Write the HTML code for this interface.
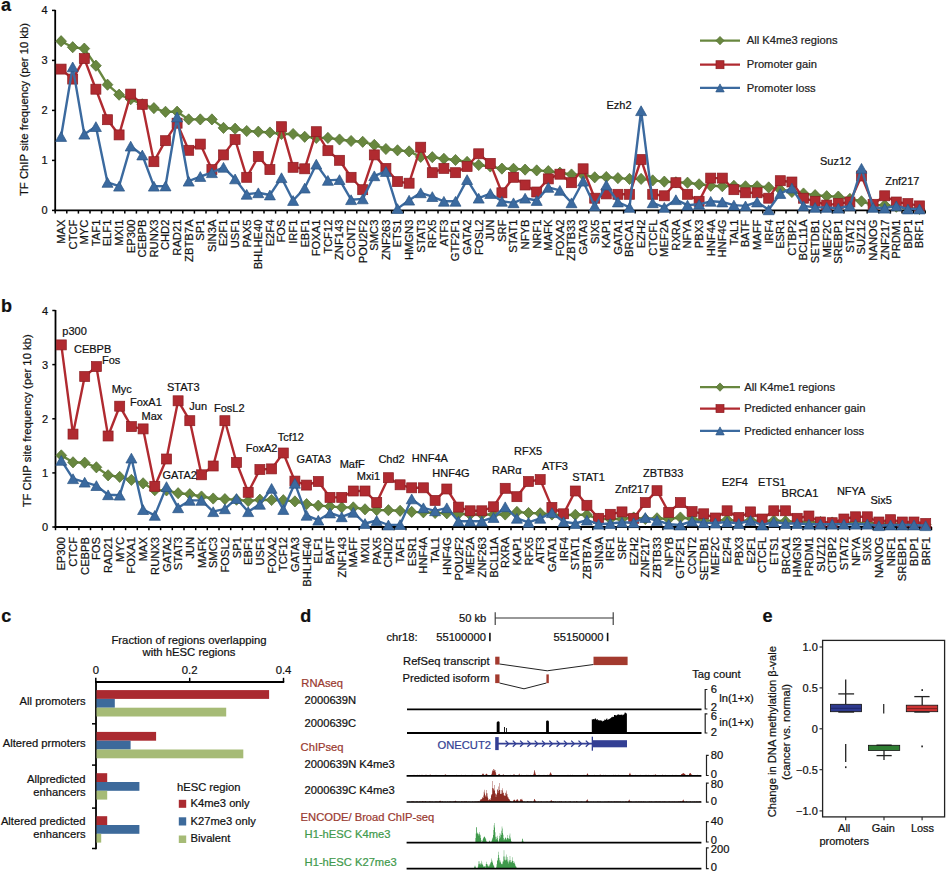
<!DOCTYPE html><html><head><meta charset="utf-8"><style>html,body{margin:0;padding:0;background:#fff;overflow:hidden}svg{display:block}text{font-family:"Liberation Sans", sans-serif;stroke-width:0.22px}</style></head><body>
<svg width="946" height="874" viewBox="0 0 946 874">
<rect width="946" height="874" fill="#fff"/>
<g font-size="11" fill="#111" stroke="#111" stroke-width="0">
<line x1="55.2" y1="9.9" x2="55.2" y2="211.3" stroke="#000" stroke-width="1.8"/>
<line x1="54.3" y1="210.4" x2="925.3" y2="210.4" stroke="#000" stroke-width="1.8"/>
<line x1="52" y1="210.4" x2="55.2" y2="210.4" stroke="#000" stroke-width="1.5"/>
<text x="47.7" y="214.4" text-anchor="end">0</text>
<line x1="52" y1="160.4" x2="55.2" y2="160.4" stroke="#000" stroke-width="1.5"/>
<text x="47.7" y="164.4" text-anchor="end">1</text>
<line x1="52" y1="110.4" x2="55.2" y2="110.4" stroke="#000" stroke-width="1.5"/>
<text x="47.7" y="114.4" text-anchor="end">2</text>
<line x1="52" y1="60.4" x2="55.2" y2="60.4" stroke="#000" stroke-width="1.5"/>
<text x="47.7" y="64.4" text-anchor="end">3</text>
<line x1="52" y1="10.4" x2="55.2" y2="10.4" stroke="#000" stroke-width="1.5"/>
<text x="47.7" y="14.4" text-anchor="end">4</text>
<line x1="55.2" y1="210.4" x2="55.2" y2="213.6" stroke="#000" stroke-width="1.5"/>
<line x1="66.8" y1="210.4" x2="66.8" y2="213.6" stroke="#000" stroke-width="1.5"/>
<line x1="78.4" y1="210.4" x2="78.4" y2="213.6" stroke="#000" stroke-width="1.5"/>
<line x1="90" y1="210.4" x2="90" y2="213.6" stroke="#000" stroke-width="1.5"/>
<line x1="101.6" y1="210.4" x2="101.6" y2="213.6" stroke="#000" stroke-width="1.5"/>
<line x1="113.2" y1="210.4" x2="113.2" y2="213.6" stroke="#000" stroke-width="1.5"/>
<line x1="124.8" y1="210.4" x2="124.8" y2="213.6" stroke="#000" stroke-width="1.5"/>
<line x1="136.4" y1="210.4" x2="136.4" y2="213.6" stroke="#000" stroke-width="1.5"/>
<line x1="148" y1="210.4" x2="148" y2="213.6" stroke="#000" stroke-width="1.5"/>
<line x1="159.6" y1="210.4" x2="159.6" y2="213.6" stroke="#000" stroke-width="1.5"/>
<line x1="171.2" y1="210.4" x2="171.2" y2="213.6" stroke="#000" stroke-width="1.5"/>
<line x1="182.8" y1="210.4" x2="182.8" y2="213.6" stroke="#000" stroke-width="1.5"/>
<line x1="194.4" y1="210.4" x2="194.4" y2="213.6" stroke="#000" stroke-width="1.5"/>
<line x1="206" y1="210.4" x2="206" y2="213.6" stroke="#000" stroke-width="1.5"/>
<line x1="217.6" y1="210.4" x2="217.6" y2="213.6" stroke="#000" stroke-width="1.5"/>
<line x1="229.2" y1="210.4" x2="229.2" y2="213.6" stroke="#000" stroke-width="1.5"/>
<line x1="240.8" y1="210.4" x2="240.8" y2="213.6" stroke="#000" stroke-width="1.5"/>
<line x1="252.4" y1="210.4" x2="252.4" y2="213.6" stroke="#000" stroke-width="1.5"/>
<line x1="264" y1="210.4" x2="264" y2="213.6" stroke="#000" stroke-width="1.5"/>
<line x1="275.6" y1="210.4" x2="275.6" y2="213.6" stroke="#000" stroke-width="1.5"/>
<line x1="287.2" y1="210.4" x2="287.2" y2="213.6" stroke="#000" stroke-width="1.5"/>
<line x1="298.8" y1="210.4" x2="298.8" y2="213.6" stroke="#000" stroke-width="1.5"/>
<line x1="310.4" y1="210.4" x2="310.4" y2="213.6" stroke="#000" stroke-width="1.5"/>
<line x1="322" y1="210.4" x2="322" y2="213.6" stroke="#000" stroke-width="1.5"/>
<line x1="333.6" y1="210.4" x2="333.6" y2="213.6" stroke="#000" stroke-width="1.5"/>
<line x1="345.2" y1="210.4" x2="345.2" y2="213.6" stroke="#000" stroke-width="1.5"/>
<line x1="356.8" y1="210.4" x2="356.8" y2="213.6" stroke="#000" stroke-width="1.5"/>
<line x1="368.4" y1="210.4" x2="368.4" y2="213.6" stroke="#000" stroke-width="1.5"/>
<line x1="380" y1="210.4" x2="380" y2="213.6" stroke="#000" stroke-width="1.5"/>
<line x1="391.6" y1="210.4" x2="391.6" y2="213.6" stroke="#000" stroke-width="1.5"/>
<line x1="403.2" y1="210.4" x2="403.2" y2="213.6" stroke="#000" stroke-width="1.5"/>
<line x1="414.8" y1="210.4" x2="414.8" y2="213.6" stroke="#000" stroke-width="1.5"/>
<line x1="426.4" y1="210.4" x2="426.4" y2="213.6" stroke="#000" stroke-width="1.5"/>
<line x1="438" y1="210.4" x2="438" y2="213.6" stroke="#000" stroke-width="1.5"/>
<line x1="449.6" y1="210.4" x2="449.6" y2="213.6" stroke="#000" stroke-width="1.5"/>
<line x1="461.2" y1="210.4" x2="461.2" y2="213.6" stroke="#000" stroke-width="1.5"/>
<line x1="472.8" y1="210.4" x2="472.8" y2="213.6" stroke="#000" stroke-width="1.5"/>
<line x1="484.4" y1="210.4" x2="484.4" y2="213.6" stroke="#000" stroke-width="1.5"/>
<line x1="496" y1="210.4" x2="496" y2="213.6" stroke="#000" stroke-width="1.5"/>
<line x1="507.6" y1="210.4" x2="507.6" y2="213.6" stroke="#000" stroke-width="1.5"/>
<line x1="519.2" y1="210.4" x2="519.2" y2="213.6" stroke="#000" stroke-width="1.5"/>
<line x1="530.8" y1="210.4" x2="530.8" y2="213.6" stroke="#000" stroke-width="1.5"/>
<line x1="542.4" y1="210.4" x2="542.4" y2="213.6" stroke="#000" stroke-width="1.5"/>
<line x1="554" y1="210.4" x2="554" y2="213.6" stroke="#000" stroke-width="1.5"/>
<line x1="565.6" y1="210.4" x2="565.6" y2="213.6" stroke="#000" stroke-width="1.5"/>
<line x1="577.2" y1="210.4" x2="577.2" y2="213.6" stroke="#000" stroke-width="1.5"/>
<line x1="588.8" y1="210.4" x2="588.8" y2="213.6" stroke="#000" stroke-width="1.5"/>
<line x1="600.4" y1="210.4" x2="600.4" y2="213.6" stroke="#000" stroke-width="1.5"/>
<line x1="612" y1="210.4" x2="612" y2="213.6" stroke="#000" stroke-width="1.5"/>
<line x1="623.6" y1="210.4" x2="623.6" y2="213.6" stroke="#000" stroke-width="1.5"/>
<line x1="635.2" y1="210.4" x2="635.2" y2="213.6" stroke="#000" stroke-width="1.5"/>
<line x1="646.8" y1="210.4" x2="646.8" y2="213.6" stroke="#000" stroke-width="1.5"/>
<line x1="658.4" y1="210.4" x2="658.4" y2="213.6" stroke="#000" stroke-width="1.5"/>
<line x1="670" y1="210.4" x2="670" y2="213.6" stroke="#000" stroke-width="1.5"/>
<line x1="681.6" y1="210.4" x2="681.6" y2="213.6" stroke="#000" stroke-width="1.5"/>
<line x1="693.2" y1="210.4" x2="693.2" y2="213.6" stroke="#000" stroke-width="1.5"/>
<line x1="704.8" y1="210.4" x2="704.8" y2="213.6" stroke="#000" stroke-width="1.5"/>
<line x1="716.4" y1="210.4" x2="716.4" y2="213.6" stroke="#000" stroke-width="1.5"/>
<line x1="728" y1="210.4" x2="728" y2="213.6" stroke="#000" stroke-width="1.5"/>
<line x1="739.6" y1="210.4" x2="739.6" y2="213.6" stroke="#000" stroke-width="1.5"/>
<line x1="751.2" y1="210.4" x2="751.2" y2="213.6" stroke="#000" stroke-width="1.5"/>
<line x1="762.8" y1="210.4" x2="762.8" y2="213.6" stroke="#000" stroke-width="1.5"/>
<line x1="774.4" y1="210.4" x2="774.4" y2="213.6" stroke="#000" stroke-width="1.5"/>
<line x1="786" y1="210.4" x2="786" y2="213.6" stroke="#000" stroke-width="1.5"/>
<line x1="797.6" y1="210.4" x2="797.6" y2="213.6" stroke="#000" stroke-width="1.5"/>
<line x1="809.2" y1="210.4" x2="809.2" y2="213.6" stroke="#000" stroke-width="1.5"/>
<line x1="820.8" y1="210.4" x2="820.8" y2="213.6" stroke="#000" stroke-width="1.5"/>
<line x1="832.4" y1="210.4" x2="832.4" y2="213.6" stroke="#000" stroke-width="1.5"/>
<line x1="844" y1="210.4" x2="844" y2="213.6" stroke="#000" stroke-width="1.5"/>
<line x1="855.6" y1="210.4" x2="855.6" y2="213.6" stroke="#000" stroke-width="1.5"/>
<line x1="867.2" y1="210.4" x2="867.2" y2="213.6" stroke="#000" stroke-width="1.5"/>
<line x1="878.8" y1="210.4" x2="878.8" y2="213.6" stroke="#000" stroke-width="1.5"/>
<line x1="890.4" y1="210.4" x2="890.4" y2="213.6" stroke="#000" stroke-width="1.5"/>
<line x1="902" y1="210.4" x2="902" y2="213.6" stroke="#000" stroke-width="1.5"/>
<line x1="913.6" y1="210.4" x2="913.6" y2="213.6" stroke="#000" stroke-width="1.5"/>
<line x1="925.2" y1="210.4" x2="925.2" y2="213.6" stroke="#000" stroke-width="1.5"/>
<text x="65.1" y="219.6" font-size="11.2" text-anchor="end" transform="rotate(-90 65.1 219.6)">MAX</text>
<text x="76.7" y="219.6" font-size="11.2" text-anchor="end" transform="rotate(-90 76.7 219.6)">CTCF</text>
<text x="88.3" y="219.6" font-size="11.2" text-anchor="end" transform="rotate(-90 88.3 219.6)">MYC</text>
<text x="99.9" y="219.6" font-size="11.2" text-anchor="end" transform="rotate(-90 99.9 219.6)">TAF1</text>
<text x="111.5" y="219.6" font-size="11.2" text-anchor="end" transform="rotate(-90 111.5 219.6)">ELF1</text>
<text x="123.1" y="219.6" font-size="11.2" text-anchor="end" transform="rotate(-90 123.1 219.6)">MXI1</text>
<text x="134.7" y="219.6" font-size="11.2" text-anchor="end" transform="rotate(-90 134.7 219.6)">EP300</text>
<text x="146.3" y="219.6" font-size="11.2" text-anchor="end" transform="rotate(-90 146.3 219.6)">CEBPB</text>
<text x="157.9" y="219.6" font-size="11.2" text-anchor="end" transform="rotate(-90 157.9 219.6)">RUNX3</text>
<text x="169.5" y="219.6" font-size="11.2" text-anchor="end" transform="rotate(-90 169.5 219.6)">CHD2</text>
<text x="181.1" y="219.6" font-size="11.2" text-anchor="end" transform="rotate(-90 181.1 219.6)">RAD21</text>
<text x="192.7" y="219.6" font-size="11.2" text-anchor="end" transform="rotate(-90 192.7 219.6)">ZBTB7A</text>
<text x="204.3" y="219.6" font-size="11.2" text-anchor="end" transform="rotate(-90 204.3 219.6)">SP1</text>
<text x="215.9" y="219.6" font-size="11.2" text-anchor="end" transform="rotate(-90 215.9 219.6)">SIN3A</text>
<text x="227.5" y="219.6" font-size="11.2" text-anchor="end" transform="rotate(-90 227.5 219.6)">E2F1</text>
<text x="239.1" y="219.6" font-size="11.2" text-anchor="end" transform="rotate(-90 239.1 219.6)">USF1</text>
<text x="250.7" y="219.6" font-size="11.2" text-anchor="end" transform="rotate(-90 250.7 219.6)">PAX5</text>
<text x="262.3" y="219.6" font-size="11.2" text-anchor="end" transform="rotate(-90 262.3 219.6)">BHLHE40</text>
<text x="273.9" y="219.6" font-size="11.2" text-anchor="end" transform="rotate(-90 273.9 219.6)">E2F4</text>
<text x="285.5" y="219.6" font-size="11.2" text-anchor="end" transform="rotate(-90 285.5 219.6)">FOS</text>
<text x="297.1" y="219.6" font-size="11.2" text-anchor="end" transform="rotate(-90 297.1 219.6)">IRF1</text>
<text x="308.7" y="219.6" font-size="11.2" text-anchor="end" transform="rotate(-90 308.7 219.6)">EBF1</text>
<text x="320.3" y="219.6" font-size="11.2" text-anchor="end" transform="rotate(-90 320.3 219.6)">FOXA1</text>
<text x="331.9" y="219.6" font-size="11.2" text-anchor="end" transform="rotate(-90 331.9 219.6)">TCF12</text>
<text x="343.5" y="219.6" font-size="11.2" text-anchor="end" transform="rotate(-90 343.5 219.6)">ZNF143</text>
<text x="355.1" y="219.6" font-size="11.2" text-anchor="end" transform="rotate(-90 355.1 219.6)">CCNT2</text>
<text x="366.7" y="219.6" font-size="11.2" text-anchor="end" transform="rotate(-90 366.7 219.6)">POU2F2</text>
<text x="378.3" y="219.6" font-size="11.2" text-anchor="end" transform="rotate(-90 378.3 219.6)">SMC3</text>
<text x="389.9" y="219.6" font-size="11.2" text-anchor="end" transform="rotate(-90 389.9 219.6)">ZNF263</text>
<text x="401.5" y="219.6" font-size="11.2" text-anchor="end" transform="rotate(-90 401.5 219.6)">ETS1</text>
<text x="413.1" y="219.6" font-size="11.2" text-anchor="end" transform="rotate(-90 413.1 219.6)">HMGN3</text>
<text x="424.7" y="219.6" font-size="11.2" text-anchor="end" transform="rotate(-90 424.7 219.6)">STAT3</text>
<text x="436.3" y="219.6" font-size="11.2" text-anchor="end" transform="rotate(-90 436.3 219.6)">RFX5</text>
<text x="447.9" y="219.6" font-size="11.2" text-anchor="end" transform="rotate(-90 447.9 219.6)">ATF3</text>
<text x="459.5" y="219.6" font-size="11.2" text-anchor="end" transform="rotate(-90 459.5 219.6)">GTF2F1</text>
<text x="471.1" y="219.6" font-size="11.2" text-anchor="end" transform="rotate(-90 471.1 219.6)">GATA2</text>
<text x="482.7" y="219.6" font-size="11.2" text-anchor="end" transform="rotate(-90 482.7 219.6)">FOSL2</text>
<text x="494.3" y="219.6" font-size="11.2" text-anchor="end" transform="rotate(-90 494.3 219.6)">JUN</text>
<text x="505.9" y="219.6" font-size="11.2" text-anchor="end" transform="rotate(-90 505.9 219.6)">SRF</text>
<text x="517.5" y="219.6" font-size="11.2" text-anchor="end" transform="rotate(-90 517.5 219.6)">STAT1</text>
<text x="529.1" y="219.6" font-size="11.2" text-anchor="end" transform="rotate(-90 529.1 219.6)">NFYB</text>
<text x="540.7" y="219.6" font-size="11.2" text-anchor="end" transform="rotate(-90 540.7 219.6)">NRF1</text>
<text x="552.3" y="219.6" font-size="11.2" text-anchor="end" transform="rotate(-90 552.3 219.6)">MAFK</text>
<text x="563.9" y="219.6" font-size="11.2" text-anchor="end" transform="rotate(-90 563.9 219.6)">FOXA2</text>
<text x="575.5" y="219.6" font-size="11.2" text-anchor="end" transform="rotate(-90 575.5 219.6)">ZBTB33</text>
<text x="587.1" y="219.6" font-size="11.2" text-anchor="end" transform="rotate(-90 587.1 219.6)">GATA3</text>
<text x="598.7" y="219.6" font-size="11.2" text-anchor="end" transform="rotate(-90 598.7 219.6)">SIX5</text>
<text x="610.3" y="219.6" font-size="11.2" text-anchor="end" transform="rotate(-90 610.3 219.6)">KAP1</text>
<text x="621.9" y="219.6" font-size="11.2" text-anchor="end" transform="rotate(-90 621.9 219.6)">GATA1</text>
<text x="633.5" y="219.6" font-size="11.2" text-anchor="end" transform="rotate(-90 633.5 219.6)">BRCA1</text>
<text x="645.1" y="219.6" font-size="11.2" text-anchor="end" transform="rotate(-90 645.1 219.6)">EZH2</text>
<text x="656.7" y="219.6" font-size="11.2" text-anchor="end" transform="rotate(-90 656.7 219.6)">CTCFL</text>
<text x="668.3" y="219.6" font-size="11.2" text-anchor="end" transform="rotate(-90 668.3 219.6)">MEF2A</text>
<text x="679.9" y="219.6" font-size="11.2" text-anchor="end" transform="rotate(-90 679.9 219.6)">RXRA</text>
<text x="691.5" y="219.6" font-size="11.2" text-anchor="end" transform="rotate(-90 691.5 219.6)">NFYA</text>
<text x="703.1" y="219.6" font-size="11.2" text-anchor="end" transform="rotate(-90 703.1 219.6)">PBX3</text>
<text x="714.7" y="219.6" font-size="11.2" text-anchor="end" transform="rotate(-90 714.7 219.6)">HNF4A</text>
<text x="726.3" y="219.6" font-size="11.2" text-anchor="end" transform="rotate(-90 726.3 219.6)">HNF4G</text>
<text x="737.9" y="219.6" font-size="11.2" text-anchor="end" transform="rotate(-90 737.9 219.6)">TAL1</text>
<text x="749.5" y="219.6" font-size="11.2" text-anchor="end" transform="rotate(-90 749.5 219.6)">BATF</text>
<text x="761.1" y="219.6" font-size="11.2" text-anchor="end" transform="rotate(-90 761.1 219.6)">MAFF</text>
<text x="772.7" y="219.6" font-size="11.2" text-anchor="end" transform="rotate(-90 772.7 219.6)">IRF4</text>
<text x="784.3" y="219.6" font-size="11.2" text-anchor="end" transform="rotate(-90 784.3 219.6)">ESR1</text>
<text x="795.9" y="219.6" font-size="11.2" text-anchor="end" transform="rotate(-90 795.9 219.6)">CTBP2</text>
<text x="807.5" y="219.6" font-size="11.2" text-anchor="end" transform="rotate(-90 807.5 219.6)">BCL11A</text>
<text x="819.1" y="219.6" font-size="11.2" text-anchor="end" transform="rotate(-90 819.1 219.6)">SETDB1</text>
<text x="830.7" y="219.6" font-size="11.2" text-anchor="end" transform="rotate(-90 830.7 219.6)">MEF2C</text>
<text x="842.3" y="219.6" font-size="11.2" text-anchor="end" transform="rotate(-90 842.3 219.6)">SREBP1</text>
<text x="853.9" y="219.6" font-size="11.2" text-anchor="end" transform="rotate(-90 853.9 219.6)">STAT2</text>
<text x="865.5" y="219.6" font-size="11.2" text-anchor="end" transform="rotate(-90 865.5 219.6)">SUZ12</text>
<text x="877.1" y="219.6" font-size="11.2" text-anchor="end" transform="rotate(-90 877.1 219.6)">NANOG</text>
<text x="888.7" y="219.6" font-size="11.2" text-anchor="end" transform="rotate(-90 888.7 219.6)">ZNF217</text>
<text x="900.3" y="219.6" font-size="11.2" text-anchor="end" transform="rotate(-90 900.3 219.6)">PRDM1</text>
<text x="911.9" y="219.6" font-size="11.2" text-anchor="end" transform="rotate(-90 911.9 219.6)">BDP1</text>
<text x="923.5" y="219.6" font-size="11.2" text-anchor="end" transform="rotate(-90 923.5 219.6)">BRF1</text>
<text x="27.5" y="109.5" font-size="11.3" text-anchor="middle" transform="rotate(-90 27.5 109.5)">TF ChIP site frequency (per 10 kb)</text>
<text x="1" y="11" font-size="18" font-weight="bold">a</text>
<polyline points="61.1,41.2 72.7,47.2 84.3,48.6 95.9,65.7 107.5,84.7 119.1,94.7 130.7,99.2 142.3,104.3 153.9,108.1 165.5,111.8 177.1,111.7 188.7,119.4 200.3,119.4 211.9,119.4 223.5,127.9 235.1,128.7 246.7,131 258.3,131.7 269.9,132.5 281.5,134 293.1,134 304.7,136.8 316.3,137.9 327.9,137.9 339.5,139.5 351.1,141 362.7,141.8 374.3,144.9 385.9,149 397.5,150.3 409.1,151.4 420.7,156.9 432.3,157.2 443.9,158.8 455.5,160 467.1,161.9 478.7,165 490.3,166.5 501.9,168.6 513.5,168.8 525.1,169.6 536.7,170.4 548.3,171.1 559.9,172.7 571.5,174.5 583.1,175 594.7,177.3 606.3,177 617.9,178.1 629.5,178.9 641.1,178.9 652.7,180.4 664.3,181.6 675.9,182.3 687.5,182.7 699.1,184.3 710.7,185.8 722.3,186.2 733.9,185.8 745.5,186.3 757.1,186.3 768.7,187.4 780.3,189.7 791.9,192 803.5,193.5 815.1,195.1 826.7,196.2 838.3,196.6 849.9,198.9 861.5,201.3 873.1,205.1 884.7,205.1 896.3,206.7 907.9,208.2 919.5,209" fill="none" stroke="#68873f" stroke-width="2.4" stroke-linejoin="round"/>
<path d="M61.1 35.6L66.5 41.2L61.1 46.8L55.7 41.2Z" fill="#68873f" stroke="#4f6b2c" stroke-width="0.7"/>
<path d="M72.7 41.6L78.1 47.2L72.7 52.8L67.3 47.2Z" fill="#68873f" stroke="#4f6b2c" stroke-width="0.7"/>
<path d="M84.3 43L89.7 48.6L84.3 54.2L78.9 48.6Z" fill="#68873f" stroke="#4f6b2c" stroke-width="0.7"/>
<path d="M95.9 60.1L101.3 65.7L95.9 71.3L90.5 65.7Z" fill="#68873f" stroke="#4f6b2c" stroke-width="0.7"/>
<path d="M107.5 79.1L112.9 84.7L107.5 90.3L102.1 84.7Z" fill="#68873f" stroke="#4f6b2c" stroke-width="0.7"/>
<path d="M119.1 89.1L124.5 94.7L119.1 100.3L113.7 94.7Z" fill="#68873f" stroke="#4f6b2c" stroke-width="0.7"/>
<path d="M130.7 93.6L136.1 99.2L130.7 104.8L125.3 99.2Z" fill="#68873f" stroke="#4f6b2c" stroke-width="0.7"/>
<path d="M142.3 98.7L147.7 104.3L142.3 109.9L136.9 104.3Z" fill="#68873f" stroke="#4f6b2c" stroke-width="0.7"/>
<path d="M153.9 102.5L159.3 108.1L153.9 113.7L148.5 108.1Z" fill="#68873f" stroke="#4f6b2c" stroke-width="0.7"/>
<path d="M165.5 106.2L170.9 111.8L165.5 117.4L160.1 111.8Z" fill="#68873f" stroke="#4f6b2c" stroke-width="0.7"/>
<path d="M177.1 106.1L182.5 111.7L177.1 117.3L171.7 111.7Z" fill="#68873f" stroke="#4f6b2c" stroke-width="0.7"/>
<path d="M188.7 113.8L194.1 119.4L188.7 125L183.3 119.4Z" fill="#68873f" stroke="#4f6b2c" stroke-width="0.7"/>
<path d="M200.3 113.8L205.7 119.4L200.3 125L194.9 119.4Z" fill="#68873f" stroke="#4f6b2c" stroke-width="0.7"/>
<path d="M211.9 113.8L217.3 119.4L211.9 125L206.5 119.4Z" fill="#68873f" stroke="#4f6b2c" stroke-width="0.7"/>
<path d="M223.5 122.3L228.9 127.9L223.5 133.5L218.1 127.9Z" fill="#68873f" stroke="#4f6b2c" stroke-width="0.7"/>
<path d="M235.1 123.1L240.5 128.7L235.1 134.3L229.7 128.7Z" fill="#68873f" stroke="#4f6b2c" stroke-width="0.7"/>
<path d="M246.7 125.4L252.1 131L246.7 136.6L241.3 131Z" fill="#68873f" stroke="#4f6b2c" stroke-width="0.7"/>
<path d="M258.3 126.1L263.7 131.7L258.3 137.3L252.9 131.7Z" fill="#68873f" stroke="#4f6b2c" stroke-width="0.7"/>
<path d="M269.9 126.9L275.3 132.5L269.9 138.1L264.5 132.5Z" fill="#68873f" stroke="#4f6b2c" stroke-width="0.7"/>
<path d="M281.5 128.4L286.9 134L281.5 139.6L276.1 134Z" fill="#68873f" stroke="#4f6b2c" stroke-width="0.7"/>
<path d="M293.1 128.4L298.5 134L293.1 139.6L287.7 134Z" fill="#68873f" stroke="#4f6b2c" stroke-width="0.7"/>
<path d="M304.7 131.2L310.1 136.8L304.7 142.4L299.3 136.8Z" fill="#68873f" stroke="#4f6b2c" stroke-width="0.7"/>
<path d="M316.3 132.3L321.7 137.9L316.3 143.5L310.9 137.9Z" fill="#68873f" stroke="#4f6b2c" stroke-width="0.7"/>
<path d="M327.9 132.3L333.3 137.9L327.9 143.5L322.5 137.9Z" fill="#68873f" stroke="#4f6b2c" stroke-width="0.7"/>
<path d="M339.5 133.9L344.9 139.5L339.5 145.1L334.1 139.5Z" fill="#68873f" stroke="#4f6b2c" stroke-width="0.7"/>
<path d="M351.1 135.4L356.5 141L351.1 146.6L345.7 141Z" fill="#68873f" stroke="#4f6b2c" stroke-width="0.7"/>
<path d="M362.7 136.2L368.1 141.8L362.7 147.4L357.3 141.8Z" fill="#68873f" stroke="#4f6b2c" stroke-width="0.7"/>
<path d="M374.3 139.3L379.7 144.9L374.3 150.5L368.9 144.9Z" fill="#68873f" stroke="#4f6b2c" stroke-width="0.7"/>
<path d="M385.9 143.4L391.3 149L385.9 154.6L380.5 149Z" fill="#68873f" stroke="#4f6b2c" stroke-width="0.7"/>
<path d="M397.5 144.7L402.9 150.3L397.5 155.9L392.1 150.3Z" fill="#68873f" stroke="#4f6b2c" stroke-width="0.7"/>
<path d="M409.1 145.8L414.5 151.4L409.1 157L403.7 151.4Z" fill="#68873f" stroke="#4f6b2c" stroke-width="0.7"/>
<path d="M420.7 151.3L426.1 156.9L420.7 162.5L415.3 156.9Z" fill="#68873f" stroke="#4f6b2c" stroke-width="0.7"/>
<path d="M432.3 151.6L437.7 157.2L432.3 162.8L426.9 157.2Z" fill="#68873f" stroke="#4f6b2c" stroke-width="0.7"/>
<path d="M443.9 153.2L449.3 158.8L443.9 164.4L438.5 158.8Z" fill="#68873f" stroke="#4f6b2c" stroke-width="0.7"/>
<path d="M455.5 154.4L460.9 160L455.5 165.6L450.1 160Z" fill="#68873f" stroke="#4f6b2c" stroke-width="0.7"/>
<path d="M467.1 156.3L472.5 161.9L467.1 167.5L461.7 161.9Z" fill="#68873f" stroke="#4f6b2c" stroke-width="0.7"/>
<path d="M478.7 159.4L484.1 165L478.7 170.6L473.3 165Z" fill="#68873f" stroke="#4f6b2c" stroke-width="0.7"/>
<path d="M490.3 160.9L495.7 166.5L490.3 172.1L484.9 166.5Z" fill="#68873f" stroke="#4f6b2c" stroke-width="0.7"/>
<path d="M501.9 163L507.3 168.6L501.9 174.2L496.5 168.6Z" fill="#68873f" stroke="#4f6b2c" stroke-width="0.7"/>
<path d="M513.5 163.2L518.9 168.8L513.5 174.4L508.1 168.8Z" fill="#68873f" stroke="#4f6b2c" stroke-width="0.7"/>
<path d="M525.1 164L530.5 169.6L525.1 175.2L519.7 169.6Z" fill="#68873f" stroke="#4f6b2c" stroke-width="0.7"/>
<path d="M536.7 164.8L542.1 170.4L536.7 176L531.3 170.4Z" fill="#68873f" stroke="#4f6b2c" stroke-width="0.7"/>
<path d="M548.3 165.5L553.7 171.1L548.3 176.7L542.9 171.1Z" fill="#68873f" stroke="#4f6b2c" stroke-width="0.7"/>
<path d="M559.9 167.1L565.3 172.7L559.9 178.3L554.5 172.7Z" fill="#68873f" stroke="#4f6b2c" stroke-width="0.7"/>
<path d="M571.5 168.9L576.9 174.5L571.5 180.1L566.1 174.5Z" fill="#68873f" stroke="#4f6b2c" stroke-width="0.7"/>
<path d="M583.1 169.4L588.5 175L583.1 180.6L577.7 175Z" fill="#68873f" stroke="#4f6b2c" stroke-width="0.7"/>
<path d="M594.7 171.7L600.1 177.3L594.7 182.9L589.3 177.3Z" fill="#68873f" stroke="#4f6b2c" stroke-width="0.7"/>
<path d="M606.3 171.4L611.7 177L606.3 182.6L600.9 177Z" fill="#68873f" stroke="#4f6b2c" stroke-width="0.7"/>
<path d="M617.9 172.5L623.3 178.1L617.9 183.7L612.5 178.1Z" fill="#68873f" stroke="#4f6b2c" stroke-width="0.7"/>
<path d="M629.5 173.3L634.9 178.9L629.5 184.5L624.1 178.9Z" fill="#68873f" stroke="#4f6b2c" stroke-width="0.7"/>
<path d="M641.1 173.3L646.5 178.9L641.1 184.5L635.7 178.9Z" fill="#68873f" stroke="#4f6b2c" stroke-width="0.7"/>
<path d="M652.7 174.8L658.1 180.4L652.7 186L647.3 180.4Z" fill="#68873f" stroke="#4f6b2c" stroke-width="0.7"/>
<path d="M664.3 176L669.7 181.6L664.3 187.2L658.9 181.6Z" fill="#68873f" stroke="#4f6b2c" stroke-width="0.7"/>
<path d="M675.9 176.7L681.3 182.3L675.9 187.9L670.5 182.3Z" fill="#68873f" stroke="#4f6b2c" stroke-width="0.7"/>
<path d="M687.5 177.1L692.9 182.7L687.5 188.3L682.1 182.7Z" fill="#68873f" stroke="#4f6b2c" stroke-width="0.7"/>
<path d="M699.1 178.7L704.5 184.3L699.1 189.9L693.7 184.3Z" fill="#68873f" stroke="#4f6b2c" stroke-width="0.7"/>
<path d="M710.7 180.2L716.1 185.8L710.7 191.4L705.3 185.8Z" fill="#68873f" stroke="#4f6b2c" stroke-width="0.7"/>
<path d="M722.3 180.6L727.7 186.2L722.3 191.8L716.9 186.2Z" fill="#68873f" stroke="#4f6b2c" stroke-width="0.7"/>
<path d="M733.9 180.2L739.3 185.8L733.9 191.4L728.5 185.8Z" fill="#68873f" stroke="#4f6b2c" stroke-width="0.7"/>
<path d="M745.5 180.7L750.9 186.3L745.5 191.9L740.1 186.3Z" fill="#68873f" stroke="#4f6b2c" stroke-width="0.7"/>
<path d="M757.1 180.7L762.5 186.3L757.1 191.9L751.7 186.3Z" fill="#68873f" stroke="#4f6b2c" stroke-width="0.7"/>
<path d="M768.7 181.8L774.1 187.4L768.7 193L763.3 187.4Z" fill="#68873f" stroke="#4f6b2c" stroke-width="0.7"/>
<path d="M780.3 184.1L785.7 189.7L780.3 195.3L774.9 189.7Z" fill="#68873f" stroke="#4f6b2c" stroke-width="0.7"/>
<path d="M791.9 186.4L797.3 192L791.9 197.6L786.5 192Z" fill="#68873f" stroke="#4f6b2c" stroke-width="0.7"/>
<path d="M803.5 187.9L808.9 193.5L803.5 199.1L798.1 193.5Z" fill="#68873f" stroke="#4f6b2c" stroke-width="0.7"/>
<path d="M815.1 189.5L820.5 195.1L815.1 200.7L809.7 195.1Z" fill="#68873f" stroke="#4f6b2c" stroke-width="0.7"/>
<path d="M826.7 190.6L832.1 196.2L826.7 201.8L821.3 196.2Z" fill="#68873f" stroke="#4f6b2c" stroke-width="0.7"/>
<path d="M838.3 191L843.7 196.6L838.3 202.2L832.9 196.6Z" fill="#68873f" stroke="#4f6b2c" stroke-width="0.7"/>
<path d="M849.9 193.3L855.3 198.9L849.9 204.5L844.5 198.9Z" fill="#68873f" stroke="#4f6b2c" stroke-width="0.7"/>
<path d="M861.5 195.7L866.9 201.3L861.5 206.9L856.1 201.3Z" fill="#68873f" stroke="#4f6b2c" stroke-width="0.7"/>
<path d="M873.1 199.5L878.5 205.1L873.1 210.7L867.7 205.1Z" fill="#68873f" stroke="#4f6b2c" stroke-width="0.7"/>
<path d="M884.7 199.5L890.1 205.1L884.7 210.7L879.3 205.1Z" fill="#68873f" stroke="#4f6b2c" stroke-width="0.7"/>
<path d="M896.3 201.1L901.7 206.7L896.3 212.3L890.9 206.7Z" fill="#68873f" stroke="#4f6b2c" stroke-width="0.7"/>
<path d="M907.9 202.6L913.3 208.2L907.9 213.8L902.5 208.2Z" fill="#68873f" stroke="#4f6b2c" stroke-width="0.7"/>
<path d="M919.5 203.4L924.9 209L919.5 214.6L914.1 209Z" fill="#68873f" stroke="#4f6b2c" stroke-width="0.7"/>
<polyline points="61.1,69.1 72.7,79.1 84.3,58.6 95.9,89.2 107.5,119.7 119.1,134.9 130.7,94.1 142.3,104.3 153.9,161.7 165.5,140.7 177.1,123.2 188.7,150.3 200.3,144.1 211.9,169.6 223.5,154.9 235.1,139.5 246.7,177.3 258.3,156.5 269.9,169.6 281.5,126.7 293.1,167.3 304.7,168.8 316.3,131.7 327.9,150.7 339.5,160.3 351.1,177.3 362.7,189.7 374.3,154.9 385.9,168.4 397.5,181.6 409.1,183.2 420.7,147.2 432.3,172.7 443.9,168.4 455.5,172.7 467.1,166.5 478.7,153.8 490.3,163.4 501.9,192.8 513.5,177.3 525.1,185 536.7,192 548.3,178.9 559.9,174.2 571.5,182.7 583.1,168.8 594.7,198.2 606.3,193.9 617.9,194.3 629.5,194.3 641.1,159.5 652.7,194.3 664.3,195.8 675.9,182.7 687.5,194.3 699.1,201.3 710.7,178.1 722.3,178.1 733.9,189.7 745.5,192.8 757.1,192.8 768.7,198.2 780.3,180.7 791.9,182 803.5,198.2 815.1,201.3 826.7,205.1 838.3,203.6 849.9,202 861.5,176 873.1,204.3 884.7,195.8 896.3,202 907.9,203.6 919.5,205.9" fill="none" stroke="#b02a30" stroke-width="2.4" stroke-linejoin="round"/>
<rect x="56.1" y="64.1" width="10" height="10" fill="#b02a30" stroke="#8c1d22" stroke-width="0.7"/>
<rect x="67.7" y="74.1" width="10" height="10" fill="#b02a30" stroke="#8c1d22" stroke-width="0.7"/>
<rect x="79.3" y="53.6" width="10" height="10" fill="#b02a30" stroke="#8c1d22" stroke-width="0.7"/>
<rect x="90.9" y="84.2" width="10" height="10" fill="#b02a30" stroke="#8c1d22" stroke-width="0.7"/>
<rect x="102.5" y="114.7" width="10" height="10" fill="#b02a30" stroke="#8c1d22" stroke-width="0.7"/>
<rect x="114.1" y="129.9" width="10" height="10" fill="#b02a30" stroke="#8c1d22" stroke-width="0.7"/>
<rect x="125.7" y="89.1" width="10" height="10" fill="#b02a30" stroke="#8c1d22" stroke-width="0.7"/>
<rect x="137.3" y="99.3" width="10" height="10" fill="#b02a30" stroke="#8c1d22" stroke-width="0.7"/>
<rect x="148.9" y="156.7" width="10" height="10" fill="#b02a30" stroke="#8c1d22" stroke-width="0.7"/>
<rect x="160.5" y="135.7" width="10" height="10" fill="#b02a30" stroke="#8c1d22" stroke-width="0.7"/>
<rect x="172.1" y="118.2" width="10" height="10" fill="#b02a30" stroke="#8c1d22" stroke-width="0.7"/>
<rect x="183.7" y="145.3" width="10" height="10" fill="#b02a30" stroke="#8c1d22" stroke-width="0.7"/>
<rect x="195.3" y="139.1" width="10" height="10" fill="#b02a30" stroke="#8c1d22" stroke-width="0.7"/>
<rect x="206.9" y="164.6" width="10" height="10" fill="#b02a30" stroke="#8c1d22" stroke-width="0.7"/>
<rect x="218.5" y="149.9" width="10" height="10" fill="#b02a30" stroke="#8c1d22" stroke-width="0.7"/>
<rect x="230.1" y="134.5" width="10" height="10" fill="#b02a30" stroke="#8c1d22" stroke-width="0.7"/>
<rect x="241.7" y="172.3" width="10" height="10" fill="#b02a30" stroke="#8c1d22" stroke-width="0.7"/>
<rect x="253.3" y="151.5" width="10" height="10" fill="#b02a30" stroke="#8c1d22" stroke-width="0.7"/>
<rect x="264.9" y="164.6" width="10" height="10" fill="#b02a30" stroke="#8c1d22" stroke-width="0.7"/>
<rect x="276.5" y="121.7" width="10" height="10" fill="#b02a30" stroke="#8c1d22" stroke-width="0.7"/>
<rect x="288.1" y="162.3" width="10" height="10" fill="#b02a30" stroke="#8c1d22" stroke-width="0.7"/>
<rect x="299.7" y="163.8" width="10" height="10" fill="#b02a30" stroke="#8c1d22" stroke-width="0.7"/>
<rect x="311.3" y="126.7" width="10" height="10" fill="#b02a30" stroke="#8c1d22" stroke-width="0.7"/>
<rect x="322.9" y="145.7" width="10" height="10" fill="#b02a30" stroke="#8c1d22" stroke-width="0.7"/>
<rect x="334.5" y="155.3" width="10" height="10" fill="#b02a30" stroke="#8c1d22" stroke-width="0.7"/>
<rect x="346.1" y="172.3" width="10" height="10" fill="#b02a30" stroke="#8c1d22" stroke-width="0.7"/>
<rect x="357.7" y="184.7" width="10" height="10" fill="#b02a30" stroke="#8c1d22" stroke-width="0.7"/>
<rect x="369.3" y="149.9" width="10" height="10" fill="#b02a30" stroke="#8c1d22" stroke-width="0.7"/>
<rect x="380.9" y="163.4" width="10" height="10" fill="#b02a30" stroke="#8c1d22" stroke-width="0.7"/>
<rect x="392.5" y="176.6" width="10" height="10" fill="#b02a30" stroke="#8c1d22" stroke-width="0.7"/>
<rect x="404.1" y="178.2" width="10" height="10" fill="#b02a30" stroke="#8c1d22" stroke-width="0.7"/>
<rect x="415.7" y="142.2" width="10" height="10" fill="#b02a30" stroke="#8c1d22" stroke-width="0.7"/>
<rect x="427.3" y="167.7" width="10" height="10" fill="#b02a30" stroke="#8c1d22" stroke-width="0.7"/>
<rect x="438.9" y="163.4" width="10" height="10" fill="#b02a30" stroke="#8c1d22" stroke-width="0.7"/>
<rect x="450.5" y="167.7" width="10" height="10" fill="#b02a30" stroke="#8c1d22" stroke-width="0.7"/>
<rect x="462.1" y="161.5" width="10" height="10" fill="#b02a30" stroke="#8c1d22" stroke-width="0.7"/>
<rect x="473.7" y="148.8" width="10" height="10" fill="#b02a30" stroke="#8c1d22" stroke-width="0.7"/>
<rect x="485.3" y="158.4" width="10" height="10" fill="#b02a30" stroke="#8c1d22" stroke-width="0.7"/>
<rect x="496.9" y="187.8" width="10" height="10" fill="#b02a30" stroke="#8c1d22" stroke-width="0.7"/>
<rect x="508.5" y="172.3" width="10" height="10" fill="#b02a30" stroke="#8c1d22" stroke-width="0.7"/>
<rect x="520.1" y="180" width="10" height="10" fill="#b02a30" stroke="#8c1d22" stroke-width="0.7"/>
<rect x="531.7" y="187" width="10" height="10" fill="#b02a30" stroke="#8c1d22" stroke-width="0.7"/>
<rect x="543.3" y="173.9" width="10" height="10" fill="#b02a30" stroke="#8c1d22" stroke-width="0.7"/>
<rect x="554.9" y="169.2" width="10" height="10" fill="#b02a30" stroke="#8c1d22" stroke-width="0.7"/>
<rect x="566.5" y="177.7" width="10" height="10" fill="#b02a30" stroke="#8c1d22" stroke-width="0.7"/>
<rect x="578.1" y="163.8" width="10" height="10" fill="#b02a30" stroke="#8c1d22" stroke-width="0.7"/>
<rect x="589.7" y="193.2" width="10" height="10" fill="#b02a30" stroke="#8c1d22" stroke-width="0.7"/>
<rect x="601.3" y="188.9" width="10" height="10" fill="#b02a30" stroke="#8c1d22" stroke-width="0.7"/>
<rect x="612.9" y="189.3" width="10" height="10" fill="#b02a30" stroke="#8c1d22" stroke-width="0.7"/>
<rect x="624.5" y="189.3" width="10" height="10" fill="#b02a30" stroke="#8c1d22" stroke-width="0.7"/>
<rect x="636.1" y="154.5" width="10" height="10" fill="#b02a30" stroke="#8c1d22" stroke-width="0.7"/>
<rect x="647.7" y="189.3" width="10" height="10" fill="#b02a30" stroke="#8c1d22" stroke-width="0.7"/>
<rect x="659.3" y="190.8" width="10" height="10" fill="#b02a30" stroke="#8c1d22" stroke-width="0.7"/>
<rect x="670.9" y="177.7" width="10" height="10" fill="#b02a30" stroke="#8c1d22" stroke-width="0.7"/>
<rect x="682.5" y="189.3" width="10" height="10" fill="#b02a30" stroke="#8c1d22" stroke-width="0.7"/>
<rect x="694.1" y="196.3" width="10" height="10" fill="#b02a30" stroke="#8c1d22" stroke-width="0.7"/>
<rect x="705.7" y="173.1" width="10" height="10" fill="#b02a30" stroke="#8c1d22" stroke-width="0.7"/>
<rect x="717.3" y="173.1" width="10" height="10" fill="#b02a30" stroke="#8c1d22" stroke-width="0.7"/>
<rect x="728.9" y="184.7" width="10" height="10" fill="#b02a30" stroke="#8c1d22" stroke-width="0.7"/>
<rect x="740.5" y="187.8" width="10" height="10" fill="#b02a30" stroke="#8c1d22" stroke-width="0.7"/>
<rect x="752.1" y="187.8" width="10" height="10" fill="#b02a30" stroke="#8c1d22" stroke-width="0.7"/>
<rect x="763.7" y="193.2" width="10" height="10" fill="#b02a30" stroke="#8c1d22" stroke-width="0.7"/>
<rect x="775.3" y="175.7" width="10" height="10" fill="#b02a30" stroke="#8c1d22" stroke-width="0.7"/>
<rect x="786.9" y="177" width="10" height="10" fill="#b02a30" stroke="#8c1d22" stroke-width="0.7"/>
<rect x="798.5" y="193.2" width="10" height="10" fill="#b02a30" stroke="#8c1d22" stroke-width="0.7"/>
<rect x="810.1" y="196.3" width="10" height="10" fill="#b02a30" stroke="#8c1d22" stroke-width="0.7"/>
<rect x="821.7" y="200.1" width="10" height="10" fill="#b02a30" stroke="#8c1d22" stroke-width="0.7"/>
<rect x="833.3" y="198.6" width="10" height="10" fill="#b02a30" stroke="#8c1d22" stroke-width="0.7"/>
<rect x="844.9" y="197" width="10" height="10" fill="#b02a30" stroke="#8c1d22" stroke-width="0.7"/>
<rect x="856.5" y="171" width="10" height="10" fill="#b02a30" stroke="#8c1d22" stroke-width="0.7"/>
<rect x="868.1" y="199.3" width="10" height="10" fill="#b02a30" stroke="#8c1d22" stroke-width="0.7"/>
<rect x="879.7" y="190.8" width="10" height="10" fill="#b02a30" stroke="#8c1d22" stroke-width="0.7"/>
<rect x="891.3" y="197" width="10" height="10" fill="#b02a30" stroke="#8c1d22" stroke-width="0.7"/>
<rect x="902.9" y="198.6" width="10" height="10" fill="#b02a30" stroke="#8c1d22" stroke-width="0.7"/>
<rect x="914.5" y="200.9" width="10" height="10" fill="#b02a30" stroke="#8c1d22" stroke-width="0.7"/>
<polyline points="61.1,136.5 72.7,66.9 84.3,134.2 95.9,126.6 107.5,182.4 119.1,186.2 130.7,146.1 142.3,155 153.9,186.2 165.5,186 177.1,117 188.7,181.2 200.3,176.5 211.9,172.7 223.5,167.3 235.1,178.9 246.7,194.3 258.3,192.8 269.9,195 281.5,177.7 293.1,200.5 304.7,188.1 316.3,164.2 327.9,180.4 339.5,179.6 351.1,199.7 362.7,198.9 374.3,175.8 385.9,171.5 397.5,208.6 409.1,200.2 420.7,192.8 432.3,196.6 443.9,201.3 455.5,201.3 467.1,179.6 478.7,198.2 490.3,193.5 501.9,201.3 513.5,202.8 525.1,198.2 536.7,200.5 548.3,187.4 559.9,190.4 571.5,202.8 583.1,181.2 594.7,205.9 606.3,185 617.9,202 629.5,207.4 641.1,110.7 652.7,202.8 664.3,207.4 675.9,199.7 687.5,205.1 699.1,204.3 710.7,201.3 722.3,202 733.9,205.1 745.5,205.9 757.1,202 768.7,209.8 780.3,193.5 791.9,188.1 803.5,205.9 815.1,207.4 826.7,207.4 838.3,208.2 849.9,205.9 861.5,168.3 873.1,207.4 884.7,208.2 896.3,205.9 907.9,209 919.5,209" fill="none" stroke="#3b6a9f" stroke-width="2.4" stroke-linejoin="round"/>
<path d="M61.1 131.6L66.6 141.4L55.6 141.4Z" fill="#3b6a9f" stroke="#2b5584" stroke-width="0.7" stroke-linejoin="round"/>
<path d="M72.7 62L78.2 71.8L67.2 71.8Z" fill="#3b6a9f" stroke="#2b5584" stroke-width="0.7" stroke-linejoin="round"/>
<path d="M84.3 129.3L89.8 139.1L78.8 139.1Z" fill="#3b6a9f" stroke="#2b5584" stroke-width="0.7" stroke-linejoin="round"/>
<path d="M95.9 121.7L101.4 131.5L90.4 131.5Z" fill="#3b6a9f" stroke="#2b5584" stroke-width="0.7" stroke-linejoin="round"/>
<path d="M107.5 177.5L113 187.3L102 187.3Z" fill="#3b6a9f" stroke="#2b5584" stroke-width="0.7" stroke-linejoin="round"/>
<path d="M119.1 181.3L124.6 191.1L113.6 191.1Z" fill="#3b6a9f" stroke="#2b5584" stroke-width="0.7" stroke-linejoin="round"/>
<path d="M130.7 141.2L136.2 151L125.2 151Z" fill="#3b6a9f" stroke="#2b5584" stroke-width="0.7" stroke-linejoin="round"/>
<path d="M142.3 150.1L147.8 159.9L136.8 159.9Z" fill="#3b6a9f" stroke="#2b5584" stroke-width="0.7" stroke-linejoin="round"/>
<path d="M153.9 181.3L159.4 191.1L148.4 191.1Z" fill="#3b6a9f" stroke="#2b5584" stroke-width="0.7" stroke-linejoin="round"/>
<path d="M165.5 181.1L171 190.9L160 190.9Z" fill="#3b6a9f" stroke="#2b5584" stroke-width="0.7" stroke-linejoin="round"/>
<path d="M177.1 112.1L182.6 121.9L171.6 121.9Z" fill="#3b6a9f" stroke="#2b5584" stroke-width="0.7" stroke-linejoin="round"/>
<path d="M188.7 176.3L194.2 186.1L183.2 186.1Z" fill="#3b6a9f" stroke="#2b5584" stroke-width="0.7" stroke-linejoin="round"/>
<path d="M200.3 171.6L205.8 181.4L194.8 181.4Z" fill="#3b6a9f" stroke="#2b5584" stroke-width="0.7" stroke-linejoin="round"/>
<path d="M211.9 167.8L217.4 177.6L206.4 177.6Z" fill="#3b6a9f" stroke="#2b5584" stroke-width="0.7" stroke-linejoin="round"/>
<path d="M223.5 162.4L229 172.2L218 172.2Z" fill="#3b6a9f" stroke="#2b5584" stroke-width="0.7" stroke-linejoin="round"/>
<path d="M235.1 174L240.6 183.8L229.6 183.8Z" fill="#3b6a9f" stroke="#2b5584" stroke-width="0.7" stroke-linejoin="round"/>
<path d="M246.7 189.4L252.2 199.2L241.2 199.2Z" fill="#3b6a9f" stroke="#2b5584" stroke-width="0.7" stroke-linejoin="round"/>
<path d="M258.3 187.9L263.8 197.7L252.8 197.7Z" fill="#3b6a9f" stroke="#2b5584" stroke-width="0.7" stroke-linejoin="round"/>
<path d="M269.9 190.1L275.4 199.9L264.4 199.9Z" fill="#3b6a9f" stroke="#2b5584" stroke-width="0.7" stroke-linejoin="round"/>
<path d="M281.5 172.8L287 182.6L276 182.6Z" fill="#3b6a9f" stroke="#2b5584" stroke-width="0.7" stroke-linejoin="round"/>
<path d="M293.1 195.6L298.6 205.4L287.6 205.4Z" fill="#3b6a9f" stroke="#2b5584" stroke-width="0.7" stroke-linejoin="round"/>
<path d="M304.7 183.2L310.2 193L299.2 193Z" fill="#3b6a9f" stroke="#2b5584" stroke-width="0.7" stroke-linejoin="round"/>
<path d="M316.3 159.3L321.8 169.1L310.8 169.1Z" fill="#3b6a9f" stroke="#2b5584" stroke-width="0.7" stroke-linejoin="round"/>
<path d="M327.9 175.5L333.4 185.3L322.4 185.3Z" fill="#3b6a9f" stroke="#2b5584" stroke-width="0.7" stroke-linejoin="round"/>
<path d="M339.5 174.7L345 184.5L334 184.5Z" fill="#3b6a9f" stroke="#2b5584" stroke-width="0.7" stroke-linejoin="round"/>
<path d="M351.1 194.8L356.6 204.6L345.6 204.6Z" fill="#3b6a9f" stroke="#2b5584" stroke-width="0.7" stroke-linejoin="round"/>
<path d="M362.7 194L368.2 203.8L357.2 203.8Z" fill="#3b6a9f" stroke="#2b5584" stroke-width="0.7" stroke-linejoin="round"/>
<path d="M374.3 170.9L379.8 180.7L368.8 180.7Z" fill="#3b6a9f" stroke="#2b5584" stroke-width="0.7" stroke-linejoin="round"/>
<path d="M385.9 166.6L391.4 176.4L380.4 176.4Z" fill="#3b6a9f" stroke="#2b5584" stroke-width="0.7" stroke-linejoin="round"/>
<path d="M397.5 203.7L403 213.5L392 213.5Z" fill="#3b6a9f" stroke="#2b5584" stroke-width="0.7" stroke-linejoin="round"/>
<path d="M409.1 195.3L414.6 205.1L403.6 205.1Z" fill="#3b6a9f" stroke="#2b5584" stroke-width="0.7" stroke-linejoin="round"/>
<path d="M420.7 187.9L426.2 197.7L415.2 197.7Z" fill="#3b6a9f" stroke="#2b5584" stroke-width="0.7" stroke-linejoin="round"/>
<path d="M432.3 191.7L437.8 201.5L426.8 201.5Z" fill="#3b6a9f" stroke="#2b5584" stroke-width="0.7" stroke-linejoin="round"/>
<path d="M443.9 196.4L449.4 206.2L438.4 206.2Z" fill="#3b6a9f" stroke="#2b5584" stroke-width="0.7" stroke-linejoin="round"/>
<path d="M455.5 196.4L461 206.2L450 206.2Z" fill="#3b6a9f" stroke="#2b5584" stroke-width="0.7" stroke-linejoin="round"/>
<path d="M467.1 174.7L472.6 184.5L461.6 184.5Z" fill="#3b6a9f" stroke="#2b5584" stroke-width="0.7" stroke-linejoin="round"/>
<path d="M478.7 193.3L484.2 203.1L473.2 203.1Z" fill="#3b6a9f" stroke="#2b5584" stroke-width="0.7" stroke-linejoin="round"/>
<path d="M490.3 188.6L495.8 198.4L484.8 198.4Z" fill="#3b6a9f" stroke="#2b5584" stroke-width="0.7" stroke-linejoin="round"/>
<path d="M501.9 196.4L507.4 206.2L496.4 206.2Z" fill="#3b6a9f" stroke="#2b5584" stroke-width="0.7" stroke-linejoin="round"/>
<path d="M513.5 197.9L519 207.7L508 207.7Z" fill="#3b6a9f" stroke="#2b5584" stroke-width="0.7" stroke-linejoin="round"/>
<path d="M525.1 193.3L530.6 203.1L519.6 203.1Z" fill="#3b6a9f" stroke="#2b5584" stroke-width="0.7" stroke-linejoin="round"/>
<path d="M536.7 195.6L542.2 205.4L531.2 205.4Z" fill="#3b6a9f" stroke="#2b5584" stroke-width="0.7" stroke-linejoin="round"/>
<path d="M548.3 182.5L553.8 192.3L542.8 192.3Z" fill="#3b6a9f" stroke="#2b5584" stroke-width="0.7" stroke-linejoin="round"/>
<path d="M559.9 185.5L565.4 195.3L554.4 195.3Z" fill="#3b6a9f" stroke="#2b5584" stroke-width="0.7" stroke-linejoin="round"/>
<path d="M571.5 197.9L577 207.7L566 207.7Z" fill="#3b6a9f" stroke="#2b5584" stroke-width="0.7" stroke-linejoin="round"/>
<path d="M583.1 176.3L588.6 186.1L577.6 186.1Z" fill="#3b6a9f" stroke="#2b5584" stroke-width="0.7" stroke-linejoin="round"/>
<path d="M594.7 201L600.2 210.8L589.2 210.8Z" fill="#3b6a9f" stroke="#2b5584" stroke-width="0.7" stroke-linejoin="round"/>
<path d="M606.3 180.1L611.8 189.9L600.8 189.9Z" fill="#3b6a9f" stroke="#2b5584" stroke-width="0.7" stroke-linejoin="round"/>
<path d="M617.9 197.1L623.4 206.9L612.4 206.9Z" fill="#3b6a9f" stroke="#2b5584" stroke-width="0.7" stroke-linejoin="round"/>
<path d="M629.5 202.5L635 212.3L624 212.3Z" fill="#3b6a9f" stroke="#2b5584" stroke-width="0.7" stroke-linejoin="round"/>
<path d="M641.1 105.8L646.6 115.6L635.6 115.6Z" fill="#3b6a9f" stroke="#2b5584" stroke-width="0.7" stroke-linejoin="round"/>
<path d="M652.7 197.9L658.2 207.7L647.2 207.7Z" fill="#3b6a9f" stroke="#2b5584" stroke-width="0.7" stroke-linejoin="round"/>
<path d="M664.3 202.5L669.8 212.3L658.8 212.3Z" fill="#3b6a9f" stroke="#2b5584" stroke-width="0.7" stroke-linejoin="round"/>
<path d="M675.9 194.8L681.4 204.6L670.4 204.6Z" fill="#3b6a9f" stroke="#2b5584" stroke-width="0.7" stroke-linejoin="round"/>
<path d="M687.5 200.2L693 210L682 210Z" fill="#3b6a9f" stroke="#2b5584" stroke-width="0.7" stroke-linejoin="round"/>
<path d="M699.1 199.4L704.6 209.2L693.6 209.2Z" fill="#3b6a9f" stroke="#2b5584" stroke-width="0.7" stroke-linejoin="round"/>
<path d="M710.7 196.4L716.2 206.2L705.2 206.2Z" fill="#3b6a9f" stroke="#2b5584" stroke-width="0.7" stroke-linejoin="round"/>
<path d="M722.3 197.1L727.8 206.9L716.8 206.9Z" fill="#3b6a9f" stroke="#2b5584" stroke-width="0.7" stroke-linejoin="round"/>
<path d="M733.9 200.2L739.4 210L728.4 210Z" fill="#3b6a9f" stroke="#2b5584" stroke-width="0.7" stroke-linejoin="round"/>
<path d="M745.5 201L751 210.8L740 210.8Z" fill="#3b6a9f" stroke="#2b5584" stroke-width="0.7" stroke-linejoin="round"/>
<path d="M757.1 197.1L762.6 206.9L751.6 206.9Z" fill="#3b6a9f" stroke="#2b5584" stroke-width="0.7" stroke-linejoin="round"/>
<path d="M768.7 204.9L774.2 214.7L763.2 214.7Z" fill="#3b6a9f" stroke="#2b5584" stroke-width="0.7" stroke-linejoin="round"/>
<path d="M780.3 188.6L785.8 198.4L774.8 198.4Z" fill="#3b6a9f" stroke="#2b5584" stroke-width="0.7" stroke-linejoin="round"/>
<path d="M791.9 183.2L797.4 193L786.4 193Z" fill="#3b6a9f" stroke="#2b5584" stroke-width="0.7" stroke-linejoin="round"/>
<path d="M803.5 201L809 210.8L798 210.8Z" fill="#3b6a9f" stroke="#2b5584" stroke-width="0.7" stroke-linejoin="round"/>
<path d="M815.1 202.5L820.6 212.3L809.6 212.3Z" fill="#3b6a9f" stroke="#2b5584" stroke-width="0.7" stroke-linejoin="round"/>
<path d="M826.7 202.5L832.2 212.3L821.2 212.3Z" fill="#3b6a9f" stroke="#2b5584" stroke-width="0.7" stroke-linejoin="round"/>
<path d="M838.3 203.3L843.8 213.1L832.8 213.1Z" fill="#3b6a9f" stroke="#2b5584" stroke-width="0.7" stroke-linejoin="round"/>
<path d="M849.9 201L855.4 210.8L844.4 210.8Z" fill="#3b6a9f" stroke="#2b5584" stroke-width="0.7" stroke-linejoin="round"/>
<path d="M861.5 163.4L867 173.2L856 173.2Z" fill="#3b6a9f" stroke="#2b5584" stroke-width="0.7" stroke-linejoin="round"/>
<path d="M873.1 202.5L878.6 212.3L867.6 212.3Z" fill="#3b6a9f" stroke="#2b5584" stroke-width="0.7" stroke-linejoin="round"/>
<path d="M884.7 203.3L890.2 213.1L879.2 213.1Z" fill="#3b6a9f" stroke="#2b5584" stroke-width="0.7" stroke-linejoin="round"/>
<path d="M896.3 201L901.8 210.8L890.8 210.8Z" fill="#3b6a9f" stroke="#2b5584" stroke-width="0.7" stroke-linejoin="round"/>
<path d="M907.9 204.1L913.4 213.9L902.4 213.9Z" fill="#3b6a9f" stroke="#2b5584" stroke-width="0.7" stroke-linejoin="round"/>
<path d="M919.5 204.1L925 213.9L914 213.9Z" fill="#3b6a9f" stroke="#2b5584" stroke-width="0.7" stroke-linejoin="round"/>
<text x="606.5" y="108.6">Ezh2</text>
<text x="820" y="165.3">Suz12</text>
<text x="885.2" y="185">Znf217</text>
<line x1="700" y1="40.6" x2="740" y2="40.6" stroke="#68873f" stroke-width="2.2"/>
<path d="M720 36.4L724 40.6L720 44.8L716 40.6Z" fill="#68873f" stroke="#4f6b2c" stroke-width="0.7"/>
<text x="746.7" y="44.2" font-size="11.2" fill="#222" stroke="#222">All K4me3 regions</text>
<line x1="700" y1="64.7" x2="740" y2="64.7" stroke="#b02a30" stroke-width="2.2"/>
<rect x="716" y="60.7" width="8" height="8" fill="#b02a30" stroke="#8c1d22" stroke-width="0.7"/>
<text x="746.7" y="68.3" font-size="11.2" fill="#222" stroke="#222">Promoter gain</text>
<line x1="700" y1="87.9" x2="740" y2="87.9" stroke="#3b6a9f" stroke-width="2.2"/>
<path d="M720 83.9L724.2 91.9L715.8 91.9Z" fill="#3b6a9f" stroke="#2b5584" stroke-width="0.7" stroke-linejoin="round"/>
<text x="746.7" y="91.5" font-size="11.2" fill="#222" stroke="#222">Promoter loss</text>
<line x1="55.5" y1="310" x2="55.5" y2="527.9" stroke="#000" stroke-width="1.8"/>
<line x1="54.6" y1="527" x2="931.6" y2="527" stroke="#000" stroke-width="1.8"/>
<line x1="52.3" y1="527" x2="55.5" y2="527" stroke="#000" stroke-width="1.5"/>
<text x="48" y="531" text-anchor="end">0</text>
<line x1="52.3" y1="472.9" x2="55.5" y2="472.9" stroke="#000" stroke-width="1.5"/>
<text x="48" y="476.9" text-anchor="end">1</text>
<line x1="52.3" y1="418.8" x2="55.5" y2="418.8" stroke="#000" stroke-width="1.5"/>
<text x="48" y="422.8" text-anchor="end">2</text>
<line x1="52.3" y1="364.6" x2="55.5" y2="364.6" stroke="#000" stroke-width="1.5"/>
<text x="48" y="368.6" text-anchor="end">3</text>
<line x1="52.3" y1="310.5" x2="55.5" y2="310.5" stroke="#000" stroke-width="1.5"/>
<text x="48" y="314.5" text-anchor="end">4</text>
<line x1="55.5" y1="527" x2="55.5" y2="530.2" stroke="#000" stroke-width="1.5"/>
<line x1="67.2" y1="527" x2="67.2" y2="530.2" stroke="#000" stroke-width="1.5"/>
<line x1="78.9" y1="527" x2="78.9" y2="530.2" stroke="#000" stroke-width="1.5"/>
<line x1="90.5" y1="527" x2="90.5" y2="530.2" stroke="#000" stroke-width="1.5"/>
<line x1="102.2" y1="527" x2="102.2" y2="530.2" stroke="#000" stroke-width="1.5"/>
<line x1="113.9" y1="527" x2="113.9" y2="530.2" stroke="#000" stroke-width="1.5"/>
<line x1="125.6" y1="527" x2="125.6" y2="530.2" stroke="#000" stroke-width="1.5"/>
<line x1="137.3" y1="527" x2="137.3" y2="530.2" stroke="#000" stroke-width="1.5"/>
<line x1="148.9" y1="527" x2="148.9" y2="530.2" stroke="#000" stroke-width="1.5"/>
<line x1="160.6" y1="527" x2="160.6" y2="530.2" stroke="#000" stroke-width="1.5"/>
<line x1="172.3" y1="527" x2="172.3" y2="530.2" stroke="#000" stroke-width="1.5"/>
<line x1="184" y1="527" x2="184" y2="530.2" stroke="#000" stroke-width="1.5"/>
<line x1="195.7" y1="527" x2="195.7" y2="530.2" stroke="#000" stroke-width="1.5"/>
<line x1="207.3" y1="527" x2="207.3" y2="530.2" stroke="#000" stroke-width="1.5"/>
<line x1="219" y1="527" x2="219" y2="530.2" stroke="#000" stroke-width="1.5"/>
<line x1="230.7" y1="527" x2="230.7" y2="530.2" stroke="#000" stroke-width="1.5"/>
<line x1="242.4" y1="527" x2="242.4" y2="530.2" stroke="#000" stroke-width="1.5"/>
<line x1="254.1" y1="527" x2="254.1" y2="530.2" stroke="#000" stroke-width="1.5"/>
<line x1="265.7" y1="527" x2="265.7" y2="530.2" stroke="#000" stroke-width="1.5"/>
<line x1="277.4" y1="527" x2="277.4" y2="530.2" stroke="#000" stroke-width="1.5"/>
<line x1="289.1" y1="527" x2="289.1" y2="530.2" stroke="#000" stroke-width="1.5"/>
<line x1="300.8" y1="527" x2="300.8" y2="530.2" stroke="#000" stroke-width="1.5"/>
<line x1="312.5" y1="527" x2="312.5" y2="530.2" stroke="#000" stroke-width="1.5"/>
<line x1="324.1" y1="527" x2="324.1" y2="530.2" stroke="#000" stroke-width="1.5"/>
<line x1="335.8" y1="527" x2="335.8" y2="530.2" stroke="#000" stroke-width="1.5"/>
<line x1="347.5" y1="527" x2="347.5" y2="530.2" stroke="#000" stroke-width="1.5"/>
<line x1="359.2" y1="527" x2="359.2" y2="530.2" stroke="#000" stroke-width="1.5"/>
<line x1="370.9" y1="527" x2="370.9" y2="530.2" stroke="#000" stroke-width="1.5"/>
<line x1="382.5" y1="527" x2="382.5" y2="530.2" stroke="#000" stroke-width="1.5"/>
<line x1="394.2" y1="527" x2="394.2" y2="530.2" stroke="#000" stroke-width="1.5"/>
<line x1="405.9" y1="527" x2="405.9" y2="530.2" stroke="#000" stroke-width="1.5"/>
<line x1="417.6" y1="527" x2="417.6" y2="530.2" stroke="#000" stroke-width="1.5"/>
<line x1="429.3" y1="527" x2="429.3" y2="530.2" stroke="#000" stroke-width="1.5"/>
<line x1="440.9" y1="527" x2="440.9" y2="530.2" stroke="#000" stroke-width="1.5"/>
<line x1="452.6" y1="527" x2="452.6" y2="530.2" stroke="#000" stroke-width="1.5"/>
<line x1="464.3" y1="527" x2="464.3" y2="530.2" stroke="#000" stroke-width="1.5"/>
<line x1="476" y1="527" x2="476" y2="530.2" stroke="#000" stroke-width="1.5"/>
<line x1="487.7" y1="527" x2="487.7" y2="530.2" stroke="#000" stroke-width="1.5"/>
<line x1="499.3" y1="527" x2="499.3" y2="530.2" stroke="#000" stroke-width="1.5"/>
<line x1="511" y1="527" x2="511" y2="530.2" stroke="#000" stroke-width="1.5"/>
<line x1="522.7" y1="527" x2="522.7" y2="530.2" stroke="#000" stroke-width="1.5"/>
<line x1="534.4" y1="527" x2="534.4" y2="530.2" stroke="#000" stroke-width="1.5"/>
<line x1="546.1" y1="527" x2="546.1" y2="530.2" stroke="#000" stroke-width="1.5"/>
<line x1="557.7" y1="527" x2="557.7" y2="530.2" stroke="#000" stroke-width="1.5"/>
<line x1="569.4" y1="527" x2="569.4" y2="530.2" stroke="#000" stroke-width="1.5"/>
<line x1="581.1" y1="527" x2="581.1" y2="530.2" stroke="#000" stroke-width="1.5"/>
<line x1="592.8" y1="527" x2="592.8" y2="530.2" stroke="#000" stroke-width="1.5"/>
<line x1="604.5" y1="527" x2="604.5" y2="530.2" stroke="#000" stroke-width="1.5"/>
<line x1="616.1" y1="527" x2="616.1" y2="530.2" stroke="#000" stroke-width="1.5"/>
<line x1="627.8" y1="527" x2="627.8" y2="530.2" stroke="#000" stroke-width="1.5"/>
<line x1="639.5" y1="527" x2="639.5" y2="530.2" stroke="#000" stroke-width="1.5"/>
<line x1="651.2" y1="527" x2="651.2" y2="530.2" stroke="#000" stroke-width="1.5"/>
<line x1="662.9" y1="527" x2="662.9" y2="530.2" stroke="#000" stroke-width="1.5"/>
<line x1="674.5" y1="527" x2="674.5" y2="530.2" stroke="#000" stroke-width="1.5"/>
<line x1="686.2" y1="527" x2="686.2" y2="530.2" stroke="#000" stroke-width="1.5"/>
<line x1="697.9" y1="527" x2="697.9" y2="530.2" stroke="#000" stroke-width="1.5"/>
<line x1="709.6" y1="527" x2="709.6" y2="530.2" stroke="#000" stroke-width="1.5"/>
<line x1="721.3" y1="527" x2="721.3" y2="530.2" stroke="#000" stroke-width="1.5"/>
<line x1="732.9" y1="527" x2="732.9" y2="530.2" stroke="#000" stroke-width="1.5"/>
<line x1="744.6" y1="527" x2="744.6" y2="530.2" stroke="#000" stroke-width="1.5"/>
<line x1="756.3" y1="527" x2="756.3" y2="530.2" stroke="#000" stroke-width="1.5"/>
<line x1="768" y1="527" x2="768" y2="530.2" stroke="#000" stroke-width="1.5"/>
<line x1="779.7" y1="527" x2="779.7" y2="530.2" stroke="#000" stroke-width="1.5"/>
<line x1="791.3" y1="527" x2="791.3" y2="530.2" stroke="#000" stroke-width="1.5"/>
<line x1="803" y1="527" x2="803" y2="530.2" stroke="#000" stroke-width="1.5"/>
<line x1="814.7" y1="527" x2="814.7" y2="530.2" stroke="#000" stroke-width="1.5"/>
<line x1="826.4" y1="527" x2="826.4" y2="530.2" stroke="#000" stroke-width="1.5"/>
<line x1="838.1" y1="527" x2="838.1" y2="530.2" stroke="#000" stroke-width="1.5"/>
<line x1="849.7" y1="527" x2="849.7" y2="530.2" stroke="#000" stroke-width="1.5"/>
<line x1="861.4" y1="527" x2="861.4" y2="530.2" stroke="#000" stroke-width="1.5"/>
<line x1="873.1" y1="527" x2="873.1" y2="530.2" stroke="#000" stroke-width="1.5"/>
<line x1="884.8" y1="527" x2="884.8" y2="530.2" stroke="#000" stroke-width="1.5"/>
<line x1="896.5" y1="527" x2="896.5" y2="530.2" stroke="#000" stroke-width="1.5"/>
<line x1="908.1" y1="527" x2="908.1" y2="530.2" stroke="#000" stroke-width="1.5"/>
<line x1="919.8" y1="527" x2="919.8" y2="530.2" stroke="#000" stroke-width="1.5"/>
<line x1="931.5" y1="527" x2="931.5" y2="530.2" stroke="#000" stroke-width="1.5"/>
<text x="65.3" y="537" font-size="11.2" text-anchor="end" transform="rotate(-90 65.3 537)">EP300</text>
<text x="77" y="537" font-size="11.2" text-anchor="end" transform="rotate(-90 77 537)">CTCF</text>
<text x="88.7" y="537" font-size="11.2" text-anchor="end" transform="rotate(-90 88.7 537)">CEBPB</text>
<text x="100.4" y="537" font-size="11.2" text-anchor="end" transform="rotate(-90 100.4 537)">FOS</text>
<text x="112.1" y="537" font-size="11.2" text-anchor="end" transform="rotate(-90 112.1 537)">RAD21</text>
<text x="123.7" y="537" font-size="11.2" text-anchor="end" transform="rotate(-90 123.7 537)">MYC</text>
<text x="135.4" y="537" font-size="11.2" text-anchor="end" transform="rotate(-90 135.4 537)">FOXA1</text>
<text x="147.1" y="537" font-size="11.2" text-anchor="end" transform="rotate(-90 147.1 537)">MAX</text>
<text x="158.8" y="537" font-size="11.2" text-anchor="end" transform="rotate(-90 158.8 537)">RUNX3</text>
<text x="170.5" y="537" font-size="11.2" text-anchor="end" transform="rotate(-90 170.5 537)">GATA2</text>
<text x="182.1" y="537" font-size="11.2" text-anchor="end" transform="rotate(-90 182.1 537)">STAT3</text>
<text x="193.8" y="537" font-size="11.2" text-anchor="end" transform="rotate(-90 193.8 537)">JUN</text>
<text x="205.5" y="537" font-size="11.2" text-anchor="end" transform="rotate(-90 205.5 537)">MAFK</text>
<text x="217.2" y="537" font-size="11.2" text-anchor="end" transform="rotate(-90 217.2 537)">SMC3</text>
<text x="228.9" y="537" font-size="11.2" text-anchor="end" transform="rotate(-90 228.9 537)">FOSL2</text>
<text x="240.5" y="537" font-size="11.2" text-anchor="end" transform="rotate(-90 240.5 537)">SP1</text>
<text x="252.2" y="537" font-size="11.2" text-anchor="end" transform="rotate(-90 252.2 537)">EBF1</text>
<text x="263.9" y="537" font-size="11.2" text-anchor="end" transform="rotate(-90 263.9 537)">USF1</text>
<text x="275.6" y="537" font-size="11.2" text-anchor="end" transform="rotate(-90 275.6 537)">FOXA2</text>
<text x="287.3" y="537" font-size="11.2" text-anchor="end" transform="rotate(-90 287.3 537)">TCF12</text>
<text x="298.9" y="537" font-size="11.2" text-anchor="end" transform="rotate(-90 298.9 537)">GATA3</text>
<text x="310.6" y="537" font-size="11.2" text-anchor="end" transform="rotate(-90 310.6 537)">BHLHE40</text>
<text x="322.3" y="537" font-size="11.2" text-anchor="end" transform="rotate(-90 322.3 537)">ELF1</text>
<text x="334" y="537" font-size="11.2" text-anchor="end" transform="rotate(-90 334 537)">BATF</text>
<text x="345.7" y="537" font-size="11.2" text-anchor="end" transform="rotate(-90 345.7 537)">ZNF143</text>
<text x="357.3" y="537" font-size="11.2" text-anchor="end" transform="rotate(-90 357.3 537)">MAFF</text>
<text x="369" y="537" font-size="11.2" text-anchor="end" transform="rotate(-90 369 537)">MXI1</text>
<text x="380.7" y="537" font-size="11.2" text-anchor="end" transform="rotate(-90 380.7 537)">PAX5</text>
<text x="392.4" y="537" font-size="11.2" text-anchor="end" transform="rotate(-90 392.4 537)">CHD2</text>
<text x="404.1" y="537" font-size="11.2" text-anchor="end" transform="rotate(-90 404.1 537)">TAF1</text>
<text x="415.7" y="537" font-size="11.2" text-anchor="end" transform="rotate(-90 415.7 537)">ESR1</text>
<text x="427.4" y="537" font-size="11.2" text-anchor="end" transform="rotate(-90 427.4 537)">HNF4A</text>
<text x="439.1" y="537" font-size="11.2" text-anchor="end" transform="rotate(-90 439.1 537)">TAL1</text>
<text x="450.8" y="537" font-size="11.2" text-anchor="end" transform="rotate(-90 450.8 537)">HNF4G</text>
<text x="462.5" y="537" font-size="11.2" text-anchor="end" transform="rotate(-90 462.5 537)">POU2F2</text>
<text x="474.1" y="537" font-size="11.2" text-anchor="end" transform="rotate(-90 474.1 537)">MEF2A</text>
<text x="485.8" y="537" font-size="11.2" text-anchor="end" transform="rotate(-90 485.8 537)">ZNF263</text>
<text x="497.5" y="537" font-size="11.2" text-anchor="end" transform="rotate(-90 497.5 537)">BCL11A</text>
<text x="509.2" y="537" font-size="11.2" text-anchor="end" transform="rotate(-90 509.2 537)">RXRA</text>
<text x="520.9" y="537" font-size="11.2" text-anchor="end" transform="rotate(-90 520.9 537)">KAP1</text>
<text x="532.5" y="537" font-size="11.2" text-anchor="end" transform="rotate(-90 532.5 537)">RFX5</text>
<text x="544.2" y="537" font-size="11.2" text-anchor="end" transform="rotate(-90 544.2 537)">ATF3</text>
<text x="555.9" y="537" font-size="11.2" text-anchor="end" transform="rotate(-90 555.9 537)">GATA1</text>
<text x="567.6" y="537" font-size="11.2" text-anchor="end" transform="rotate(-90 567.6 537)">IRF4</text>
<text x="579.3" y="537" font-size="11.2" text-anchor="end" transform="rotate(-90 579.3 537)">STAT1</text>
<text x="590.9" y="537" font-size="11.2" text-anchor="end" transform="rotate(-90 590.9 537)">ZBTB7A</text>
<text x="602.6" y="537" font-size="11.2" text-anchor="end" transform="rotate(-90 602.6 537)">SIN3A</text>
<text x="614.3" y="537" font-size="11.2" text-anchor="end" transform="rotate(-90 614.3 537)">IRF1</text>
<text x="626" y="537" font-size="11.2" text-anchor="end" transform="rotate(-90 626 537)">SRF</text>
<text x="637.7" y="537" font-size="11.2" text-anchor="end" transform="rotate(-90 637.7 537)">EZH2</text>
<text x="649.3" y="537" font-size="11.2" text-anchor="end" transform="rotate(-90 649.3 537)">ZNF217</text>
<text x="661" y="537" font-size="11.2" text-anchor="end" transform="rotate(-90 661 537)">ZBTB33</text>
<text x="672.7" y="537" font-size="11.2" text-anchor="end" transform="rotate(-90 672.7 537)">NFYB</text>
<text x="684.4" y="537" font-size="11.2" text-anchor="end" transform="rotate(-90 684.4 537)">GTF2F1</text>
<text x="696.1" y="537" font-size="11.2" text-anchor="end" transform="rotate(-90 696.1 537)">CCNT2</text>
<text x="707.7" y="537" font-size="11.2" text-anchor="end" transform="rotate(-90 707.7 537)">SETDB1</text>
<text x="719.4" y="537" font-size="11.2" text-anchor="end" transform="rotate(-90 719.4 537)">MEF2C</text>
<text x="731.1" y="537" font-size="11.2" text-anchor="end" transform="rotate(-90 731.1 537)">E2F4</text>
<text x="742.8" y="537" font-size="11.2" text-anchor="end" transform="rotate(-90 742.8 537)">PBX3</text>
<text x="754.5" y="537" font-size="11.2" text-anchor="end" transform="rotate(-90 754.5 537)">E2F1</text>
<text x="766.1" y="537" font-size="11.2" text-anchor="end" transform="rotate(-90 766.1 537)">CTCFL</text>
<text x="777.8" y="537" font-size="11.2" text-anchor="end" transform="rotate(-90 777.8 537)">ETS1</text>
<text x="789.5" y="537" font-size="11.2" text-anchor="end" transform="rotate(-90 789.5 537)">BRCA1</text>
<text x="801.2" y="537" font-size="11.2" text-anchor="end" transform="rotate(-90 801.2 537)">HMGN3</text>
<text x="812.9" y="537" font-size="11.2" text-anchor="end" transform="rotate(-90 812.9 537)">PRDM1</text>
<text x="824.5" y="537" font-size="11.2" text-anchor="end" transform="rotate(-90 824.5 537)">SUZ12</text>
<text x="836.2" y="537" font-size="11.2" text-anchor="end" transform="rotate(-90 836.2 537)">CTBP2</text>
<text x="847.9" y="537" font-size="11.2" text-anchor="end" transform="rotate(-90 847.9 537)">STAT2</text>
<text x="859.6" y="537" font-size="11.2" text-anchor="end" transform="rotate(-90 859.6 537)">NFYA</text>
<text x="871.3" y="537" font-size="11.2" text-anchor="end" transform="rotate(-90 871.3 537)">SIX5</text>
<text x="882.9" y="537" font-size="11.2" text-anchor="end" transform="rotate(-90 882.9 537)">NANOG</text>
<text x="894.6" y="537" font-size="11.2" text-anchor="end" transform="rotate(-90 894.6 537)">NRF1</text>
<text x="906.3" y="537" font-size="11.2" text-anchor="end" transform="rotate(-90 906.3 537)">SREBP1</text>
<text x="918" y="537" font-size="11.2" text-anchor="end" transform="rotate(-90 918 537)">BDP1</text>
<text x="929.7" y="537" font-size="11.2" text-anchor="end" transform="rotate(-90 929.7 537)">BRF1</text>
<text x="30.8" y="420.8" font-size="11.3" text-anchor="middle" transform="rotate(-90 30.8 420.8)">TF ChIP site frequency (per 10 kb)</text>
<text x="1" y="311.5" font-size="18" font-weight="bold">b</text>
<polyline points="61.3,455.4 73,462.3 84.7,462.7 96.4,467.3 108.1,475.3 119.7,476.9 131.4,479.9 143.1,483.3 154.8,490.2 166.5,490.4 178.1,493.2 189.8,494.2 201.5,496.5 213.2,498.5 224.9,499.1 236.5,499.7 248.2,501 259.9,499.7 271.6,500 283.3,500.2 294.9,501.4 306.6,504.1 318.3,505.6 330,506.4 341.7,507.4 353.3,507.4 365,509.3 376.7,510.1 388.4,510.2 400.1,510.8 411.7,511.9 423.4,512.3 435.1,513 446.8,513.3 458.5,513.8 470.1,514.5 481.8,514.5 493.5,514.5 505.2,514.5 516.9,511.9 528.5,513 540.2,513.3 551.9,514.5 563.6,515.3 575.3,514.8 586.9,514.8 598.6,519 610.3,519 622,519 633.7,517.5 645.3,519 657,518.3 668.7,519 680.4,517.5 692.1,519 703.7,520.5 715.4,520.6 727.1,519.7 738.8,521.2 750.5,520.2 762.1,521.2 773.8,520.5 785.5,521.2 797.2,521.7 808.9,522 820.5,522 832.2,522.5 843.9,522.5 855.6,523 867.3,523 878.9,523.5 890.6,523.5 902.3,524 914,524 925.7,524.5" fill="none" stroke="#68873f" stroke-width="2.4" stroke-linejoin="round"/>
<path d="M61.3 449.8L66.7 455.4L61.3 461L55.9 455.4Z" fill="#68873f" stroke="#4f6b2c" stroke-width="0.7"/>
<path d="M73 456.7L78.4 462.3L73 467.9L67.6 462.3Z" fill="#68873f" stroke="#4f6b2c" stroke-width="0.7"/>
<path d="M84.7 457.1L90.1 462.7L84.7 468.3L79.3 462.7Z" fill="#68873f" stroke="#4f6b2c" stroke-width="0.7"/>
<path d="M96.4 461.7L101.8 467.3L96.4 472.9L91 467.3Z" fill="#68873f" stroke="#4f6b2c" stroke-width="0.7"/>
<path d="M108.1 469.7L113.5 475.3L108.1 480.9L102.7 475.3Z" fill="#68873f" stroke="#4f6b2c" stroke-width="0.7"/>
<path d="M119.7 471.3L125.1 476.9L119.7 482.5L114.3 476.9Z" fill="#68873f" stroke="#4f6b2c" stroke-width="0.7"/>
<path d="M131.4 474.3L136.8 479.9L131.4 485.5L126 479.9Z" fill="#68873f" stroke="#4f6b2c" stroke-width="0.7"/>
<path d="M143.1 477.7L148.5 483.3L143.1 488.9L137.7 483.3Z" fill="#68873f" stroke="#4f6b2c" stroke-width="0.7"/>
<path d="M154.8 484.6L160.2 490.2L154.8 495.8L149.4 490.2Z" fill="#68873f" stroke="#4f6b2c" stroke-width="0.7"/>
<path d="M166.5 484.8L171.9 490.4L166.5 496L161.1 490.4Z" fill="#68873f" stroke="#4f6b2c" stroke-width="0.7"/>
<path d="M178.1 487.6L183.5 493.2L178.1 498.8L172.7 493.2Z" fill="#68873f" stroke="#4f6b2c" stroke-width="0.7"/>
<path d="M189.8 488.6L195.2 494.2L189.8 499.8L184.4 494.2Z" fill="#68873f" stroke="#4f6b2c" stroke-width="0.7"/>
<path d="M201.5 490.9L206.9 496.5L201.5 502.1L196.1 496.5Z" fill="#68873f" stroke="#4f6b2c" stroke-width="0.7"/>
<path d="M213.2 492.9L218.6 498.5L213.2 504.1L207.8 498.5Z" fill="#68873f" stroke="#4f6b2c" stroke-width="0.7"/>
<path d="M224.9 493.5L230.3 499.1L224.9 504.7L219.5 499.1Z" fill="#68873f" stroke="#4f6b2c" stroke-width="0.7"/>
<path d="M236.5 494.1L241.9 499.7L236.5 505.3L231.1 499.7Z" fill="#68873f" stroke="#4f6b2c" stroke-width="0.7"/>
<path d="M248.2 495.4L253.6 501L248.2 506.6L242.8 501Z" fill="#68873f" stroke="#4f6b2c" stroke-width="0.7"/>
<path d="M259.9 494.1L265.3 499.7L259.9 505.3L254.5 499.7Z" fill="#68873f" stroke="#4f6b2c" stroke-width="0.7"/>
<path d="M271.6 494.4L277 500L271.6 505.6L266.2 500Z" fill="#68873f" stroke="#4f6b2c" stroke-width="0.7"/>
<path d="M283.3 494.6L288.7 500.2L283.3 505.8L277.9 500.2Z" fill="#68873f" stroke="#4f6b2c" stroke-width="0.7"/>
<path d="M294.9 495.8L300.3 501.4L294.9 507L289.5 501.4Z" fill="#68873f" stroke="#4f6b2c" stroke-width="0.7"/>
<path d="M306.6 498.5L312 504.1L306.6 509.7L301.2 504.1Z" fill="#68873f" stroke="#4f6b2c" stroke-width="0.7"/>
<path d="M318.3 500L323.7 505.6L318.3 511.2L312.9 505.6Z" fill="#68873f" stroke="#4f6b2c" stroke-width="0.7"/>
<path d="M330 500.8L335.4 506.4L330 512L324.6 506.4Z" fill="#68873f" stroke="#4f6b2c" stroke-width="0.7"/>
<path d="M341.7 501.8L347.1 507.4L341.7 513L336.3 507.4Z" fill="#68873f" stroke="#4f6b2c" stroke-width="0.7"/>
<path d="M353.3 501.8L358.7 507.4L353.3 513L347.9 507.4Z" fill="#68873f" stroke="#4f6b2c" stroke-width="0.7"/>
<path d="M365 503.7L370.4 509.3L365 514.9L359.6 509.3Z" fill="#68873f" stroke="#4f6b2c" stroke-width="0.7"/>
<path d="M376.7 504.5L382.1 510.1L376.7 515.7L371.3 510.1Z" fill="#68873f" stroke="#4f6b2c" stroke-width="0.7"/>
<path d="M388.4 504.6L393.8 510.2L388.4 515.8L383 510.2Z" fill="#68873f" stroke="#4f6b2c" stroke-width="0.7"/>
<path d="M400.1 505.2L405.5 510.8L400.1 516.4L394.7 510.8Z" fill="#68873f" stroke="#4f6b2c" stroke-width="0.7"/>
<path d="M411.7 506.3L417.1 511.9L411.7 517.5L406.3 511.9Z" fill="#68873f" stroke="#4f6b2c" stroke-width="0.7"/>
<path d="M423.4 506.7L428.8 512.3L423.4 517.9L418 512.3Z" fill="#68873f" stroke="#4f6b2c" stroke-width="0.7"/>
<path d="M435.1 507.4L440.5 513L435.1 518.6L429.7 513Z" fill="#68873f" stroke="#4f6b2c" stroke-width="0.7"/>
<path d="M446.8 507.7L452.2 513.3L446.8 518.9L441.4 513.3Z" fill="#68873f" stroke="#4f6b2c" stroke-width="0.7"/>
<path d="M458.5 508.2L463.9 513.8L458.5 519.4L453.1 513.8Z" fill="#68873f" stroke="#4f6b2c" stroke-width="0.7"/>
<path d="M470.1 508.9L475.5 514.5L470.1 520.1L464.7 514.5Z" fill="#68873f" stroke="#4f6b2c" stroke-width="0.7"/>
<path d="M481.8 508.9L487.2 514.5L481.8 520.1L476.4 514.5Z" fill="#68873f" stroke="#4f6b2c" stroke-width="0.7"/>
<path d="M493.5 508.9L498.9 514.5L493.5 520.1L488.1 514.5Z" fill="#68873f" stroke="#4f6b2c" stroke-width="0.7"/>
<path d="M505.2 508.9L510.6 514.5L505.2 520.1L499.8 514.5Z" fill="#68873f" stroke="#4f6b2c" stroke-width="0.7"/>
<path d="M516.9 506.3L522.3 511.9L516.9 517.5L511.5 511.9Z" fill="#68873f" stroke="#4f6b2c" stroke-width="0.7"/>
<path d="M528.5 507.4L533.9 513L528.5 518.6L523.1 513Z" fill="#68873f" stroke="#4f6b2c" stroke-width="0.7"/>
<path d="M540.2 507.7L545.6 513.3L540.2 518.9L534.8 513.3Z" fill="#68873f" stroke="#4f6b2c" stroke-width="0.7"/>
<path d="M551.9 508.9L557.3 514.5L551.9 520.1L546.5 514.5Z" fill="#68873f" stroke="#4f6b2c" stroke-width="0.7"/>
<path d="M563.6 509.7L569 515.3L563.6 520.9L558.2 515.3Z" fill="#68873f" stroke="#4f6b2c" stroke-width="0.7"/>
<path d="M575.3 509.2L580.7 514.8L575.3 520.4L569.9 514.8Z" fill="#68873f" stroke="#4f6b2c" stroke-width="0.7"/>
<path d="M586.9 509.2L592.3 514.8L586.9 520.4L581.5 514.8Z" fill="#68873f" stroke="#4f6b2c" stroke-width="0.7"/>
<path d="M598.6 513.4L604 519L598.6 524.6L593.2 519Z" fill="#68873f" stroke="#4f6b2c" stroke-width="0.7"/>
<path d="M610.3 513.4L615.7 519L610.3 524.6L604.9 519Z" fill="#68873f" stroke="#4f6b2c" stroke-width="0.7"/>
<path d="M622 513.4L627.4 519L622 524.6L616.6 519Z" fill="#68873f" stroke="#4f6b2c" stroke-width="0.7"/>
<path d="M633.7 511.9L639.1 517.5L633.7 523.1L628.3 517.5Z" fill="#68873f" stroke="#4f6b2c" stroke-width="0.7"/>
<path d="M645.3 513.4L650.7 519L645.3 524.6L639.9 519Z" fill="#68873f" stroke="#4f6b2c" stroke-width="0.7"/>
<path d="M657 512.7L662.4 518.3L657 523.9L651.6 518.3Z" fill="#68873f" stroke="#4f6b2c" stroke-width="0.7"/>
<path d="M668.7 513.4L674.1 519L668.7 524.6L663.3 519Z" fill="#68873f" stroke="#4f6b2c" stroke-width="0.7"/>
<path d="M680.4 511.9L685.8 517.5L680.4 523.1L675 517.5Z" fill="#68873f" stroke="#4f6b2c" stroke-width="0.7"/>
<path d="M692.1 513.4L697.5 519L692.1 524.6L686.7 519Z" fill="#68873f" stroke="#4f6b2c" stroke-width="0.7"/>
<path d="M703.7 514.9L709.1 520.5L703.7 526.1L698.3 520.5Z" fill="#68873f" stroke="#4f6b2c" stroke-width="0.7"/>
<path d="M715.4 515L720.8 520.6L715.4 526.2L710 520.6Z" fill="#68873f" stroke="#4f6b2c" stroke-width="0.7"/>
<path d="M727.1 514.1L732.5 519.7L727.1 525.3L721.7 519.7Z" fill="#68873f" stroke="#4f6b2c" stroke-width="0.7"/>
<path d="M738.8 515.6L744.2 521.2L738.8 526.8L733.4 521.2Z" fill="#68873f" stroke="#4f6b2c" stroke-width="0.7"/>
<path d="M750.5 514.6L755.9 520.2L750.5 525.8L745.1 520.2Z" fill="#68873f" stroke="#4f6b2c" stroke-width="0.7"/>
<path d="M762.1 515.6L767.5 521.2L762.1 526.8L756.7 521.2Z" fill="#68873f" stroke="#4f6b2c" stroke-width="0.7"/>
<path d="M773.8 514.9L779.2 520.5L773.8 526.1L768.4 520.5Z" fill="#68873f" stroke="#4f6b2c" stroke-width="0.7"/>
<path d="M785.5 515.6L790.9 521.2L785.5 526.8L780.1 521.2Z" fill="#68873f" stroke="#4f6b2c" stroke-width="0.7"/>
<path d="M797.2 516.1L802.6 521.7L797.2 527.3L791.8 521.7Z" fill="#68873f" stroke="#4f6b2c" stroke-width="0.7"/>
<path d="M808.9 516.4L814.3 522L808.9 527.6L803.5 522Z" fill="#68873f" stroke="#4f6b2c" stroke-width="0.7"/>
<path d="M820.5 516.4L825.9 522L820.5 527.6L815.1 522Z" fill="#68873f" stroke="#4f6b2c" stroke-width="0.7"/>
<path d="M832.2 516.9L837.6 522.5L832.2 528.1L826.8 522.5Z" fill="#68873f" stroke="#4f6b2c" stroke-width="0.7"/>
<path d="M843.9 516.9L849.3 522.5L843.9 528.1L838.5 522.5Z" fill="#68873f" stroke="#4f6b2c" stroke-width="0.7"/>
<path d="M855.6 517.4L861 523L855.6 528.6L850.2 523Z" fill="#68873f" stroke="#4f6b2c" stroke-width="0.7"/>
<path d="M867.3 517.4L872.7 523L867.3 528.6L861.9 523Z" fill="#68873f" stroke="#4f6b2c" stroke-width="0.7"/>
<path d="M878.9 517.9L884.3 523.5L878.9 529.1L873.5 523.5Z" fill="#68873f" stroke="#4f6b2c" stroke-width="0.7"/>
<path d="M890.6 517.9L896 523.5L890.6 529.1L885.2 523.5Z" fill="#68873f" stroke="#4f6b2c" stroke-width="0.7"/>
<path d="M902.3 518.4L907.7 524L902.3 529.6L896.9 524Z" fill="#68873f" stroke="#4f6b2c" stroke-width="0.7"/>
<path d="M914 518.4L919.4 524L914 529.6L908.6 524Z" fill="#68873f" stroke="#4f6b2c" stroke-width="0.7"/>
<path d="M925.7 518.9L931.1 524.5L925.7 530.1L920.3 524.5Z" fill="#68873f" stroke="#4f6b2c" stroke-width="0.7"/>
<polyline points="61.3,344.9 73,434.1 84.7,376.5 96.4,366.6 108.1,436 119.7,406.2 131.4,426.6 143.1,428.9 154.8,486.3 166.5,459 178.1,400.8 189.8,420.7 201.5,474.8 213.2,466 224.9,420.7 236.5,462.5 248.2,492.3 259.9,469.5 271.6,468.9 283.3,453 294.9,481.1 306.6,485.1 318.3,481.5 330,497.4 341.7,497.4 353.3,491 365,491 376.7,502.6 388.4,477.7 400.1,484.8 411.7,487.8 423.4,487.8 435.1,500.4 446.8,489 458.5,507.1 470.1,510.8 481.8,510.8 493.5,506.8 505.2,488.3 516.9,496.7 528.5,481.5 540.2,479.6 551.9,507.4 563.6,513.8 575.3,491 586.9,505.3 598.6,518.3 610.3,514.3 622,511.9 633.7,518.3 645.3,502.6 657,490.7 668.7,512.3 680.4,502.6 692.1,511.6 703.7,513.8 715.4,518 727.1,510.8 738.8,517.5 750.5,511.9 762.1,519 773.8,510.8 785.5,510.8 797.2,518.3 808.9,516 820.5,522 832.2,522.7 843.9,519 855.6,516.8 867.3,516.8 878.9,522 890.6,519.7 902.3,522 914,522 925.7,523.5" fill="none" stroke="#b02a30" stroke-width="2.4" stroke-linejoin="round"/>
<rect x="56.3" y="339.9" width="10" height="10" fill="#b02a30" stroke="#8c1d22" stroke-width="0.7"/>
<rect x="68" y="429.1" width="10" height="10" fill="#b02a30" stroke="#8c1d22" stroke-width="0.7"/>
<rect x="79.7" y="371.5" width="10" height="10" fill="#b02a30" stroke="#8c1d22" stroke-width="0.7"/>
<rect x="91.4" y="361.6" width="10" height="10" fill="#b02a30" stroke="#8c1d22" stroke-width="0.7"/>
<rect x="103.1" y="431" width="10" height="10" fill="#b02a30" stroke="#8c1d22" stroke-width="0.7"/>
<rect x="114.7" y="401.2" width="10" height="10" fill="#b02a30" stroke="#8c1d22" stroke-width="0.7"/>
<rect x="126.4" y="421.6" width="10" height="10" fill="#b02a30" stroke="#8c1d22" stroke-width="0.7"/>
<rect x="138.1" y="423.9" width="10" height="10" fill="#b02a30" stroke="#8c1d22" stroke-width="0.7"/>
<rect x="149.8" y="481.3" width="10" height="10" fill="#b02a30" stroke="#8c1d22" stroke-width="0.7"/>
<rect x="161.5" y="454" width="10" height="10" fill="#b02a30" stroke="#8c1d22" stroke-width="0.7"/>
<rect x="173.1" y="395.8" width="10" height="10" fill="#b02a30" stroke="#8c1d22" stroke-width="0.7"/>
<rect x="184.8" y="415.7" width="10" height="10" fill="#b02a30" stroke="#8c1d22" stroke-width="0.7"/>
<rect x="196.5" y="469.8" width="10" height="10" fill="#b02a30" stroke="#8c1d22" stroke-width="0.7"/>
<rect x="208.2" y="461" width="10" height="10" fill="#b02a30" stroke="#8c1d22" stroke-width="0.7"/>
<rect x="219.9" y="415.7" width="10" height="10" fill="#b02a30" stroke="#8c1d22" stroke-width="0.7"/>
<rect x="231.5" y="457.5" width="10" height="10" fill="#b02a30" stroke="#8c1d22" stroke-width="0.7"/>
<rect x="243.2" y="487.3" width="10" height="10" fill="#b02a30" stroke="#8c1d22" stroke-width="0.7"/>
<rect x="254.9" y="464.5" width="10" height="10" fill="#b02a30" stroke="#8c1d22" stroke-width="0.7"/>
<rect x="266.6" y="463.9" width="10" height="10" fill="#b02a30" stroke="#8c1d22" stroke-width="0.7"/>
<rect x="278.3" y="448" width="10" height="10" fill="#b02a30" stroke="#8c1d22" stroke-width="0.7"/>
<rect x="289.9" y="476.1" width="10" height="10" fill="#b02a30" stroke="#8c1d22" stroke-width="0.7"/>
<rect x="301.6" y="480.1" width="10" height="10" fill="#b02a30" stroke="#8c1d22" stroke-width="0.7"/>
<rect x="313.3" y="476.5" width="10" height="10" fill="#b02a30" stroke="#8c1d22" stroke-width="0.7"/>
<rect x="325" y="492.4" width="10" height="10" fill="#b02a30" stroke="#8c1d22" stroke-width="0.7"/>
<rect x="336.7" y="492.4" width="10" height="10" fill="#b02a30" stroke="#8c1d22" stroke-width="0.7"/>
<rect x="348.3" y="486" width="10" height="10" fill="#b02a30" stroke="#8c1d22" stroke-width="0.7"/>
<rect x="360" y="486" width="10" height="10" fill="#b02a30" stroke="#8c1d22" stroke-width="0.7"/>
<rect x="371.7" y="497.6" width="10" height="10" fill="#b02a30" stroke="#8c1d22" stroke-width="0.7"/>
<rect x="383.4" y="472.7" width="10" height="10" fill="#b02a30" stroke="#8c1d22" stroke-width="0.7"/>
<rect x="395.1" y="479.8" width="10" height="10" fill="#b02a30" stroke="#8c1d22" stroke-width="0.7"/>
<rect x="406.7" y="482.8" width="10" height="10" fill="#b02a30" stroke="#8c1d22" stroke-width="0.7"/>
<rect x="418.4" y="482.8" width="10" height="10" fill="#b02a30" stroke="#8c1d22" stroke-width="0.7"/>
<rect x="430.1" y="495.4" width="10" height="10" fill="#b02a30" stroke="#8c1d22" stroke-width="0.7"/>
<rect x="441.8" y="484" width="10" height="10" fill="#b02a30" stroke="#8c1d22" stroke-width="0.7"/>
<rect x="453.5" y="502.1" width="10" height="10" fill="#b02a30" stroke="#8c1d22" stroke-width="0.7"/>
<rect x="465.1" y="505.8" width="10" height="10" fill="#b02a30" stroke="#8c1d22" stroke-width="0.7"/>
<rect x="476.8" y="505.8" width="10" height="10" fill="#b02a30" stroke="#8c1d22" stroke-width="0.7"/>
<rect x="488.5" y="501.8" width="10" height="10" fill="#b02a30" stroke="#8c1d22" stroke-width="0.7"/>
<rect x="500.2" y="483.3" width="10" height="10" fill="#b02a30" stroke="#8c1d22" stroke-width="0.7"/>
<rect x="511.9" y="491.7" width="10" height="10" fill="#b02a30" stroke="#8c1d22" stroke-width="0.7"/>
<rect x="523.5" y="476.5" width="10" height="10" fill="#b02a30" stroke="#8c1d22" stroke-width="0.7"/>
<rect x="535.2" y="474.6" width="10" height="10" fill="#b02a30" stroke="#8c1d22" stroke-width="0.7"/>
<rect x="546.9" y="502.4" width="10" height="10" fill="#b02a30" stroke="#8c1d22" stroke-width="0.7"/>
<rect x="558.6" y="508.8" width="10" height="10" fill="#b02a30" stroke="#8c1d22" stroke-width="0.7"/>
<rect x="570.3" y="486" width="10" height="10" fill="#b02a30" stroke="#8c1d22" stroke-width="0.7"/>
<rect x="581.9" y="500.3" width="10" height="10" fill="#b02a30" stroke="#8c1d22" stroke-width="0.7"/>
<rect x="593.6" y="513.3" width="10" height="10" fill="#b02a30" stroke="#8c1d22" stroke-width="0.7"/>
<rect x="605.3" y="509.3" width="10" height="10" fill="#b02a30" stroke="#8c1d22" stroke-width="0.7"/>
<rect x="617" y="506.9" width="10" height="10" fill="#b02a30" stroke="#8c1d22" stroke-width="0.7"/>
<rect x="628.7" y="513.3" width="10" height="10" fill="#b02a30" stroke="#8c1d22" stroke-width="0.7"/>
<rect x="640.3" y="497.6" width="10" height="10" fill="#b02a30" stroke="#8c1d22" stroke-width="0.7"/>
<rect x="652" y="485.7" width="10" height="10" fill="#b02a30" stroke="#8c1d22" stroke-width="0.7"/>
<rect x="663.7" y="507.3" width="10" height="10" fill="#b02a30" stroke="#8c1d22" stroke-width="0.7"/>
<rect x="675.4" y="497.6" width="10" height="10" fill="#b02a30" stroke="#8c1d22" stroke-width="0.7"/>
<rect x="687.1" y="506.6" width="10" height="10" fill="#b02a30" stroke="#8c1d22" stroke-width="0.7"/>
<rect x="698.7" y="508.8" width="10" height="10" fill="#b02a30" stroke="#8c1d22" stroke-width="0.7"/>
<rect x="710.4" y="513" width="10" height="10" fill="#b02a30" stroke="#8c1d22" stroke-width="0.7"/>
<rect x="722.1" y="505.8" width="10" height="10" fill="#b02a30" stroke="#8c1d22" stroke-width="0.7"/>
<rect x="733.8" y="512.5" width="10" height="10" fill="#b02a30" stroke="#8c1d22" stroke-width="0.7"/>
<rect x="745.5" y="506.9" width="10" height="10" fill="#b02a30" stroke="#8c1d22" stroke-width="0.7"/>
<rect x="757.1" y="514" width="10" height="10" fill="#b02a30" stroke="#8c1d22" stroke-width="0.7"/>
<rect x="768.8" y="505.8" width="10" height="10" fill="#b02a30" stroke="#8c1d22" stroke-width="0.7"/>
<rect x="780.5" y="505.8" width="10" height="10" fill="#b02a30" stroke="#8c1d22" stroke-width="0.7"/>
<rect x="792.2" y="513.3" width="10" height="10" fill="#b02a30" stroke="#8c1d22" stroke-width="0.7"/>
<rect x="803.9" y="511" width="10" height="10" fill="#b02a30" stroke="#8c1d22" stroke-width="0.7"/>
<rect x="815.5" y="517" width="10" height="10" fill="#b02a30" stroke="#8c1d22" stroke-width="0.7"/>
<rect x="827.2" y="517.7" width="10" height="10" fill="#b02a30" stroke="#8c1d22" stroke-width="0.7"/>
<rect x="838.9" y="514" width="10" height="10" fill="#b02a30" stroke="#8c1d22" stroke-width="0.7"/>
<rect x="850.6" y="511.8" width="10" height="10" fill="#b02a30" stroke="#8c1d22" stroke-width="0.7"/>
<rect x="862.3" y="511.8" width="10" height="10" fill="#b02a30" stroke="#8c1d22" stroke-width="0.7"/>
<rect x="873.9" y="517" width="10" height="10" fill="#b02a30" stroke="#8c1d22" stroke-width="0.7"/>
<rect x="885.6" y="514.7" width="10" height="10" fill="#b02a30" stroke="#8c1d22" stroke-width="0.7"/>
<rect x="897.3" y="517" width="10" height="10" fill="#b02a30" stroke="#8c1d22" stroke-width="0.7"/>
<rect x="909" y="517" width="10" height="10" fill="#b02a30" stroke="#8c1d22" stroke-width="0.7"/>
<rect x="920.7" y="518.5" width="10" height="10" fill="#b02a30" stroke="#8c1d22" stroke-width="0.7"/>
<polyline points="61.3,460.4 73,478.7 84.7,482.2 96.4,485.6 108.1,494.8 119.7,495.2 131.4,458.1 143.1,509.6 154.8,515.4 166.5,486.6 178.1,507.8 189.8,500.4 201.5,500.4 213.2,511.7 224.9,508.8 236.5,498.5 248.2,511.7 259.9,504.3 271.6,488.4 283.3,509.5 294.9,483.3 306.6,515.3 318.3,520.2 330,513 341.7,516.8 353.3,512.3 365,523.5 376.7,520.5 388.4,525 400.1,524.6 411.7,498.9 423.4,507.8 435.1,510.8 446.8,507.8 458.5,521.2 470.1,521.2 481.8,521.2 493.5,517.5 505.2,506.8 516.9,518.3 528.5,522.3 540.2,518.3 551.9,512.7 563.6,521.7 575.3,523.5 586.9,520.2 598.6,524.2 610.3,523.5 622,522.3 633.7,522.7 645.3,517.5 657,520.5 668.7,524.2 680.4,525 692.1,521.2 703.7,522.7 715.4,523 727.1,522 738.8,523.5 750.5,520.5 762.1,525 773.8,522 785.5,523.5 797.2,523.5 808.9,524.2 820.5,524.2 832.2,524.2 843.9,524.2 855.6,524.2 867.3,524.2 878.9,525.7 890.6,525 902.3,525 914,525 925.7,525.7" fill="none" stroke="#3b6a9f" stroke-width="2.4" stroke-linejoin="round"/>
<path d="M61.3 455.5L66.8 465.3L55.8 465.3Z" fill="#3b6a9f" stroke="#2b5584" stroke-width="0.7" stroke-linejoin="round"/>
<path d="M73 473.8L78.5 483.6L67.5 483.6Z" fill="#3b6a9f" stroke="#2b5584" stroke-width="0.7" stroke-linejoin="round"/>
<path d="M84.7 477.3L90.2 487.1L79.2 487.1Z" fill="#3b6a9f" stroke="#2b5584" stroke-width="0.7" stroke-linejoin="round"/>
<path d="M96.4 480.7L101.9 490.5L90.9 490.5Z" fill="#3b6a9f" stroke="#2b5584" stroke-width="0.7" stroke-linejoin="round"/>
<path d="M108.1 489.9L113.6 499.7L102.6 499.7Z" fill="#3b6a9f" stroke="#2b5584" stroke-width="0.7" stroke-linejoin="round"/>
<path d="M119.7 490.3L125.2 500.1L114.2 500.1Z" fill="#3b6a9f" stroke="#2b5584" stroke-width="0.7" stroke-linejoin="round"/>
<path d="M131.4 453.2L136.9 463L125.9 463Z" fill="#3b6a9f" stroke="#2b5584" stroke-width="0.7" stroke-linejoin="round"/>
<path d="M143.1 504.7L148.6 514.5L137.6 514.5Z" fill="#3b6a9f" stroke="#2b5584" stroke-width="0.7" stroke-linejoin="round"/>
<path d="M154.8 510.5L160.3 520.3L149.3 520.3Z" fill="#3b6a9f" stroke="#2b5584" stroke-width="0.7" stroke-linejoin="round"/>
<path d="M166.5 481.7L172 491.5L161 491.5Z" fill="#3b6a9f" stroke="#2b5584" stroke-width="0.7" stroke-linejoin="round"/>
<path d="M178.1 502.9L183.6 512.7L172.6 512.7Z" fill="#3b6a9f" stroke="#2b5584" stroke-width="0.7" stroke-linejoin="round"/>
<path d="M189.8 495.5L195.3 505.3L184.3 505.3Z" fill="#3b6a9f" stroke="#2b5584" stroke-width="0.7" stroke-linejoin="round"/>
<path d="M201.5 495.5L207 505.3L196 505.3Z" fill="#3b6a9f" stroke="#2b5584" stroke-width="0.7" stroke-linejoin="round"/>
<path d="M213.2 506.8L218.7 516.6L207.7 516.6Z" fill="#3b6a9f" stroke="#2b5584" stroke-width="0.7" stroke-linejoin="round"/>
<path d="M224.9 503.9L230.4 513.7L219.4 513.7Z" fill="#3b6a9f" stroke="#2b5584" stroke-width="0.7" stroke-linejoin="round"/>
<path d="M236.5 493.6L242 503.4L231 503.4Z" fill="#3b6a9f" stroke="#2b5584" stroke-width="0.7" stroke-linejoin="round"/>
<path d="M248.2 506.8L253.7 516.6L242.7 516.6Z" fill="#3b6a9f" stroke="#2b5584" stroke-width="0.7" stroke-linejoin="round"/>
<path d="M259.9 499.4L265.4 509.2L254.4 509.2Z" fill="#3b6a9f" stroke="#2b5584" stroke-width="0.7" stroke-linejoin="round"/>
<path d="M271.6 483.5L277.1 493.3L266.1 493.3Z" fill="#3b6a9f" stroke="#2b5584" stroke-width="0.7" stroke-linejoin="round"/>
<path d="M283.3 504.6L288.8 514.4L277.8 514.4Z" fill="#3b6a9f" stroke="#2b5584" stroke-width="0.7" stroke-linejoin="round"/>
<path d="M294.9 478.4L300.4 488.2L289.4 488.2Z" fill="#3b6a9f" stroke="#2b5584" stroke-width="0.7" stroke-linejoin="round"/>
<path d="M306.6 510.4L312.1 520.2L301.1 520.2Z" fill="#3b6a9f" stroke="#2b5584" stroke-width="0.7" stroke-linejoin="round"/>
<path d="M318.3 515.3L323.8 525.1L312.8 525.1Z" fill="#3b6a9f" stroke="#2b5584" stroke-width="0.7" stroke-linejoin="round"/>
<path d="M330 508.1L335.5 517.9L324.5 517.9Z" fill="#3b6a9f" stroke="#2b5584" stroke-width="0.7" stroke-linejoin="round"/>
<path d="M341.7 511.9L347.2 521.7L336.2 521.7Z" fill="#3b6a9f" stroke="#2b5584" stroke-width="0.7" stroke-linejoin="round"/>
<path d="M353.3 507.4L358.8 517.2L347.8 517.2Z" fill="#3b6a9f" stroke="#2b5584" stroke-width="0.7" stroke-linejoin="round"/>
<path d="M365 518.6L370.5 528.4L359.5 528.4Z" fill="#3b6a9f" stroke="#2b5584" stroke-width="0.7" stroke-linejoin="round"/>
<path d="M376.7 515.6L382.2 525.4L371.2 525.4Z" fill="#3b6a9f" stroke="#2b5584" stroke-width="0.7" stroke-linejoin="round"/>
<path d="M388.4 520.1L393.9 529.9L382.9 529.9Z" fill="#3b6a9f" stroke="#2b5584" stroke-width="0.7" stroke-linejoin="round"/>
<path d="M400.1 519.7L405.6 529.5L394.6 529.5Z" fill="#3b6a9f" stroke="#2b5584" stroke-width="0.7" stroke-linejoin="round"/>
<path d="M411.7 494L417.2 503.8L406.2 503.8Z" fill="#3b6a9f" stroke="#2b5584" stroke-width="0.7" stroke-linejoin="round"/>
<path d="M423.4 502.9L428.9 512.7L417.9 512.7Z" fill="#3b6a9f" stroke="#2b5584" stroke-width="0.7" stroke-linejoin="round"/>
<path d="M435.1 505.9L440.6 515.7L429.6 515.7Z" fill="#3b6a9f" stroke="#2b5584" stroke-width="0.7" stroke-linejoin="round"/>
<path d="M446.8 502.9L452.3 512.7L441.3 512.7Z" fill="#3b6a9f" stroke="#2b5584" stroke-width="0.7" stroke-linejoin="round"/>
<path d="M458.5 516.3L464 526.1L453 526.1Z" fill="#3b6a9f" stroke="#2b5584" stroke-width="0.7" stroke-linejoin="round"/>
<path d="M470.1 516.3L475.6 526.1L464.6 526.1Z" fill="#3b6a9f" stroke="#2b5584" stroke-width="0.7" stroke-linejoin="round"/>
<path d="M481.8 516.3L487.3 526.1L476.3 526.1Z" fill="#3b6a9f" stroke="#2b5584" stroke-width="0.7" stroke-linejoin="round"/>
<path d="M493.5 512.6L499 522.4L488 522.4Z" fill="#3b6a9f" stroke="#2b5584" stroke-width="0.7" stroke-linejoin="round"/>
<path d="M505.2 501.9L510.7 511.7L499.7 511.7Z" fill="#3b6a9f" stroke="#2b5584" stroke-width="0.7" stroke-linejoin="round"/>
<path d="M516.9 513.4L522.4 523.2L511.4 523.2Z" fill="#3b6a9f" stroke="#2b5584" stroke-width="0.7" stroke-linejoin="round"/>
<path d="M528.5 517.4L534 527.2L523 527.2Z" fill="#3b6a9f" stroke="#2b5584" stroke-width="0.7" stroke-linejoin="round"/>
<path d="M540.2 513.4L545.7 523.2L534.7 523.2Z" fill="#3b6a9f" stroke="#2b5584" stroke-width="0.7" stroke-linejoin="round"/>
<path d="M551.9 507.8L557.4 517.6L546.4 517.6Z" fill="#3b6a9f" stroke="#2b5584" stroke-width="0.7" stroke-linejoin="round"/>
<path d="M563.6 516.8L569.1 526.6L558.1 526.6Z" fill="#3b6a9f" stroke="#2b5584" stroke-width="0.7" stroke-linejoin="round"/>
<path d="M575.3 518.6L580.8 528.4L569.8 528.4Z" fill="#3b6a9f" stroke="#2b5584" stroke-width="0.7" stroke-linejoin="round"/>
<path d="M586.9 515.3L592.4 525.1L581.4 525.1Z" fill="#3b6a9f" stroke="#2b5584" stroke-width="0.7" stroke-linejoin="round"/>
<path d="M598.6 519.3L604.1 529.1L593.1 529.1Z" fill="#3b6a9f" stroke="#2b5584" stroke-width="0.7" stroke-linejoin="round"/>
<path d="M610.3 518.6L615.8 528.4L604.8 528.4Z" fill="#3b6a9f" stroke="#2b5584" stroke-width="0.7" stroke-linejoin="round"/>
<path d="M622 517.4L627.5 527.2L616.5 527.2Z" fill="#3b6a9f" stroke="#2b5584" stroke-width="0.7" stroke-linejoin="round"/>
<path d="M633.7 517.8L639.2 527.6L628.2 527.6Z" fill="#3b6a9f" stroke="#2b5584" stroke-width="0.7" stroke-linejoin="round"/>
<path d="M645.3 512.6L650.8 522.4L639.8 522.4Z" fill="#3b6a9f" stroke="#2b5584" stroke-width="0.7" stroke-linejoin="round"/>
<path d="M657 515.6L662.5 525.4L651.5 525.4Z" fill="#3b6a9f" stroke="#2b5584" stroke-width="0.7" stroke-linejoin="round"/>
<path d="M668.7 519.3L674.2 529.1L663.2 529.1Z" fill="#3b6a9f" stroke="#2b5584" stroke-width="0.7" stroke-linejoin="round"/>
<path d="M680.4 520.1L685.9 529.9L674.9 529.9Z" fill="#3b6a9f" stroke="#2b5584" stroke-width="0.7" stroke-linejoin="round"/>
<path d="M692.1 516.3L697.6 526.1L686.6 526.1Z" fill="#3b6a9f" stroke="#2b5584" stroke-width="0.7" stroke-linejoin="round"/>
<path d="M703.7 517.8L709.2 527.6L698.2 527.6Z" fill="#3b6a9f" stroke="#2b5584" stroke-width="0.7" stroke-linejoin="round"/>
<path d="M715.4 518.1L720.9 527.9L709.9 527.9Z" fill="#3b6a9f" stroke="#2b5584" stroke-width="0.7" stroke-linejoin="round"/>
<path d="M727.1 517.1L732.6 526.9L721.6 526.9Z" fill="#3b6a9f" stroke="#2b5584" stroke-width="0.7" stroke-linejoin="round"/>
<path d="M738.8 518.6L744.3 528.4L733.3 528.4Z" fill="#3b6a9f" stroke="#2b5584" stroke-width="0.7" stroke-linejoin="round"/>
<path d="M750.5 515.6L756 525.4L745 525.4Z" fill="#3b6a9f" stroke="#2b5584" stroke-width="0.7" stroke-linejoin="round"/>
<path d="M762.1 520.1L767.6 529.9L756.6 529.9Z" fill="#3b6a9f" stroke="#2b5584" stroke-width="0.7" stroke-linejoin="round"/>
<path d="M773.8 517.1L779.3 526.9L768.3 526.9Z" fill="#3b6a9f" stroke="#2b5584" stroke-width="0.7" stroke-linejoin="round"/>
<path d="M785.5 518.6L791 528.4L780 528.4Z" fill="#3b6a9f" stroke="#2b5584" stroke-width="0.7" stroke-linejoin="round"/>
<path d="M797.2 518.6L802.7 528.4L791.7 528.4Z" fill="#3b6a9f" stroke="#2b5584" stroke-width="0.7" stroke-linejoin="round"/>
<path d="M808.9 519.3L814.4 529.1L803.4 529.1Z" fill="#3b6a9f" stroke="#2b5584" stroke-width="0.7" stroke-linejoin="round"/>
<path d="M820.5 519.3L826 529.1L815 529.1Z" fill="#3b6a9f" stroke="#2b5584" stroke-width="0.7" stroke-linejoin="round"/>
<path d="M832.2 519.3L837.7 529.1L826.7 529.1Z" fill="#3b6a9f" stroke="#2b5584" stroke-width="0.7" stroke-linejoin="round"/>
<path d="M843.9 519.3L849.4 529.1L838.4 529.1Z" fill="#3b6a9f" stroke="#2b5584" stroke-width="0.7" stroke-linejoin="round"/>
<path d="M855.6 519.3L861.1 529.1L850.1 529.1Z" fill="#3b6a9f" stroke="#2b5584" stroke-width="0.7" stroke-linejoin="round"/>
<path d="M867.3 519.3L872.8 529.1L861.8 529.1Z" fill="#3b6a9f" stroke="#2b5584" stroke-width="0.7" stroke-linejoin="round"/>
<path d="M878.9 520.8L884.4 530.6L873.4 530.6Z" fill="#3b6a9f" stroke="#2b5584" stroke-width="0.7" stroke-linejoin="round"/>
<path d="M890.6 520.1L896.1 529.9L885.1 529.9Z" fill="#3b6a9f" stroke="#2b5584" stroke-width="0.7" stroke-linejoin="round"/>
<path d="M902.3 520.1L907.8 529.9L896.8 529.9Z" fill="#3b6a9f" stroke="#2b5584" stroke-width="0.7" stroke-linejoin="round"/>
<path d="M914 520.1L919.5 529.9L908.5 529.9Z" fill="#3b6a9f" stroke="#2b5584" stroke-width="0.7" stroke-linejoin="round"/>
<path d="M925.7 520.8L931.2 530.6L920.2 530.6Z" fill="#3b6a9f" stroke="#2b5584" stroke-width="0.7" stroke-linejoin="round"/>
<text x="62.3" y="335">p300</text>
<text x="74" y="353.4">CEBPB</text>
<text x="102" y="364.3">Fos</text>
<text x="111.7" y="393">Myc</text>
<text x="130" y="406.2">FoxA1</text>
<text x="141.5" y="420">Max</text>
<text x="162.5" y="479.2">GATA2</text>
<text x="167" y="391.1">STAT3</text>
<text x="189.3" y="410.2">Jun</text>
<text x="214" y="411.5">FosL2</text>
<text x="245.7" y="452.4">FoxA2</text>
<text x="277.7" y="441.4">Tcf12</text>
<text x="296.6" y="463.2">GATA3</text>
<text x="339.7" y="468.4">MafF</text>
<text x="356.8" y="479.6">Mxi1</text>
<text x="378.4" y="463.2">Chd2</text>
<text x="411.8" y="462.2">HNF4A</text>
<text x="432.3" y="477.3">HNF4G</text>
<text x="492" y="474.4">RARα</text>
<text x="514" y="454.7">RFX5</text>
<text x="541.9" y="469.9">ATF3</text>
<text x="572.3" y="481.1">STAT1</text>
<text x="615.1" y="492.5">Znf217</text>
<text x="643" y="477.3">ZBTB33</text>
<text x="721.7" y="486.3">E2F4</text>
<text x="758.1" y="485.5">ETS1</text>
<text x="781.6" y="497">BRCA1</text>
<text x="836.9" y="494.5">NFYA</text>
<text x="870.4" y="504.1">Six5</text>
<line x1="700" y1="387.1" x2="740" y2="387.1" stroke="#68873f" stroke-width="2.2"/>
<path d="M720 382.9L724 387.1L720 391.3L716 387.1Z" fill="#68873f" stroke="#4f6b2c" stroke-width="0.7"/>
<text x="744.2" y="390.7" font-size="11.2" fill="#222" stroke="#222">All K4me1 regions</text>
<line x1="700" y1="408.6" x2="740" y2="408.6" stroke="#b02a30" stroke-width="2.2"/>
<rect x="716" y="404.6" width="8" height="8" fill="#b02a30" stroke="#8c1d22" stroke-width="0.7"/>
<text x="744.2" y="412.2" font-size="11.2" fill="#222" stroke="#222">Predicted enhancer gain</text>
<line x1="700" y1="430.9" x2="740" y2="430.9" stroke="#3b6a9f" stroke-width="2.2"/>
<path d="M720 426.9L724.2 434.9L715.8 434.9Z" fill="#3b6a9f" stroke="#2b5584" stroke-width="0.7" stroke-linejoin="round"/>
<text x="744.2" y="434.5" font-size="11.2" fill="#222" stroke="#222">Predicted enhancer loss</text>
<text x="1.3" y="621.9" font-size="18" font-weight="bold">c</text>
<text x="189" y="643.6" font-size="11.3" text-anchor="middle">Fraction of regions overlapping</text>
<text x="189" y="656.4" font-size="11.3" text-anchor="middle">with hESC regions</text>
<text x="95.8" y="673.6" font-size="11.3" text-anchor="middle">0</text>
<line x1="95.8" y1="677.8" x2="95.8" y2="682" stroke="#000" stroke-width="1.5"/>
<text x="189.7" y="673.6" font-size="11.3" text-anchor="middle">0.2</text>
<line x1="189.7" y1="677.8" x2="189.7" y2="682" stroke="#000" stroke-width="1.5"/>
<text x="283.5" y="673.6" font-size="11.3" text-anchor="middle">0.4</text>
<line x1="283.5" y1="677.8" x2="283.5" y2="682" stroke="#000" stroke-width="1.5"/>
<line x1="95.1" y1="682" x2="284.2" y2="682" stroke="#000" stroke-width="1.8"/>
<line x1="96" y1="681.1" x2="96" y2="849.3" stroke="#000" stroke-width="1.8"/>
<line x1="92" y1="723.8" x2="96" y2="723.8" stroke="#000" stroke-width="1.5"/>
<line x1="92" y1="765.1" x2="96" y2="765.1" stroke="#000" stroke-width="1.5"/>
<line x1="92" y1="808.1" x2="96" y2="808.1" stroke="#000" stroke-width="1.5"/>
<line x1="92" y1="848.5" x2="96" y2="848.5" stroke="#000" stroke-width="1.5"/>
<rect x="96.5" y="690.1" width="172.6" height="8.8" fill="#aa2a30"/>
<rect x="96.5" y="698.9" width="18.3" height="8.8" fill="#3d6a9b"/>
<rect x="96.5" y="707.7" width="129.7" height="8.8" fill="#a6bb76"/>
<rect x="96.5" y="731.9" width="59.6" height="8.8" fill="#aa2a30"/>
<rect x="96.5" y="740.7" width="34.1" height="8.8" fill="#3d6a9b"/>
<rect x="96.5" y="749.5" width="146.8" height="8.8" fill="#a6bb76"/>
<rect x="96.5" y="773.2" width="10.7" height="8.8" fill="#aa2a30"/>
<rect x="96.5" y="782" width="42.9" height="8.8" fill="#3d6a9b"/>
<rect x="96.5" y="790.8" width="10.7" height="8.8" fill="#a6bb76"/>
<rect x="96.5" y="816.2" width="10.7" height="8.8" fill="#aa2a30"/>
<rect x="96.5" y="825" width="42.9" height="8.8" fill="#3d6a9b"/>
<rect x="96.5" y="833.8" width="4.7" height="8.8" fill="#a6bb76"/>
<text x="85.5" y="705" font-size="11.2" text-anchor="end">All promoters</text>
<text x="85.5" y="747.4" font-size="11.2" text-anchor="end">Altered prmoters</text>
<text x="85.5" y="782.7" font-size="11.2" text-anchor="end">Allpredicted</text>
<text x="85.5" y="796.4" font-size="11.2" text-anchor="end">enhancers</text>
<text x="85.5" y="824.6" font-size="11.2" text-anchor="end">Altered predicted</text>
<text x="85.5" y="838.4" font-size="11.2" text-anchor="end">enhancers</text>
<text x="177" y="790.9" font-size="11.2">hESC region</text>
<rect x="178.8" y="799.8" width="7.4" height="8" fill="#aa2a30"/>
<text x="190.6" y="807.2" font-size="11.2">K4me3 only</text>
<rect x="178.8" y="817.3" width="7.4" height="8.2" fill="#3d6a9b"/>
<text x="190.6" y="824.7" font-size="11.2">K27me3 only</text>
<rect x="178.8" y="835.5" width="7.4" height="7.5" fill="#a6bb76"/>
<text x="190.6" y="842.4" font-size="11.2">Bivalent</text>
<g font-size="11.2">
<text x="300.3" y="621.8" font-size="18" font-weight="bold">d</text>
<text x="486.3" y="621.8" text-anchor="end">50 kb</text>
<line x1="495.2" y1="618" x2="613.2" y2="618" stroke="#333" stroke-width="1.1"/>
<line x1="495.2" y1="612.3" x2="495.2" y2="625" stroke="#333" stroke-width="1.1"/>
<line x1="613.2" y1="612.3" x2="613.2" y2="625" stroke="#333" stroke-width="1.1"/>
<text x="386.5" y="640.8">chr18:</text>
<text x="436.2" y="640.8">55100000</text>
<rect x="489.1" y="632.8" width="1.6" height="8.4" fill="#111"/>
<text x="553.6" y="640.8">55150000</text>
<rect x="606.8" y="632.8" width="1.6" height="8.4" fill="#111"/>
<text x="489.5" y="664.5" text-anchor="end">RefSeq transcript</text>
<text x="489.5" y="682" text-anchor="end">Predicted isoform</text>
<rect x="495.2" y="656.7" width="4.3" height="7.9" fill="#a33a2e"/>
<polyline points="499.5,664 547.2,670.8 593.5,664.5" fill="none" stroke="#222" stroke-width="1" stroke-linejoin="round"/>
<rect x="593.5" y="656.7" width="34.1" height="8.4" fill="#a33a2e"/>
<rect x="495.2" y="674.4" width="4.3" height="8.7" fill="#a33a2e"/>
<rect x="546.4" y="674.4" width="2.4" height="8.7" fill="#a33a2e"/>
<polyline points="499.5,683 524,688.8 546.4,683" fill="none" stroke="#222" stroke-width="1" stroke-linejoin="round"/>
<text x="692.2" y="677.5">Tag count</text>
<text x="301.3" y="687.3" fill="#9a3a30" stroke="#9a3a30">RNAseq</text>
<text x="304.5" y="703.6">2000639N</text>
<text x="304.5" y="726.5">2000639C</text>
<line x1="407" y1="709.3" x2="701.5" y2="709.3" stroke="#000" stroke-width="1.8"/>
<line x1="407" y1="733" x2="701.5" y2="733" stroke="#000" stroke-width="1.8"/>
<path d="M496.7 733V722.6L497.5 721.6L498.6 721.2L499.6 721.9V733Z M504 733V726.9L504.9 726.9V733Z M506.2 733V727.9L507 727.9V733Z M546.1 733V721.2L546.9 720.4L548.1 720.6L548.9 721.6V733Z" fill="#000"/>
<path d="M591.8 733 L591.8 719.2 L592.4 719.2 L592.4 719.5 L593 719.5 L593 719.1 L593.6 719.1 L593.6 719.3 L594.2 719.3 L594.2 719.3 L594.8 719.3 L594.8 718.5 L595.4 718.5 L595.4 718.6 L596 718.6 L596 719.9 L596.6 719.9 L596.6 719.1 L597.2 719.1 L597.2 719.2 L597.8 719.2 L597.8 720.5 L598.4 720.5 L598.4 719.9 L599 719.9 L599 720.6 L599.6 720.6 L599.6 720.2 L600.2 720.2 L600.2 720.6 L600.8 720.6 L600.8 720.1 L601.4 720.1 L601.4 721 L602 721 L602 721.6 L602.6 721.6 L602.6 720.8 L603.2 720.8 L603.2 720.9 L603.8 720.9 L603.8 720.6 L604.4 720.6 L604.4 719.4 L605 719.4 L605 720 L605.6 720 L605.6 719.4 L606.2 719.4 L606.2 718.8 L606.8 718.8 L606.8 718.5 L607.4 718.5 L607.4 719.9 L608 719.9 L608 719.5 L608.6 719.5 L608.6 719.3 L609.2 719.3 L609.2 719 L609.8 719 L609.8 718.3 L610.4 718.3 L610.4 718.2 L611 718.2 L611 717.2 L611.6 717.2 L611.6 717.6 L612.2 717.6 L612.2 716.7 L612.8 716.7 L612.8 717.1 L613.4 717.1 L613.4 716.7 L614 716.7 L614 715.1 L614.6 715.1 L614.6 715.1 L615.2 715.1 L615.2 715 L615.8 715 L615.8 716 L616.4 716 L616.4 715 L617 715 L617 714.9 L617.6 714.9 L617.6 714.2 L618.2 714.2 L618.2 714.4 L618.8 714.4 L618.8 714.6 L619.4 714.6 L619.4 714.9 L620 714.9 L620 714.9 L620.6 714.9 L620.6 714.4 L621.2 714.4 L621.2 714.7 L621.8 714.7 L621.8 714.6 L622.4 714.6 L622.4 715.3 L623 715.3 L623 714.8 L623.6 714.8 L623.6 714.4 L624.2 714.4 L624.2 713.4 L624.8 713.4 L624.8 712.3 L625.4 712.3 L625.4 713 L626 713 L626 713.4 L626.6 713.4 L626.9 712.9 L626.9 733Z" fill="#000"/>
<path d="M707.4 689.5H705.2V709H707.4" fill="none" stroke="#222" stroke-width="1.2"/>
<text x="710.8" y="693.4">6</text>
<text x="710.8" y="710.8">2</text>
<text x="719.2" y="702.4">ln(1+x)</text>
<path d="M707.4 713.8H705.2V733H707.4" fill="none" stroke="#222" stroke-width="1.2"/>
<text x="710.8" y="719.8">6</text>
<text x="710.8" y="735.8">2</text>
<text x="719.2" y="726">in(1+x)</text>
<text x="300.6" y="751.4" fill="#9a3a30" stroke="#9a3a30">ChIPseq</text>
<text x="437.5" y="748.7" fill="#333f94" stroke="#333f94">ONECUT2</text>
<line x1="497.2" y1="743.7" x2="592.8" y2="743.7" stroke="#333f94" stroke-width="1.7"/>
<path d="M505.5 740.6L508.6 743.7L505.5 746.8 M512.8 740.6L515.9 743.7L512.8 746.8 M520.1 740.6L523.2 743.7L520.1 746.8 M527.4 740.6L530.5 743.7L527.4 746.8 M534.7 740.6L537.8 743.7L534.7 746.8 M542 740.6L545.1 743.7L542 746.8 M549.3 740.6L552.4 743.7L549.3 746.8 M556.6 740.6L559.7 743.7L556.6 746.8 M563.9 740.6L567 743.7L563.9 746.8 M571.2 740.6L574.3 743.7L571.2 746.8 M578.5 740.6L581.6 743.7L578.5 746.8 M585.8 740.6L588.9 743.7L585.8 746.8 " fill="none" stroke="#333f94" stroke-width="1.3"/>
<rect x="495.2" y="737.1" width="3.5" height="13" fill="#333f94"/>
<rect x="591.7" y="736.7" width="1.3" height="14" fill="#333f94"/>
<rect x="593" y="740.2" width="34" height="7.1" fill="#333f94"/>
<text x="304.6" y="767.9">2000639N K4me3</text>
<text x="304.6" y="793.8">2000639C K4me3</text>
<text x="300.6" y="820.7" fill="#9a3a30" stroke="#9a3a30">ENCODE/ Broad ChIP-seq</text>
<text x="304.6" y="837.7" fill="#3f9a4c" stroke="#3f9a4c">H1-hESC K4me3</text>
<text x="304.6" y="866.1" fill="#3f9a4c" stroke="#3f9a4c">H1-hESC K27me3</text>
<path d="M407 775.6 L407 775.6 L407.4 775.6 L407.4 775.6 L407.8 775.6 L407.8 775.5 L408.2 775.5 L408.2 775.6 L408.6 775.6 L408.6 775.6 L409 775.6 L409 775.6 L409.4 775.6 L409.4 775.1 L409.8 775.1 L409.8 775.6 L410.2 775.6 L410.2 775.6 L410.6 775.6 L410.6 775.2 L411 775.2 L411 774.9 L411.4 774.9 L411.4 775.6 L411.8 775.6 L411.8 775.6 L412.2 775.6 L412.2 775.6 L412.6 775.6 L412.6 775.4 L413 775.4 L413 775.6 L413.4 775.6 L413.4 775.3 L413.8 775.3 L413.8 774.8 L414.2 774.8 L414.2 775.6 L414.6 775.6 L414.6 775.6 L415 775.6 L415 775.6 L415.4 775.6 L415.4 775.5 L415.8 775.5 L415.8 775.6 L416.2 775.6 L416.2 775.6 L416.6 775.6 L416.6 775.6 L417 775.6 L417 774.8 L417.4 774.8 L417.4 775.6 L417.8 775.6 L417.8 775.6 L418.2 775.6 L418.2 775.6 L418.6 775.6 L418.6 775.6 L419 775.6 L419 775.6 L419.4 775.6 L419.4 774.7 L419.8 774.7 L419.8 775.6 L420.2 775.6 L420.2 774.9 L420.6 774.9 L420.6 775.6 L421 775.6 L421 775.1 L421.4 775.1 L421.4 774.8 L421.8 774.8 L421.8 775.6 L422.2 775.6 L422.2 775.6 L422.6 775.6 L422.6 774.8 L423 774.8 L423 775.6 L423.4 775.6 L423.4 775.1 L423.8 775.1 L423.8 775.6 L424.2 775.6 L424.2 775.6 L424.6 775.6 L424.6 775.4 L425 775.4 L425 775 L425.4 775 L425.4 774.8 L425.8 774.8 L425.8 774.8 L426.2 774.8 L426.2 774.7 L426.6 774.7 L426.6 775.6 L427 775.6 L427 775.6 L427.4 775.6 L427.4 775.6 L427.8 775.6 L427.8 775.6 L428.2 775.6 L428.2 775.6 L428.6 775.6 L428.6 775.4 L429 775.4 L429 775.3 L429.4 775.3 L429.4 774.9 L429.8 774.9 L429.8 774.4 L430.2 774.4 L430.2 774.4 L430.6 774.4 L430.6 774.9 L431 774.9 L431 775.3 L431.4 775.3 L431.4 774.9 L431.8 774.9 L431.8 775 L432.2 775 L432.2 775.4 L432.6 775.4 L432.6 775.6 L433 775.6 L433 775.1 L433.4 775.1 L433.4 775.6 L433.8 775.6 L433.8 775.4 L434.2 775.4 L434.2 775.6 L434.6 775.6 L434.6 775 L435 775 L435 775.3 L435.4 775.3 L435.4 775 L435.8 775 L435.8 774.7 L436.2 774.7 L436.2 774.9 L436.6 774.9 L436.6 775.4 L437 775.4 L437 775.6 L437.4 775.6 L437.4 775.4 L437.8 775.4 L437.8 775.6 L438.2 775.6 L438.2 775.6 L438.6 775.6 L438.6 775.6 L439 775.6 L439 775.6 L439.4 775.6 L439.4 775 L439.8 775 L439.8 775.6 L440.2 775.6 L440.2 775.3 L440.6 775.3 L440.6 775.2 L441 775.2 L441 775.6 L441.4 775.6 L441.4 775.6 L441.8 775.6 L441.8 775.6 L442.2 775.6 L442.2 775.6 L442.6 775.6 L442.6 775.6 L443 775.6 L443 775.6 L443.4 775.6 L443.4 775.4 L443.8 775.4 L443.8 775.5 L444.2 775.5 L444.2 775.1 L444.6 775.1 L444.6 774.7 L445 774.7 L445 774.1 L445.4 774.1 L445.4 774.7 L445.8 774.7 L445.8 774.7 L446.2 774.7 L446.2 775.1 L446.6 775.1 L446.6 775.6 L447 775.6 L447 775.6 L447.4 775.6 L447.4 775.5 L447.8 775.5 L447.8 775.5 L448.2 775.5 L448.2 775 L448.6 775 L448.6 775.6 L449 775.6 L449 775.6 L449.4 775.6 L449.4 775.6 L449.8 775.6 L449.8 775.6 L450.2 775.6 L450.2 775.2 L450.6 775.2 L450.6 775.1 L451 775.1 L451 775.6 L451.4 775.6 L451.4 775.6 L451.8 775.6 L451.8 775.6 L452.2 775.6 L452.2 775.2 L452.6 775.2 L452.6 775.6 L453 775.6 L453 775.6 L453.4 775.6 L453.4 775.5 L453.8 775.5 L453.8 775.6 L454.2 775.6 L454.2 775.5 L454.6 775.5 L454.6 775.4 L455 775.4 L455 775.1 L455.4 775.1 L455.4 775.3 L455.8 775.3 L455.8 775.6 L456.2 775.6 L456.2 774.8 L456.6 774.8 L456.6 775.6 L457 775.6 L457 775.6 L457.4 775.6 L457.4 775.1 L457.8 775.1 L457.8 775.6 L458.2 775.6 L458.2 775.2 L458.6 775.2 L458.6 775.6 L459 775.6 L459 775.5 L459.4 775.5 L459.4 775.6 L459.8 775.6 L459.8 775.1 L460.2 775.1 L460.2 775.6 L460.6 775.6 L460.6 775.6 L461 775.6 L461 774.7 L461.4 774.7 L461.4 775.6 L461.8 775.6 L461.8 775.6 L462.2 775.6 L462.2 775.3 L462.6 775.3 L462.6 775.6 L463 775.6 L463 775.6 L463.4 775.6 L463.4 775.2 L463.8 775.2 L463.8 775.2 L464.2 775.2 L464.2 775.1 L464.6 775.1 L464.6 775.3 L465 775.3 L465 774.8 L465.4 774.8 L465.4 774.9 L465.8 774.9 L465.8 775.1 L466.2 775.1 L466.2 775.2 L466.6 775.2 L466.6 775.6 L467 775.6 L467 775.5 L467.4 775.5 L467.4 775.5 L467.8 775.5 L467.8 775.6 L468.2 775.6 L468.2 775.6 L468.6 775.6 L468.6 775.6 L469 775.6 L469 775.6 L469.4 775.6 L469.4 775 L469.8 775 L469.8 775.6 L470.2 775.6 L470.2 775.6 L470.6 775.6 L470.6 775.3 L471 775.3 L471 774.9 L471.4 774.9 L471.4 775.1 L471.8 775.1 L471.8 774.7 L472.2 774.7 L472.2 775.6 L472.6 775.6 L472.6 775.6 L473 775.6 L473 775.6 L473.4 775.6 L473.4 775.4 L473.8 775.4 L473.8 775.4 L474.2 775.4 L474.2 775 L474.6 775 L474.6 775.6 L475 775.6 L475 775.6 L475.4 775.6 L475.4 775.6 L475.8 775.6 L475.8 775.3 L476.2 775.3 L476.2 775.6 L476.6 775.6 L476.6 775.2 L477 775.2 L477 775.5 L477.4 775.5 L477.4 775.6 L477.8 775.6 L477.8 775.6 L478.2 775.6 L478.2 775.6 L478.6 775.6 L478.6 775.3 L479 775.3 L479 775 L479.4 775 L479.4 775.6 L479.8 775.6 L479.8 775.1 L480.2 775.1 L480.2 775.1 L480.6 775.1 L480.6 775.6 L481 775.6 L481 775.6 L481.4 775.6 L481.4 775.1 L481.8 775.1 L481.8 774.7 L482.2 774.7 L482.2 774 L482.6 774 L482.6 773.4 L483 773.4 L483 773.4 L483.4 773.4 L483.4 774 L483.8 774 L483.8 774.7 L484.2 774.7 L484.2 775.2 L484.6 775.2 L484.6 775.1 L485 775.1 L485 775.1 L485.4 775.1 L485.4 774.5 L485.8 774.5 L485.8 774 L486.2 774 L486.2 773.4 L486.6 773.4 L486.6 773.9 L487 773.9 L487 774.5 L487.4 774.5 L487.4 774.7 L487.8 774.7 L487.8 774.9 L488.2 774.9 L488.2 775.6 L488.6 775.6 L488.6 775.6 L489 775.6 L489 775.6 L489.4 775.6 L489.4 775 L489.8 775 L489.8 775 L490.2 775 L490.2 775.6 L490.6 775.6 L490.6 775.6 L491 775.6 L491 775.2 L491.4 775.2 L491.4 774.1 L491.8 774.1 L491.8 772.6 L492.2 772.6 L492.2 770.9 L492.6 770.9 L492.6 770 L493 770 L493 770.9 L493.4 770.9 L493.4 769 L493.8 769 L493.8 768.9 L494.2 768.9 L494.2 770.8 L494.6 770.8 L494.6 770 L495 770 L495 770 L495.4 770 L495.4 771.9 L495.8 771.9 L495.8 773.6 L496.2 773.6 L496.2 775.2 L496.6 775.2 L496.6 774.9 L497 774.9 L497 775 L497.4 775 L497.4 775.4 L497.8 775.4 L497.8 775.1 L498.2 775.1 L498.2 774.6 L498.6 774.6 L498.6 774 L499 774 L499 773.7 L499.4 773.7 L499.4 774.3 L499.8 774.3 L499.8 774.8 L500.2 774.8 L500.2 775.3 L500.6 775.3 L500.6 775 L501 775 L501 775.4 L501.4 775.4 L501.4 775.6 L501.8 775.6 L501.8 775.5 L502.2 775.5 L502.2 775.1 L502.6 775.1 L502.6 774.7 L503 774.7 L503 774.1 L503.4 774.1 L503.4 774.7 L503.8 774.7 L503.8 775.1 L504.2 775.1 L504.2 775.5 L504.6 775.5 L504.6 775.5 L505 775.5 L505 775.2 L505.4 775.2 L505.4 775.6 L505.8 775.6 L505.8 775.6 L506.2 775.6 L506.2 775.6 L506.6 775.6 L506.6 775.1 L507 775.1 L507 775.2 L507.4 775.2 L507.4 775.6 L507.8 775.6 L507.8 775 L508.2 775 L508.2 775.1 L508.6 775.1 L508.6 775.6 L509 775.6 L509 774.9 L509.4 774.9 L509.4 775 L509.8 775 L509.8 775.6 L510.2 775.6 L510.2 775.6 L510.6 775.6 L510.6 774.8 L511 774.8 L511 775 L511.4 775 L511.4 775.1 L511.8 775.1 L511.8 775.6 L512.2 775.6 L512.2 775.6 L512.6 775.6 L512.6 775.4 L513 775.4 L513 775 L513.4 775 L513.4 774.6 L513.8 774.6 L513.8 774.1 L514.2 774.1 L514.2 774.6 L514.6 774.6 L514.6 775 L515 775 L515 775.4 L515.4 775.4 L515.4 775.5 L515.8 775.5 L515.8 775.3 L516.2 775.3 L516.2 775.6 L516.6 775.6 L516.6 775.6 L517 775.6 L517 775 L517.4 775 L517.4 775.6 L517.8 775.6 L517.8 775.5 L518.2 775.5 L518.2 775 L518.6 775 L518.6 774.4 L519 774.4 L519 773.6 L519.4 773.6 L519.4 774.4 L519.8 774.4 L519.8 774.9 L520.2 774.9 L520.2 775.5 L520.6 775.5 L520.6 774.9 L521 774.9 L521 774.8 L521.4 774.8 L521.4 775.6 L521.8 775.6 L521.8 775.6 L522.2 775.6 L522.2 775.6 L522.6 775.6 L522.6 775.6 L523 775.6 L523 775.6 L523.4 775.6 L523.4 775.6 L523.8 775.6 L523.8 775.6 L524.2 775.6 L524.2 775.6 L524.6 775.6 L524.6 775.6 L525 775.6 L525 775.6 L525.4 775.6 L525.4 775 L525.8 775 L525.8 775.6 L526.2 775.6 L526.2 775.2 L526.6 775.2 L526.6 774.7 L527 774.7 L527 775.2 L527.4 775.2 L527.4 775.6 L527.8 775.6 L527.8 774.7 L528.2 774.7 L528.2 775.6 L528.6 775.6 L528.6 775.3 L529 775.3 L529 775.6 L529.4 775.6 L529.4 775.6 L529.8 775.6 L529.8 775.6 L530.2 775.6 L530.2 775.1 L530.6 775.1 L530.6 774.8 L531 774.8 L531 775.3 L531.4 775.3 L531.4 775.6 L531.8 775.6 L531.8 775.3 L532.2 775.3 L532.2 775.6 L532.6 775.6 L532.6 775.5 L533 775.5 L533 775.4 L533.4 775.4 L533.4 774 L533.8 774 L533.8 772.5 L534.2 772.5 L534.2 770.4 L534.6 770.4 L534.6 770.3 L535 770.3 L535 772.4 L535.4 772.4 L535.4 774 L535.8 774 L535.8 775.6 L536.2 775.6 L536.2 774.9 L536.6 774.9 L536.6 775.1 L537 775.1 L537 775.6 L537.4 775.6 L537.4 774.9 L537.8 774.9 L537.8 775.6 L538.2 775.6 L538.2 774.7 L538.6 774.7 L538.6 775.2 L539 775.2 L539 775.6 L539.4 775.6 L539.4 774.8 L539.8 774.8 L539.8 775.6 L540.2 775.6 L540.2 775.6 L540.6 775.6 L540.6 775.6 L541 775.6 L541 775.6 L541.4 775.6 L541.4 775.6 L541.8 775.6 L541.8 775.6 L542.2 775.6 L542.2 775.2 L542.6 775.2 L542.6 775.6 L543 775.6 L543 775.5 L543.4 775.5 L543.4 775.6 L543.8 775.6 L543.8 774.8 L544.2 774.8 L544.2 775.6 L544.6 775.6 L544.6 775.6 L545 775.6 L545 775.3 L545.4 775.3 L545.4 775.6 L545.8 775.6 L545.8 775.5 L546.2 775.5 L546.2 775.4 L546.6 775.4 L546.6 775 L547 775 L547 774.7 L547.4 774.7 L547.4 775.6 L547.8 775.6 L547.8 774.8 L548.2 774.8 L548.2 775.2 L548.6 775.2 L548.6 775.6 L549 775.6 L549 775.1 L549.4 775.1 L549.4 774.3 L549.8 774.3 L549.8 773.4 L550.2 773.4 L550.2 772.5 L550.6 772.5 L550.6 772.5 L551 772.5 L551 773.4 L551.4 773.4 L551.4 774.3 L551.8 774.3 L551.8 775.2 L552.2 775.2 L552.2 775.5 L552.6 775.5 L552.6 775.4 L553 775.4 L553 775.4 L553.4 775.4 L553.4 775 L553.8 775 L553.8 775.6 L554.2 775.6 L554.2 775.6 L554.6 775.6 L554.6 775.6 L555 775.6 L555 775.6 L555.4 775.6 L555.4 775.6 L555.8 775.6 L555.8 775.5 L556.2 775.5 L556.2 775.6 L556.6 775.6 L556.6 775.6 L557 775.6 L557 775.3 L557.4 775.3 L557.4 775.2 L557.8 775.2 L557.8 775.2 L558.2 775.2 L558.2 775.6 L558.6 775.6 L558.6 775.6 L559 775.6 L559 775.6 L559.4 775.6 L559.4 775.3 L559.8 775.3 L559.8 775.6 L560.2 775.6 L560.2 775.6 L560.6 775.6 L560.6 775 L561 775 L561 775.6 L561.4 775.6 L561.4 775.6 L561.8 775.6 L561.8 775.1 L562.2 775.1 L562.2 775.4 L562.6 775.4 L562.6 775.6 L563 775.6 L563 775.6 L563.4 775.6 L563.4 775.6 L563.8 775.6 L563.8 775.6 L564.2 775.6 L564.2 775.6 L564.6 775.6 L564.6 775.6 L565 775.6 L565 775.6 L565.4 775.6 L565.4 775.6 L565.8 775.6 L565.8 775.6 L566.2 775.6 L566.2 775.6 L566.6 775.6 L566.6 775.4 L567 775.4 L567 775 L567.4 775 L567.4 775.6 L567.8 775.6 L567.8 774.7 L568.2 774.7 L568.2 775.6 L568.6 775.6 L568.6 775.6 L569 775.6 L569 775.3 L569.4 775.3 L569.4 774.9 L569.8 774.9 L569.8 775.6 L570.2 775.6 L570.2 774.8 L570.6 774.8 L570.6 775.6 L571 775.6 L571 775.2 L571.4 775.2 L571.4 775.6 L571.8 775.6 L571.8 775 L572.2 775 L572.2 775 L572.6 775 L572.6 774.8 L573 774.8 L573 775.3 L573.4 775.3 L573.4 775.6 L573.8 775.6 L573.8 775.1 L574.2 775.1 L574.2 775.6 L574.6 775.6 L574.6 774.9 L575 774.9 L575 775.6 L575.4 775.6 L575.4 775.6 L575.8 775.6 L575.8 775.2 L576.2 775.2 L576.2 775.2 L576.6 775.2 L576.6 775.4 L577 775.4 L577 775.4 L577.4 775.4 L577.4 775.1 L577.8 775.1 L577.8 775.4 L578.2 775.4 L578.2 775.6 L578.6 775.6 L578.6 775.6 L579 775.6 L579 775 L579.4 775 L579.4 775.6 L579.8 775.6 L579.8 775.6 L580.2 775.6 L580.2 775.6 L580.6 775.6 L580.6 775.4 L581 775.4 L581 775.6 L581.4 775.6 L581.4 775.6 L581.8 775.6 L581.8 775.6 L582.2 775.6 L582.2 775.3 L582.6 775.3 L582.6 775.4 L583 775.4 L583 775.6 L583.4 775.6 L583.4 775.2 L583.8 775.2 L583.8 774.8 L584.2 774.8 L584.2 775.1 L584.6 775.1 L584.6 775.5 L585 775.5 L585 775.6 L585.4 775.6 L585.4 775.5 L585.8 775.5 L585.8 775.6 L586.2 775.6 L586.2 775 L586.6 775 L586.6 774.4 L587 774.4 L587 773.5 L587.4 773.5 L587.4 773.5 L587.8 773.5 L587.8 774.3 L588.2 774.3 L588.2 775 L588.6 775 L588.6 775.6 L589 775.6 L589 775 L589.4 775 L589.4 775.6 L589.8 775.6 L589.8 775.6 L590.2 775.6 L590.2 775.6 L590.6 775.6 L590.6 775.6 L591 775.6 L591 775.4 L591.4 775.4 L591.4 775 L591.8 775 L591.8 775 L592.2 775 L592.2 775.2 L592.6 775.2 L592.6 775.6 L593 775.6 L593 775.2 L593.4 775.2 L593.4 775.4 L593.8 775.4 L593.8 775.1 L594.2 775.1 L594.2 775.6 L594.6 775.6 L594.6 774.7 L595 774.7 L595 775.6 L595.4 775.6 L595.4 775 L595.8 775 L595.8 775.1 L596.2 775.1 L596.2 775.1 L596.6 775.1 L596.6 775.6 L597 775.6 L597 775.6 L597.4 775.6 L597.4 775.6 L597.8 775.6 L597.8 775.6 L598.2 775.6 L598.2 775.6 L598.6 775.6 L598.6 775.6 L599 775.6 L599 775.3 L599.4 775.3 L599.4 774.9 L599.8 774.9 L599.8 774.4 L600.2 774.4 L600.2 774.4 L600.6 774.4 L600.6 774.9 L601 774.9 L601 775.3 L601.4 775.3 L601.4 775.1 L601.8 775.1 L601.8 775 L602.2 775 L602.2 775.5 L602.6 775.5 L602.6 775 L603 775 L603 774.8 L603.4 774.8 L603.4 775.3 L603.8 775.3 L603.8 775.6 L604.2 775.6 L604.2 775.6 L604.6 775.6 L604.6 774.9 L605 774.9 L605 774.7 L605.4 774.7 L605.4 775.6 L605.8 775.6 L605.8 775.6 L606.2 775.6 L606.2 775.6 L606.6 775.6 L606.6 775.6 L607 775.6 L607 775.6 L607.4 775.6 L607.4 775.3 L607.8 775.3 L607.8 775.6 L608.2 775.6 L608.2 775 L608.6 775 L608.6 775.6 L609 775.6 L609 775.6 L609.4 775.6 L609.4 775.6 L609.8 775.6 L609.8 775.1 L610.2 775.1 L610.2 775.6 L610.6 775.6 L610.6 775.2 L611 775.2 L611 775.6 L611.4 775.6 L611.4 775.6 L611.8 775.6 L611.8 775.6 L612.2 775.6 L612.2 775.6 L612.6 775.6 L612.6 775.6 L613 775.6 L613 775.6 L613.4 775.6 L613.4 774.8 L613.8 774.8 L613.8 775.4 L614.2 775.4 L614.2 775.6 L614.6 775.6 L614.6 775.6 L615 775.6 L615 774.8 L615.4 774.8 L615.4 775.1 L615.8 775.1 L615.8 775.4 L616.2 775.4 L616.2 775.6 L616.6 775.6 L616.6 775.1 L617 775.1 L617 775 L617.4 775 L617.4 775.1 L617.8 775.1 L617.8 775.6 L618.2 775.6 L618.2 774.8 L618.6 774.8 L618.6 775.2 L619 775.2 L619 775.3 L619.4 775.3 L619.4 775.6 L619.8 775.6 L619.8 775.6 L620.2 775.6 L620.2 775.6 L620.6 775.6 L620.6 775.2 L621 775.2 L621 775.6 L621.4 775.6 L621.4 775.6 L621.8 775.6 L621.8 775.6 L622.2 775.6 L622.2 775.1 L622.6 775.1 L622.6 775.3 L623 775.3 L623 775 L623.4 775 L623.4 775.6 L623.8 775.6 L623.8 775.6 L624.2 775.6 L624.2 775.6 L624.6 775.6 L624.6 775.2 L625 775.2 L625 775.2 L625.4 775.2 L625.4 775.4 L625.8 775.4 L625.8 775.6 L626.2 775.6 L626.2 775.6 L626.6 775.6 L626.6 775.6 L627 775.6 L627 775.6 L627.4 775.6 L627.4 775.3 L627.8 775.3 L627.8 775.6 L628.2 775.6 L628.2 775.6 L628.6 775.6 L628.6 775 L629 775 L629 774.3 L629.4 774.3 L629.4 773.4 L629.8 773.4 L629.8 772.8 L630.2 772.8 L630.2 773.8 L630.6 773.8 L630.6 774.7 L631 774.7 L631 775.4 L631.4 775.4 L631.4 775.6 L631.8 775.6 L631.8 774.7 L632.2 774.7 L632.2 775.6 L632.6 775.6 L632.6 775.1 L633 775.1 L633 775.6 L633.4 775.6 L633.4 775.6 L633.8 775.6 L633.8 775.6 L634.2 775.6 L634.2 775.6 L634.6 775.6 L634.6 775.1 L635 775.1 L635 775.6 L635.4 775.6 L635.4 774.7 L635.8 774.7 L635.8 775.6 L636.2 775.6 L636.2 775 L636.6 775 L636.6 775.6 L637 775.6 L637 775.6 L637.4 775.6 L637.4 774.9 L637.8 774.9 L637.8 775.5 L638.2 775.5 L638.2 775.6 L638.6 775.6 L638.6 775.6 L639 775.6 L639 775.2 L639.4 775.2 L639.4 775.6 L639.8 775.6 L639.8 775.6 L640.2 775.6 L640.2 774.8 L640.6 774.8 L640.6 775.6 L641 775.6 L641 775 L641.4 775 L641.4 775.6 L641.8 775.6 L641.8 775.6 L642.2 775.6 L642.2 775.6 L642.6 775.6 L642.6 775.6 L643 775.6 L643 775.6 L643.4 775.6 L643.4 775.5 L643.8 775.5 L643.8 775.6 L644.2 775.6 L644.2 775.1 L644.6 775.1 L644.6 775.6 L645 775.6 L645 774.8 L645.4 774.8 L645.4 775.5 L645.8 775.5 L645.8 775.6 L646.2 775.6 L646.2 774.8 L646.6 774.8 L646.6 775.5 L647 775.5 L647 775.6 L647.4 775.6 L647.4 775 L647.8 775 L647.8 775.3 L648.2 775.3 L648.2 774.8 L648.6 774.8 L648.6 775.6 L649 775.6 L649 775.6 L649.4 775.6 L649.4 775.6 L649.8 775.6 L649.8 775.6 L650.2 775.6 L650.2 775 L650.6 775 L650.6 775.3 L651 775.3 L651 775.6 L651.4 775.6 L651.4 775.6 L651.8 775.6 L651.8 775.6 L652.2 775.6 L652.2 775.3 L652.6 775.3 L652.6 775.6 L653 775.6 L653 775.6 L653.4 775.6 L653.4 774.8 L653.8 774.8 L653.8 775.5 L654.2 775.5 L654.2 775.1 L654.6 775.1 L654.6 774.7 L655 774.7 L655 774.1 L655.4 774.1 L655.4 774.7 L655.8 774.7 L655.8 774.8 L656.2 774.8 L656.2 775.5 L656.6 775.5 L656.6 775.6 L657 775.6 L657 775.2 L657.4 775.2 L657.4 775.3 L657.8 775.3 L657.8 775.4 L658.2 775.4 L658.2 775.6 L658.6 775.6 L658.6 775.6 L659 775.6 L659 775.6 L659.4 775.6 L659.4 775.6 L659.8 775.6 L659.8 775.6 L660.2 775.6 L660.2 775.4 L660.6 775.4 L660.6 775.6 L661 775.6 L661 775.5 L661.4 775.5 L661.4 775.6 L661.8 775.6 L661.8 775.4 L662.2 775.4 L662.2 774.8 L662.6 774.8 L662.6 774.8 L663 774.8 L663 775.1 L663.4 775.1 L663.4 775.5 L663.8 775.5 L663.8 775.6 L664.2 775.6 L664.2 774.9 L664.6 774.9 L664.6 775.6 L665 775.6 L665 774.7 L665.4 774.7 L665.4 775.5 L665.8 775.5 L665.8 775.5 L666.2 775.5 L666.2 775.6 L666.6 775.6 L666.6 775.6 L667 775.6 L667 775.6 L667.4 775.6 L667.4 775.6 L667.8 775.6 L667.8 775.6 L668.2 775.6 L668.2 775.2 L668.6 775.2 L668.6 775.1 L669 775.1 L669 775.4 L669.4 775.4 L669.4 775.3 L669.8 775.3 L669.8 775.6 L670.2 775.6 L670.2 775.4 L670.6 775.4 L670.6 775.6 L671 775.6 L671 775.6 L671.4 775.6 L671.4 775.6 L671.8 775.6 L671.8 775.6 L672.2 775.6 L672.2 775.6 L672.6 775.6 L672.6 774.8 L673 774.8 L673 775.5 L673.4 775.5 L673.4 774.9 L673.8 774.9 L673.8 775.6 L674.2 775.6 L674.2 775.6 L674.6 775.6 L674.6 775.6 L675 775.6 L675 775.6 L675.4 775.6 L675.4 775.6 L675.8 775.6 L675.8 774.7 L676.2 774.7 L676.2 775.6 L676.6 775.6 L676.6 775.1 L677 775.1 L677 775.6 L677.4 775.6 L677.4 775.6 L677.8 775.6 L677.8 775.6 L678.2 775.6 L678.2 775.6 L678.6 775.6 L678.6 775.6 L679 775.6 L679 774.9 L679.4 774.9 L679.4 775.6 L679.8 775.6 L679.8 775.6 L680.2 775.6 L680.2 775.3 L680.6 775.3 L680.6 775 L681 775 L681 774.4 L681.4 774.4 L681.4 774.1 L681.8 774.1 L681.8 773.9 L682.2 773.9 L682.2 773.6 L682.6 773.6 L682.6 773.4 L683 773.4 L683 773.1 L683.4 773.1 L683.4 773.3 L683.8 773.3 L683.8 773.6 L684.2 773.6 L684.2 773.8 L684.6 773.8 L684.6 774.1 L685 774.1 L685 774.3 L685.4 774.3 L685.4 775 L685.8 775 L685.8 775.4 L686.2 775.4 L686.2 775.2 L686.6 775.2 L686.6 775.6 L687 775.6 L687 775.6 L687.4 775.6 L687.4 774.8 L687.8 774.8 L687.8 775.6 L688.2 775.6 L688.2 775.4 L688.6 775.4 L688.6 774.9 L689 774.9 L689 774.1 L689.4 774.1 L689.4 773.5 L689.8 773.5 L689.8 772.9 L690.2 772.9 L690.2 772.9 L690.6 772.9 L690.6 773.5 L691 773.5 L691 774.1 L691.4 774.1 L691.4 774.8 L691.8 774.8 L691.8 774.8 L692.2 774.8 L692.2 775.6 L692.6 775.6 L692.6 775 L693 775 L693 775.6 L693.4 775.6 L693.4 775.6 L693.8 775.6 L693.8 775.6 L694.2 775.6 L694.2 775.1 L694.6 775.1 L694.6 775.2 L695 775.2 L695 775.5 L695.4 775.5 L695.4 775.3 L695.8 775.3 L695.8 775.1 L696.2 775.1 L696.2 775.6 L696.6 775.6 L696.6 775.1 L697 775.1 L697 775.4 L697.4 775.4 L697.4 774.7 L697.8 774.7 L697.8 775.6 L698.2 775.6 L698.2 775.6 L698.6 775.6 L698.6 775.5 L699 775.5 L699 775.3 L699.4 775.3 L699.4 775.6 L699.8 775.6 L699.8 775 L700.2 775 L700.2 775.6 L700.6 775.6 L700.6 775.6 L701 775.6 L701 775.6 L701.4 775.6 L701 775.6 Z" fill="#8c2c24"/>
<path d="M407 801.9 L407 801.9 L407.4 801.9 L407.4 801.9 L407.8 801.9 L407.8 801.9 L408.2 801.9 L408.2 801.9 L408.6 801.9 L408.6 801.9 L409 801.9 L409 801.9 L409.4 801.9 L409.4 801.5 L409.8 801.5 L409.8 801.9 L410.2 801.9 L410.2 801.9 L410.6 801.9 L410.6 801.9 L411 801.9 L411 801.5 L411.4 801.5 L411.4 801.4 L411.8 801.4 L411.8 801.9 L412.2 801.9 L412.2 801.7 L412.6 801.7 L412.6 801.1 L413 801.1 L413 801.9 L413.4 801.9 L413.4 801.2 L413.8 801.2 L413.8 801.3 L414.2 801.3 L414.2 801.9 L414.6 801.9 L414.6 801.9 L415 801.9 L415 801.7 L415.4 801.7 L415.4 801.9 L415.8 801.9 L415.8 801.9 L416.2 801.9 L416.2 801 L416.6 801 L416.6 801.9 L417 801.9 L417 801.9 L417.4 801.9 L417.4 801.1 L417.8 801.1 L417.8 801.9 L418.2 801.9 L418.2 801.9 L418.6 801.9 L418.6 801.9 L419 801.9 L419 801.6 L419.4 801.6 L419.4 801.8 L419.8 801.8 L419.8 801.6 L420.2 801.6 L420.2 801.9 L420.6 801.9 L420.6 801.3 L421 801.3 L421 801.6 L421.4 801.6 L421.4 801.9 L421.8 801.9 L421.8 801.6 L422.2 801.6 L422.2 801.3 L422.6 801.3 L422.6 801 L423 801 L423 801.2 L423.4 801.2 L423.4 801.9 L423.8 801.9 L423.8 801.2 L424.2 801.2 L424.2 801.4 L424.6 801.4 L424.6 801.9 L425 801.9 L425 801 L425.4 801 L425.4 801.2 L425.8 801.2 L425.8 801.9 L426.2 801.9 L426.2 801.9 L426.6 801.9 L426.6 801.6 L427 801.6 L427 801.9 L427.4 801.9 L427.4 801.9 L427.8 801.9 L427.8 801.2 L428.2 801.2 L428.2 801.9 L428.6 801.9 L428.6 801.9 L429 801.9 L429 801 L429.4 801 L429.4 801.6 L429.8 801.6 L429.8 801.9 L430.2 801.9 L430.2 801.9 L430.6 801.9 L430.6 801.1 L431 801.1 L431 801.9 L431.4 801.9 L431.4 801.6 L431.8 801.6 L431.8 801.8 L432.2 801.8 L432.2 801.3 L432.6 801.3 L432.6 801.9 L433 801.9 L433 801.9 L433.4 801.9 L433.4 801.9 L433.8 801.9 L433.8 801.9 L434.2 801.9 L434.2 801.7 L434.6 801.7 L434.6 801.9 L435 801.9 L435 801.9 L435.4 801.9 L435.4 801.5 L435.8 801.5 L435.8 801.1 L436.2 801.1 L436.2 801.5 L436.6 801.5 L436.6 801.9 L437 801.9 L437 801.2 L437.4 801.2 L437.4 801.9 L437.8 801.9 L437.8 801.9 L438.2 801.9 L438.2 801.9 L438.6 801.9 L438.6 801.5 L439 801.5 L439 801.1 L439.4 801.1 L439.4 801.2 L439.8 801.2 L439.8 800.7 L440.2 800.7 L440.2 800.7 L440.6 800.7 L440.6 801.2 L441 801.2 L441 801.5 L441.4 801.5 L441.4 801.9 L441.8 801.9 L441.8 801.6 L442.2 801.6 L442.2 801.8 L442.6 801.8 L442.6 801 L443 801 L443 801.9 L443.4 801.9 L443.4 801.9 L443.8 801.9 L443.8 801.6 L444.2 801.6 L444.2 801.7 L444.6 801.7 L444.6 801.9 L445 801.9 L445 801.9 L445.4 801.9 L445.4 801.2 L445.8 801.2 L445.8 801.9 L446.2 801.9 L446.2 801.9 L446.6 801.9 L446.6 801.9 L447 801.9 L447 801.9 L447.4 801.9 L447.4 801.3 L447.8 801.3 L447.8 801.5 L448.2 801.5 L448.2 801.9 L448.6 801.9 L448.6 801.9 L449 801.9 L449 801 L449.4 801 L449.4 801.9 L449.8 801.9 L449.8 801.9 L450.2 801.9 L450.2 801.4 L450.6 801.4 L450.6 801.3 L451 801.3 L451 801.2 L451.4 801.2 L451.4 801.9 L451.8 801.9 L451.8 801.9 L452.2 801.9 L452.2 801.3 L452.6 801.3 L452.6 801.9 L453 801.9 L453 801.9 L453.4 801.9 L453.4 801.1 L453.8 801.1 L453.8 801.8 L454.2 801.8 L454.2 801.4 L454.6 801.4 L454.6 801 L455 801 L455 800.4 L455.4 800.4 L455.4 801 L455.8 801 L455.8 801.4 L456.2 801.4 L456.2 801.1 L456.6 801.1 L456.6 801.9 L457 801.9 L457 801.3 L457.4 801.3 L457.4 801.9 L457.8 801.9 L457.8 801.9 L458.2 801.9 L458.2 801.2 L458.6 801.2 L458.6 801.9 L459 801.9 L459 801.9 L459.4 801.9 L459.4 801.3 L459.8 801.3 L459.8 801.9 L460.2 801.9 L460.2 801.9 L460.6 801.9 L460.6 801.9 L461 801.9 L461 801.8 L461.4 801.8 L461.4 801.3 L461.8 801.3 L461.8 801.3 L462.2 801.3 L462.2 801.9 L462.6 801.9 L462.6 801.5 L463 801.5 L463 801.9 L463.4 801.9 L463.4 801.6 L463.8 801.6 L463.8 801.7 L464.2 801.7 L464.2 801.5 L464.6 801.5 L464.6 801.3 L465 801.3 L465 801.9 L465.4 801.9 L465.4 801.1 L465.8 801.1 L465.8 801.5 L466.2 801.5 L466.2 801.5 L466.6 801.5 L466.6 801.2 L467 801.2 L467 801.9 L467.4 801.9 L467.4 801.9 L467.8 801.9 L467.8 801.4 L468.2 801.4 L468.2 801.4 L468.6 801.4 L468.6 801.9 L469 801.9 L469 801.9 L469.4 801.9 L469.4 801.2 L469.8 801.2 L469.8 801.9 L470.2 801.9 L470.2 801.8 L470.6 801.8 L470.6 801.9 L471 801.9 L471 801.9 L471.4 801.9 L471.4 801.9 L471.8 801.9 L471.8 801.9 L472.2 801.9 L472.2 801.9 L472.6 801.9 L472.6 801.1 L473 801.1 L473 801.8 L473.4 801.8 L473.4 801.9 L473.8 801.9 L473.8 801.9 L474.2 801.9 L474.2 801.3 L474.6 801.3 L474.6 801.9 L475 801.9 L475 801.5 L475.4 801.5 L475.4 801.6 L475.8 801.6 L475.8 801.9 L476.2 801.9 L476.2 801 L476.6 801 L476.6 801.9 L477 801.9 L477 801.9 L477.4 801.9 L477.4 801 L477.8 801 L477.8 801.5 L478.2 801.5 L478.2 801 L478.6 801 L478.6 801.6 L479 801.6 L479 801.8 L479.4 801.8 L479.4 801.2 L479.8 801.2 L479.8 800.4 L480.2 800.4 L480.2 799.8 L480.6 799.8 L480.6 799.2 L481 799.2 L481 799.2 L481.4 799.2 L481.4 799.2 L481.8 799.2 L481.8 798.7 L482.2 798.7 L482.2 797.7 L482.6 797.7 L482.6 797.1 L483 797.1 L483 798.1 L483.4 798.1 L483.4 795.4 L483.8 795.4 L483.8 791.7 L484.2 791.7 L484.2 789.8 L484.6 789.8 L484.6 793.5 L485 793.5 L485 794.9 L485.4 794.9 L485.4 796.3 L485.8 796.3 L485.8 796.7 L486.2 796.7 L486.2 793.3 L486.6 793.3 L486.6 789.9 L487 789.9 L487 793.3 L487.4 793.3 L487.4 796.6 L487.8 796.6 L487.8 798.1 L488.2 798.1 L488.2 799.7 L488.6 799.7 L488.6 800.3 L489 800.3 L489 799.7 L489.4 799.7 L489.4 799.1 L489.8 799.1 L489.8 799.3 L490.2 799.3 L490.2 799.9 L490.6 799.9 L490.6 797.9 L491 797.9 L491 795.6 L491.4 795.6 L491.4 794.5 L491.8 794.5 L491.8 794 L492.2 794 L492.2 787.9 L492.6 787.9 L492.6 780.9 L493 780.9 L493 787.9 L493.4 787.9 L493.4 789.1 L493.8 789.1 L493.8 790.6 L494.2 790.6 L494.2 784.9 L494.6 784.9 L494.6 790.6 L495 790.6 L495 793.6 L495.4 793.6 L495.4 793.6 L495.8 793.6 L495.8 796.9 L496.2 796.9 L496.2 794.6 L496.6 794.6 L496.6 794.4 L497 794.4 L497 789.4 L497.4 789.4 L497.4 789.4 L497.8 789.4 L497.8 792.9 L498.2 792.9 L498.2 790.9 L498.6 790.9 L498.6 786.5 L499 786.5 L499 783.1 L499.4 783.1 L499.4 789.9 L499.8 789.9 L499.8 789.9 L500.2 789.9 L500.2 793.9 L500.6 793.9 L500.6 793.7 L501 793.7 L501 793.9 L501.4 793.9 L501.4 789.9 L501.8 789.9 L501.8 793.2 L502.2 793.2 L502.2 788.2 L502.6 788.2 L502.6 790.6 L503 790.6 L503 792.7 L503.4 792.7 L503.4 792.7 L503.8 792.7 L503.8 795.2 L504.2 795.2 L504.2 795.2 L504.6 795.2 L504.6 795.9 L505 795.9 L505 792.9 L505.4 792.9 L505.4 795.9 L505.8 795.9 L505.8 792.5 L506.2 792.5 L506.2 790.4 L506.6 790.4 L506.6 794.6 L507 794.6 L507 793.9 L507.4 793.9 L507.4 796.6 L507.8 796.6 L507.8 797.6 L508.2 797.6 L508.2 797.6 L508.6 797.6 L508.6 799 L509 799 L509 798.9 L509.4 798.9 L509.4 799.8 L509.8 799.8 L509.8 800.6 L510.2 800.6 L510.2 801.3 L510.6 801.3 L510.6 801.1 L511 801.1 L511 801.2 L511.4 801.2 L511.4 801.5 L511.8 801.5 L511.8 801.9 L512.2 801.9 L512.2 801.9 L512.6 801.9 L512.6 801.3 L513 801.3 L513 800.7 L513.4 800.7 L513.4 800.2 L513.8 800.2 L513.8 799.7 L514.2 799.7 L514.2 799.6 L514.6 799.6 L514.6 800.1 L515 800.1 L515 800.6 L515.4 800.6 L515.4 801.3 L515.8 801.3 L515.8 800.8 L516.2 800.8 L516.2 800.1 L516.6 800.1 L516.6 799.5 L517 799.5 L517 798.9 L517.4 798.9 L517.4 799.5 L517.8 799.5 L517.8 800.1 L518.2 800.1 L518.2 800.8 L518.6 800.8 L518.6 801.5 L519 801.5 L519 801.7 L519.4 801.7 L519.4 801 L519.8 801 L519.8 800.2 L520.2 800.2 L520.2 799.5 L520.6 799.5 L520.6 799.1 L521 799.1 L521 799.8 L521.4 799.8 L521.4 799.3 L521.8 799.3 L521.8 798.7 L522.2 798.7 L522.2 799.9 L522.6 799.9 L522.6 800.8 L523 800.8 L523 801.7 L523.4 801.7 L523.4 801.9 L523.8 801.9 L523.8 801 L524.2 801 L524.2 801.8 L524.6 801.8 L524.6 801.9 L525 801.9 L525 801.9 L525.4 801.9 L525.4 801.9 L525.8 801.9 L525.8 801.9 L526.2 801.9 L526.2 801.9 L526.6 801.9 L526.6 801.8 L527 801.8 L527 801.1 L527.4 801.1 L527.4 801.1 L527.8 801.1 L527.8 801.7 L528.2 801.7 L528.2 801.5 L528.6 801.5 L528.6 801.7 L529 801.7 L529 801.6 L529.4 801.6 L529.4 801.9 L529.8 801.9 L529.8 801.9 L530.2 801.9 L530.2 801.4 L530.6 801.4 L530.6 801.4 L531 801.4 L531 801.6 L531.4 801.6 L531.4 801.4 L531.8 801.4 L531.8 801.9 L532.2 801.9 L532.2 801.9 L532.6 801.9 L532.6 801.9 L533 801.9 L533 801.9 L533.4 801.9 L533.4 801 L533.8 801 L533.8 800.2 L534.2 800.2 L534.2 799 L534.6 799 L534.6 799 L535 799 L535 800.1 L535.4 800.1 L535.4 801 L535.8 801 L535.8 801.9 L536.2 801.9 L536.2 801.8 L536.6 801.8 L536.6 801.8 L537 801.8 L537 801.9 L537.4 801.9 L537.4 801.9 L537.8 801.9 L537.8 801.8 L538.2 801.8 L538.2 801.7 L538.6 801.7 L538.6 801.5 L539 801.5 L539 801.9 L539.4 801.9 L539.4 801.8 L539.8 801.8 L539.8 801.9 L540.2 801.9 L540.2 801.7 L540.6 801.7 L540.6 801.6 L541 801.6 L541 801.5 L541.4 801.5 L541.4 801.2 L541.8 801.2 L541.8 801.9 L542.2 801.9 L542.2 801.9 L542.6 801.9 L542.6 801.9 L543 801.9 L543 801.9 L543.4 801.9 L543.4 801.9 L543.8 801.9 L543.8 801.2 L544.2 801.2 L544.2 801.9 L544.6 801.9 L544.6 801.9 L545 801.9 L545 801.9 L545.4 801.9 L545.4 801.9 L545.8 801.9 L545.8 801.2 L546.2 801.2 L546.2 801.8 L546.6 801.8 L546.6 801.7 L547 801.7 L547 801.3 L547.4 801.3 L547.4 801.8 L547.8 801.8 L547.8 801.9 L548.2 801.9 L548.2 801.9 L548.6 801.9 L548.6 801.9 L549 801.9 L549 801.6 L549.4 801.6 L549.4 801.9 L549.8 801.9 L549.8 801.7 L550.2 801.7 L550.2 801.2 L550.6 801.2 L550.6 800.6 L551 800.6 L551 799.9 L551.4 799.9 L551.4 800.6 L551.8 800.6 L551.8 801.1 L552.2 801.1 L552.2 801.6 L552.6 801.6 L552.6 801.4 L553 801.4 L553 801.3 L553.4 801.3 L553.4 801.1 L553.8 801.1 L553.8 801.9 L554.2 801.9 L554.2 801.6 L554.6 801.6 L554.6 801.9 L555 801.9 L555 801.5 L555.4 801.5 L555.4 801.2 L555.8 801.2 L555.8 801.9 L556.2 801.9 L556.2 801.9 L556.6 801.9 L556.6 801.9 L557 801.9 L557 801.9 L557.4 801.9 L557.4 801.2 L557.8 801.2 L557.8 801.9 L558.2 801.9 L558.2 801.9 L558.6 801.9 L558.6 801.4 L559 801.4 L559 801.1 L559.4 801.1 L559.4 801.7 L559.8 801.7 L559.8 801.7 L560.2 801.7 L560.2 801.9 L560.6 801.9 L560.6 801.2 L561 801.2 L561 801.6 L561.4 801.6 L561.4 801 L561.8 801 L561.8 801.9 L562.2 801.9 L562.2 801.9 L562.6 801.9 L562.6 801.9 L563 801.9 L563 801.8 L563.4 801.8 L563.4 801.9 L563.8 801.9 L563.8 801.9 L564.2 801.9 L564.2 801.8 L564.6 801.8 L564.6 801.9 L565 801.9 L565 801.9 L565.4 801.9 L565.4 801.2 L565.8 801.2 L565.8 801.3 L566.2 801.3 L566.2 801.9 L566.6 801.9 L566.6 801.9 L567 801.9 L567 801.9 L567.4 801.9 L567.4 801.9 L567.8 801.9 L567.8 801.9 L568.2 801.9 L568.2 801.9 L568.6 801.9 L568.6 801.5 L569 801.5 L569 801.9 L569.4 801.9 L569.4 801.6 L569.8 801.6 L569.8 801.3 L570.2 801.3 L570.2 801 L570.6 801 L570.6 801.9 L571 801.9 L571 801.9 L571.4 801.9 L571.4 801.9 L571.8 801.9 L571.8 801.9 L572.2 801.9 L572.2 801.9 L572.6 801.9 L572.6 801.9 L573 801.9 L573 801.4 L573.4 801.4 L573.4 801.9 L573.8 801.9 L573.8 801.9 L574.2 801.9 L574.2 801.8 L574.6 801.8 L574.6 801.6 L575 801.6 L575 801.9 L575.4 801.9 L575.4 801.9 L575.8 801.9 L575.8 801.9 L576.2 801.9 L576.2 801.1 L576.6 801.1 L576.6 801.3 L577 801.3 L577 801.2 L577.4 801.2 L577.4 801.9 L577.8 801.9 L577.8 801.9 L578.2 801.9 L578.2 801.9 L578.6 801.9 L578.6 801.9 L579 801.9 L579 801.9 L579.4 801.9 L579.4 801.9 L579.8 801.9 L579.8 801.9 L580.2 801.9 L580.2 801.4 L580.6 801.4 L580.6 801.9 L581 801.9 L581 801 L581.4 801 L581.4 801.9 L581.8 801.9 L581.8 801.9 L582.2 801.9 L582.2 801.7 L582.6 801.7 L582.6 801.9 L583 801.9 L583 801.9 L583.4 801.9 L583.4 801.9 L583.8 801.9 L583.8 801.9 L584.2 801.9 L584.2 801.8 L584.6 801.8 L584.6 801.9 L585 801.9 L585 801.9 L585.4 801.9 L585.4 801.9 L585.8 801.9 L585.8 801.1 L586.2 801.1 L586.2 800.8 L586.6 800.8 L586.6 799.9 L587 799.9 L587 798.9 L587.4 798.9 L587.4 799.9 L587.8 799.9 L587.8 800.8 L588.2 800.8 L588.2 801.5 L588.6 801.5 L588.6 801.9 L589 801.9 L589 801.9 L589.4 801.9 L589.4 801.9 L589.8 801.9 L589.8 801.9 L590.2 801.9 L590.2 801.5 L590.6 801.5 L590.6 801.9 L591 801.9 L591 801.9 L591.4 801.9 L591.4 801.6 L591.8 801.6 L591.8 801.9 L592.2 801.9 L592.2 801.9 L592.6 801.9 L592.6 801.9 L593 801.9 L593 801.4 L593.4 801.4 L593.4 801.9 L593.8 801.9 L593.8 801.7 L594.2 801.7 L594.2 801.9 L594.6 801.9 L594.6 801.9 L595 801.9 L595 801.9 L595.4 801.9 L595.4 801.9 L595.8 801.9 L595.8 801.5 L596.2 801.5 L596.2 801.9 L596.6 801.9 L596.6 801.9 L597 801.9 L597 801.1 L597.4 801.1 L597.4 801.9 L597.8 801.9 L597.8 801.9 L598.2 801.9 L598.2 801.3 L598.6 801.3 L598.6 801.9 L599 801.9 L599 801.8 L599.4 801.8 L599.4 801.8 L599.8 801.8 L599.8 801.8 L600.2 801.8 L600.2 801.9 L600.6 801.9 L600.6 801.2 L601 801.2 L601 801.9 L601.4 801.9 L601.4 801.9 L601.8 801.9 L601.8 801.9 L602.2 801.9 L602.2 801.9 L602.6 801.9 L602.6 801.9 L603 801.9 L603 801.9 L603.4 801.9 L603.4 801.9 L603.8 801.9 L603.8 801.9 L604.2 801.9 L604.2 801.8 L604.6 801.8 L604.6 801.7 L605 801.7 L605 801.5 L605.4 801.5 L605.4 801.9 L605.8 801.9 L605.8 801.9 L606.2 801.9 L606.2 801.5 L606.6 801.5 L606.6 801.9 L607 801.9 L607 801.8 L607.4 801.8 L607.4 801.9 L607.8 801.9 L607.8 801.3 L608.2 801.3 L608.2 801 L608.6 801 L608.6 801.9 L609 801.9 L609 801.2 L609.4 801.2 L609.4 801.9 L609.8 801.9 L609.8 801.8 L610.2 801.8 L610.2 801.6 L610.6 801.6 L610.6 801.9 L611 801.9 L611 801.9 L611.4 801.9 L611.4 801.6 L611.8 801.6 L611.8 801.3 L612.2 801.3 L612.2 801.9 L612.6 801.9 L612.6 801.9 L613 801.9 L613 801.6 L613.4 801.6 L613.4 801.9 L613.8 801.9 L613.8 801.9 L614.2 801.9 L614.2 801.5 L614.6 801.5 L614.6 801.3 L615 801.3 L615 801.7 L615.4 801.7 L615.4 801.5 L615.8 801.5 L615.8 801.9 L616.2 801.9 L616.2 801.9 L616.6 801.9 L616.6 801.1 L617 801.1 L617 801.6 L617.4 801.6 L617.4 801.9 L617.8 801.9 L617.8 801.2 L618.2 801.2 L618.2 801.9 L618.6 801.9 L618.6 801.5 L619 801.5 L619 801.4 L619.4 801.4 L619.4 801.7 L619.8 801.7 L619.8 801.9 L620.2 801.9 L620.2 801.5 L620.6 801.5 L620.6 801.6 L621 801.6 L621 801.9 L621.4 801.9 L621.4 801.9 L621.8 801.9 L621.8 801.9 L622.2 801.9 L622.2 801.5 L622.6 801.5 L622.6 801.9 L623 801.9 L623 801.4 L623.4 801.4 L623.4 801.9 L623.8 801.9 L623.8 801.9 L624.2 801.9 L624.2 801.9 L624.6 801.9 L624.6 801.9 L625 801.9 L625 801.9 L625.4 801.9 L625.4 801.1 L625.8 801.1 L625.8 801.9 L626.2 801.9 L626.2 801.9 L626.6 801.9 L626.6 801 L627 801 L627 801.9 L627.4 801.9 L627.4 801.9 L627.8 801.9 L627.8 801.2 L628.2 801.2 L628.2 801 L628.6 801 L628.6 800.2 L629 800.2 L629 799.4 L629.4 799.4 L629.4 800.2 L629.8 800.2 L629.8 801 L630.2 801 L630.2 801.6 L630.6 801.6 L630.6 801.8 L631 801.8 L631 801.1 L631.4 801.1 L631.4 801.9 L631.8 801.9 L631.8 801.9 L632.2 801.9 L632.2 801.9 L632.6 801.9 L632.6 801.9 L633 801.9 L633 801.9 L633.4 801.9 L633.4 801.7 L633.8 801.7 L633.8 801.9 L634.2 801.9 L634.2 801.9 L634.6 801.9 L634.6 801.7 L635 801.7 L635 801.7 L635.4 801.7 L635.4 801.9 L635.8 801.9 L635.8 801.2 L636.2 801.2 L636.2 801.4 L636.6 801.4 L636.6 801.9 L637 801.9 L637 801.9 L637.4 801.9 L637.4 801.8 L637.8 801.8 L637.8 801.9 L638.2 801.9 L638.2 801.6 L638.6 801.6 L638.6 801.4 L639 801.4 L639 801.9 L639.4 801.9 L639.4 801.4 L639.8 801.4 L639.8 801.4 L640.2 801.4 L640.2 801.9 L640.6 801.9 L640.6 801.5 L641 801.5 L641 801.9 L641.4 801.9 L641.4 801.2 L641.8 801.2 L641.8 801.4 L642.2 801.4 L642.2 801.9 L642.6 801.9 L642.6 801.9 L643 801.9 L643 801.4 L643.4 801.4 L643.4 801.6 L643.8 801.6 L643.8 801.9 L644.2 801.9 L644.2 801.5 L644.6 801.5 L644.6 801.9 L645 801.9 L645 801.9 L645.4 801.9 L645.4 801.4 L645.8 801.4 L645.8 801.9 L646.2 801.9 L646.2 801.9 L646.6 801.9 L646.6 801.9 L647 801.9 L647 801.9 L647.4 801.9 L647.4 801.8 L647.8 801.8 L647.8 801.9 L648.2 801.9 L648.2 801.5 L648.6 801.5 L648.6 801.9 L649 801.9 L649 801.9 L649.4 801.9 L649.4 801.1 L649.8 801.1 L649.8 801.4 L650.2 801.4 L650.2 801.9 L650.6 801.9 L650.6 801.6 L651 801.6 L651 801.4 L651.4 801.4 L651.4 801.5 L651.8 801.5 L651.8 801.8 L652.2 801.8 L652.2 801.8 L652.6 801.8 L652.6 801.9 L653 801.9 L653 801.7 L653.4 801.7 L653.4 801.9 L653.8 801.9 L653.8 801.9 L654.2 801.9 L654.2 801.2 L654.6 801.2 L654.6 801.9 L655 801.9 L655 801.3 L655.4 801.3 L655.4 801.7 L655.8 801.7 L655.8 801.9 L656.2 801.9 L656.2 801.1 L656.6 801.1 L656.6 801.8 L657 801.8 L657 801.2 L657.4 801.2 L657.4 801.9 L657.8 801.9 L657.8 801.9 L658.2 801.9 L658.2 801.9 L658.6 801.9 L658.6 801.1 L659 801.1 L659 801.4 L659.4 801.4 L659.4 801.3 L659.8 801.3 L659.8 801.9 L660.2 801.9 L660.2 801.9 L660.6 801.9 L660.6 801 L661 801 L661 801.8 L661.4 801.8 L661.4 801.9 L661.8 801.9 L661.8 801.8 L662.2 801.8 L662.2 801.3 L662.6 801.3 L662.6 801.9 L663 801.9 L663 801.9 L663.4 801.9 L663.4 801.3 L663.8 801.3 L663.8 801.9 L664.2 801.9 L664.2 801.2 L664.6 801.2 L664.6 801.6 L665 801.6 L665 801.2 L665.4 801.2 L665.4 801.9 L665.8 801.9 L665.8 801.9 L666.2 801.9 L666.2 801.8 L666.6 801.8 L666.6 801.7 L667 801.7 L667 801.9 L667.4 801.9 L667.4 801.8 L667.8 801.8 L667.8 801.8 L668.2 801.8 L668.2 801.3 L668.6 801.3 L668.6 801.9 L669 801.9 L669 801.8 L669.4 801.8 L669.4 801.3 L669.8 801.3 L669.8 801.4 L670.2 801.4 L670.2 801.9 L670.6 801.9 L670.6 801.7 L671 801.7 L671 801.4 L671.4 801.4 L671.4 801.9 L671.8 801.9 L671.8 801.9 L672.2 801.9 L672.2 801.9 L672.6 801.9 L672.6 801.2 L673 801.2 L673 801.9 L673.4 801.9 L673.4 801.8 L673.8 801.8 L673.8 801.6 L674.2 801.6 L674.2 801.9 L674.6 801.9 L674.6 801.3 L675 801.3 L675 801.9 L675.4 801.9 L675.4 801.9 L675.8 801.9 L675.8 801.2 L676.2 801.2 L676.2 801.8 L676.6 801.8 L676.6 801.9 L677 801.9 L677 801.9 L677.4 801.9 L677.4 801.9 L677.8 801.9 L677.8 801 L678.2 801 L678.2 801.3 L678.6 801.3 L678.6 801.9 L679 801.9 L679 801.5 L679.4 801.5 L679.4 801.8 L679.8 801.8 L679.8 801.3 L680.2 801.3 L680.2 801.1 L680.6 801.1 L680.6 801.6 L681 801.6 L681 801.1 L681.4 801.1 L681.4 801.9 L681.8 801.9 L681.8 801.6 L682.2 801.6 L682.2 801 L682.6 801 L682.6 800.2 L683 800.2 L683 799.4 L683.4 799.4 L683.4 800.2 L683.8 800.2 L683.8 801 L684.2 801 L684.2 801.6 L684.6 801.6 L684.6 801.9 L685 801.9 L685 801.9 L685.4 801.9 L685.4 801.8 L685.8 801.8 L685.8 801.9 L686.2 801.9 L686.2 801.4 L686.6 801.4 L686.6 801 L687 801 L687 801.9 L687.4 801.9 L687.4 801.7 L687.8 801.7 L687.8 801.9 L688.2 801.9 L688.2 801.9 L688.6 801.9 L688.6 801.7 L689 801.7 L689 801.9 L689.4 801.9 L689.4 801.9 L689.8 801.9 L689.8 801.3 L690.2 801.3 L690.2 801.9 L690.6 801.9 L690.6 801.2 L691 801.2 L691 801.9 L691.4 801.9 L691.4 801.9 L691.8 801.9 L691.8 801.9 L692.2 801.9 L692.2 801.5 L692.6 801.5 L692.6 801.9 L693 801.9 L693 801.9 L693.4 801.9 L693.4 801.9 L693.8 801.9 L693.8 801.2 L694.2 801.2 L694.2 801.5 L694.6 801.5 L694.6 801.9 L695 801.9 L695 801.9 L695.4 801.9 L695.4 801.7 L695.8 801.7 L695.8 801.9 L696.2 801.9 L696.2 801.9 L696.6 801.9 L696.6 801 L697 801 L697 801.7 L697.4 801.7 L697.4 801.5 L697.8 801.5 L697.8 801.9 L698.2 801.9 L698.2 801.9 L698.6 801.9 L698.6 801.3 L699 801.3 L699 801.4 L699.4 801.4 L699.4 801.6 L699.8 801.6 L699.8 801.3 L700.2 801.3 L700.2 801.2 L700.6 801.2 L700.6 801.4 L701 801.4 L701 801.9 L701.4 801.9 L701 801.9 Z" fill="#8c2c24"/>
<path d="M407 842.7 L407 842.7 L407.4 842.7 L407.4 842.7 L407.8 842.7 L407.8 842.5 L408.2 842.5 L408.2 842.7 L408.6 842.7 L408.6 842.7 L409 842.7 L409 842.6 L409.4 842.6 L409.4 842.7 L409.8 842.7 L409.8 842.5 L410.2 842.5 L410.2 842.6 L410.6 842.6 L410.6 842.7 L411 842.7 L411 842.7 L411.4 842.7 L411.4 842.7 L411.8 842.7 L411.8 842.4 L412.2 842.4 L412.2 842.4 L412.6 842.4 L412.6 842.7 L413 842.7 L413 842.6 L413.4 842.6 L413.4 842.7 L413.8 842.7 L413.8 842.5 L414.2 842.5 L414.2 842.7 L414.6 842.7 L414.6 842.5 L415 842.5 L415 842.7 L415.4 842.7 L415.4 842.5 L415.8 842.5 L415.8 842.6 L416.2 842.6 L416.2 842.7 L416.6 842.7 L416.6 842.6 L417 842.6 L417 842.7 L417.4 842.7 L417.4 842.7 L417.8 842.7 L417.8 842.5 L418.2 842.5 L418.2 842.7 L418.6 842.7 L418.6 842.7 L419 842.7 L419 842.7 L419.4 842.7 L419.4 842.4 L419.8 842.4 L419.8 842.6 L420.2 842.6 L420.2 842.7 L420.6 842.7 L420.6 842.6 L421 842.6 L421 842.5 L421.4 842.5 L421.4 842.7 L421.8 842.7 L421.8 842.7 L422.2 842.7 L422.2 842.7 L422.6 842.7 L422.6 842.5 L423 842.5 L423 842.7 L423.4 842.7 L423.4 842.7 L423.8 842.7 L423.8 842.4 L424.2 842.4 L424.2 842.7 L424.6 842.7 L424.6 842.5 L425 842.5 L425 842.5 L425.4 842.5 L425.4 842.7 L425.8 842.7 L425.8 842.7 L426.2 842.7 L426.2 842.7 L426.6 842.7 L426.6 842.6 L427 842.6 L427 842.7 L427.4 842.7 L427.4 842.6 L427.8 842.6 L427.8 842.7 L428.2 842.7 L428.2 842.5 L428.6 842.5 L428.6 842.6 L429 842.6 L429 842.4 L429.4 842.4 L429.4 842.6 L429.8 842.6 L429.8 842.7 L430.2 842.7 L430.2 842.7 L430.6 842.7 L430.6 842.7 L431 842.7 L431 842.7 L431.4 842.7 L431.4 842.6 L431.8 842.6 L431.8 842.4 L432.2 842.4 L432.2 842.7 L432.6 842.7 L432.6 842.6 L433 842.6 L433 842.6 L433.4 842.6 L433.4 842.5 L433.8 842.5 L433.8 842.7 L434.2 842.7 L434.2 842.6 L434.6 842.6 L434.6 842.7 L435 842.7 L435 842.7 L435.4 842.7 L435.4 842.7 L435.8 842.7 L435.8 842.7 L436.2 842.7 L436.2 842.7 L436.6 842.7 L436.6 842.7 L437 842.7 L437 842.4 L437.4 842.4 L437.4 842.7 L437.8 842.7 L437.8 842.7 L438.2 842.7 L438.2 842.7 L438.6 842.7 L438.6 842.6 L439 842.6 L439 842.5 L439.4 842.5 L439.4 842.7 L439.8 842.7 L439.8 842.7 L440.2 842.7 L440.2 842.7 L440.6 842.7 L440.6 842.7 L441 842.7 L441 842.6 L441.4 842.6 L441.4 842.4 L441.8 842.4 L441.8 842.7 L442.2 842.7 L442.2 842.6 L442.6 842.6 L442.6 842.6 L443 842.6 L443 842.4 L443.4 842.4 L443.4 842.7 L443.8 842.7 L443.8 842.6 L444.2 842.6 L444.2 842.7 L444.6 842.7 L444.6 842.6 L445 842.6 L445 842.7 L445.4 842.7 L445.4 842.7 L445.8 842.7 L445.8 842.7 L446.2 842.7 L446.2 842.7 L446.6 842.7 L446.6 842.5 L447 842.5 L447 842.5 L447.4 842.5 L447.4 842.7 L447.8 842.7 L447.8 842.7 L448.2 842.7 L448.2 842.7 L448.6 842.7 L448.6 842.6 L449 842.6 L449 842.5 L449.4 842.5 L449.4 842.7 L449.8 842.7 L449.8 842.7 L450.2 842.7 L450.2 842.6 L450.6 842.6 L450.6 842.7 L451 842.7 L451 842.7 L451.4 842.7 L451.4 842.7 L451.8 842.7 L451.8 842.7 L452.2 842.7 L452.2 842.7 L452.6 842.7 L452.6 842.7 L453 842.7 L453 842.5 L453.4 842.5 L453.4 842.7 L453.8 842.7 L453.8 842.6 L454.2 842.6 L454.2 842.5 L454.6 842.5 L454.6 842.7 L455 842.7 L455 842.4 L455.4 842.4 L455.4 842.7 L455.8 842.7 L455.8 842.7 L456.2 842.7 L456.2 842.6 L456.6 842.6 L456.6 842.6 L457 842.6 L457 842.5 L457.4 842.5 L457.4 842.7 L457.8 842.7 L457.8 842.7 L458.2 842.7 L458.2 842.5 L458.6 842.5 L458.6 842.7 L459 842.7 L459 842.5 L459.4 842.5 L459.4 842.7 L459.8 842.7 L459.8 842.7 L460.2 842.7 L460.2 842.7 L460.6 842.7 L460.6 842.6 L461 842.6 L461 842.7 L461.4 842.7 L461.4 842.5 L461.8 842.5 L461.8 842.7 L462.2 842.7 L462.2 842.6 L462.6 842.6 L462.6 842.7 L463 842.7 L463 842.7 L463.4 842.7 L463.4 842.7 L463.8 842.7 L463.8 842.4 L464.2 842.4 L464.2 842.7 L464.6 842.7 L464.6 842.5 L465 842.5 L465 842.7 L465.4 842.7 L465.4 842.7 L465.8 842.7 L465.8 842.5 L466.2 842.5 L466.2 842.7 L466.6 842.7 L466.6 842.7 L467 842.7 L467 842.7 L467.4 842.7 L467.4 842.7 L467.8 842.7 L467.8 842.7 L468.2 842.7 L468.2 842.4 L468.6 842.4 L468.6 842.7 L469 842.7 L469 842.6 L469.4 842.6 L469.4 842.6 L469.8 842.6 L469.8 842.7 L470.2 842.7 L470.2 842.6 L470.6 842.6 L470.6 842.4 L471 842.4 L471 842.6 L471.4 842.6 L471.4 842.7 L471.8 842.7 L471.8 842.7 L472.2 842.7 L472.2 842.4 L472.6 842.4 L472.6 842.7 L473 842.7 L473 842.7 L473.4 842.7 L473.4 842.7 L473.8 842.7 L473.8 842.6 L474.2 842.6 L474.2 842.7 L474.6 842.7 L474.6 842.7 L475 842.7 L475 842.6 L475.4 842.6 L475.4 838.1 L475.8 838.1 L475.8 833.4 L476.2 833.4 L476.2 827.2 L476.6 827.2 L476.6 827.2 L477 827.2 L477 833.4 L477.4 833.4 L477.4 832.4 L477.8 832.4 L477.8 833.8 L478.2 833.8 L478.2 835.6 L478.6 835.6 L478.6 833.8 L479 833.8 L479 832 L479.4 832 L479.4 833.8 L479.8 833.8 L479.8 835.6 L480.2 835.6 L480.2 834.7 L480.6 834.7 L480.6 837.9 L481 837.9 L481 840.1 L481.4 840.1 L481.4 842.2 L481.8 842.2 L481.8 842.6 L482.2 842.6 L482.2 841.1 L482.6 841.1 L482.6 839.5 L483 839.5 L483 838.6 L483.4 838.6 L483.4 837.8 L483.8 837.8 L483.8 837 L484.2 837 L484.2 836.2 L484.6 836.2 L484.6 837 L485 837 L485 837.8 L485.4 837.8 L485.4 838.6 L485.8 838.6 L485.8 839.4 L486.2 839.4 L486.2 841.1 L486.6 841.1 L486.6 842.6 L487 842.6 L487 842.7 L487.4 842.7 L487.4 842.6 L487.8 842.6 L487.8 842.5 L488.2 842.5 L488.2 842.5 L488.6 842.5 L488.6 842.2 L489 842.2 L489 841.6 L489.4 841.6 L489.4 840.5 L489.8 840.5 L489.8 841.1 L490.2 841.1 L490.2 841.9 L490.6 841.9 L490.6 842.5 L491 842.5 L491 842.4 L491.4 842.4 L491.4 841 L491.8 841 L491.8 839.7 L492.2 839.7 L492.2 838.6 L492.6 838.6 L492.6 837.5 L493 837.5 L493 834.9 L493.4 834.9 L493.4 829.9 L493.8 829.9 L493.8 825.3 L494.2 825.3 L494.2 823 L494.6 823 L494.6 827.6 L495 827.6 L495 832.2 L495.4 832.2 L495.4 836.7 L495.8 836.7 L495.8 839.7 L496.2 839.7 L496.2 839 L496.6 839 L496.6 836.8 L497 836.8 L497 835.7 L497.4 835.7 L497.4 837.9 L497.8 837.9 L497.8 839.9 L498.2 839.9 L498.2 841.8 L498.6 841.8 L498.6 841.4 L499 841.4 L499 838.8 L499.4 838.8 L499.4 836 L499.8 836 L499.8 833 L500.2 833 L500.2 834.5 L500.6 834.5 L500.6 837.5 L501 837.5 L501 835.1 L501.4 835.1 L501.4 830.8 L501.8 830.8 L501.8 826.5 L502.2 826.5 L502.2 828.6 L502.6 828.6 L502.6 833 L503 833 L503 834.7 L503.4 834.7 L503.4 837.9 L503.8 837.9 L503.8 840.2 L504.2 840.2 L504.2 839.5 L504.6 839.5 L504.6 838.7 L505 838.7 L505 837.8 L505.4 837.8 L505.4 837.4 L505.8 837.4 L505.8 838.3 L506.2 838.3 L506.2 839.1 L506.6 839.1 L506.6 839.9 L507 839.9 L507 838 L507.4 838 L507.4 834.9 L507.8 834.9 L507.8 838 L508.2 838 L508.2 839.2 L508.6 839.2 L508.6 838.2 L509 838.2 L509 838.9 L509.4 838.9 L509.4 835.6 L509.8 835.6 L509.8 833.6 L510.2 833.6 L510.2 837.6 L510.6 837.6 L510.6 839.2 L511 839.2 L511 840.9 L511.4 840.9 L511.4 841.9 L511.8 841.9 L511.8 842.7 L512.2 842.7 L512.2 842.7 L512.6 842.7 L512.6 842.7 L513 842.7 L513 842.6 L513.4 842.6 L513.4 842.7 L513.8 842.7 L513.8 842.5 L514.2 842.5 L514.2 842.7 L514.6 842.7 L514.6 842.4 L515 842.4 L515 842.7 L515.4 842.7 L515.4 842.7 L515.8 842.7 L515.8 842.7 L516.2 842.7 L516.2 842.7 L516.6 842.7 L516.6 842.5 L517 842.5 L517 842.7 L517.4 842.7 L517.4 842.7 L517.8 842.7 L517.8 842.7 L518.2 842.7 L518.2 842.7 L518.6 842.7 L518.6 842.7 L519 842.7 L519 842.7 L519.4 842.7 L519.4 842.7 L519.8 842.7 L519.8 842.7 L520.2 842.7 L520.2 842.7 L520.6 842.7 L520.6 842.6 L521 842.6 L521 842.4 L521.4 842.4 L521.4 842.1 L521.8 842.1 L521.8 840.8 L522.2 840.8 L522.2 838.8 L522.6 838.8 L522.6 838.8 L523 838.8 L523 840.7 L523.4 840.7 L523.4 842 L523.8 842 L523.8 842.7 L524.2 842.7 L524.2 842.7 L524.6 842.7 L524.6 842.7 L525 842.7 L525 842.7 L525.4 842.7 L525.4 842.5 L525.8 842.5 L525.8 842.7 L526.2 842.7 L526.2 842.5 L526.6 842.5 L526.6 842.5 L527 842.5 L527 842.7 L527.4 842.7 L527.4 842.6 L527.8 842.6 L527.8 842.5 L528.2 842.5 L528.2 842.7 L528.6 842.7 L528.6 842.7 L529 842.7 L529 842.7 L529.4 842.7 L529.4 842.7 L529.8 842.7 L529.8 842.5 L530.2 842.5 L530.2 842.5 L530.6 842.5 L530.6 842.7 L531 842.7 L531 842.5 L531.4 842.5 L531.4 842.7 L531.8 842.7 L531.8 842.7 L532.2 842.7 L532.2 842.5 L532.6 842.5 L532.6 842.6 L533 842.6 L533 842.4 L533.4 842.4 L533.4 842.4 L533.8 842.4 L533.8 842.7 L534.2 842.7 L534.2 842.6 L534.6 842.6 L534.6 842.7 L535 842.7 L535 842.7 L535.4 842.7 L535.4 842.6 L535.8 842.6 L535.8 842.4 L536.2 842.4 L536.2 842.5 L536.6 842.5 L536.6 842.5 L537 842.5 L537 842.7 L537.4 842.7 L537.4 842.5 L537.8 842.5 L537.8 842.7 L538.2 842.7 L538.2 842.7 L538.6 842.7 L538.6 842.7 L539 842.7 L539 842.4 L539.4 842.4 L539.4 842.7 L539.8 842.7 L539.8 842.6 L540.2 842.6 L540.2 842.6 L540.6 842.6 L540.6 842.6 L541 842.6 L541 842.4 L541.4 842.4 L541.4 842.5 L541.8 842.5 L541.8 842.7 L542.2 842.7 L542.2 842.4 L542.6 842.4 L542.6 842.7 L543 842.7 L543 842.7 L543.4 842.7 L543.4 842.6 L543.8 842.6 L543.8 842.4 L544.2 842.4 L544.2 842.7 L544.6 842.7 L544.6 842.6 L545 842.6 L545 842.7 L545.4 842.7 L545.4 842.4 L545.8 842.4 L545.8 842.4 L546.2 842.4 L546.2 842.6 L546.6 842.6 L546.6 842.7 L547 842.7 L547 842.6 L547.4 842.6 L547.4 842.7 L547.8 842.7 L547.8 842.7 L548.2 842.7 L548.2 842.7 L548.6 842.7 L548.6 842.7 L549 842.7 L549 842.7 L549.4 842.7 L549.4 842.7 L549.8 842.7 L549.8 842.7 L550.2 842.7 L550.2 842.7 L550.6 842.7 L550.6 842.5 L551 842.5 L551 842.5 L551.4 842.5 L551.4 842.7 L551.8 842.7 L551.8 842.7 L552.2 842.7 L552.2 842.7 L552.6 842.7 L552.6 842.6 L553 842.6 L553 842.6 L553.4 842.6 L553.4 842.7 L553.8 842.7 L553.8 842.7 L554.2 842.7 L554.2 842.5 L554.6 842.5 L554.6 842.5 L555 842.5 L555 842.6 L555.4 842.6 L555.4 842.6 L555.8 842.6 L555.8 842.7 L556.2 842.7 L556.2 842.6 L556.6 842.6 L556.6 842.7 L557 842.7 L557 842.7 L557.4 842.7 L557.4 842.7 L557.8 842.7 L557.8 842.7 L558.2 842.7 L558.2 842.7 L558.6 842.7 L558.6 842.6 L559 842.6 L559 842.7 L559.4 842.7 L559.4 842.7 L559.8 842.7 L559.8 842.7 L560.2 842.7 L560.2 842.6 L560.6 842.6 L560.6 842.7 L561 842.7 L561 842.6 L561.4 842.6 L561.4 842.6 L561.8 842.6 L561.8 842.7 L562.2 842.7 L562.2 842.5 L562.6 842.5 L562.6 842.7 L563 842.7 L563 842.7 L563.4 842.7 L563.4 842.6 L563.8 842.6 L563.8 842.6 L564.2 842.6 L564.2 842.4 L564.6 842.4 L564.6 842.7 L565 842.7 L565 842.7 L565.4 842.7 L565.4 842.7 L565.8 842.7 L565.8 842.7 L566.2 842.7 L566.2 842.7 L566.6 842.7 L566.6 842.5 L567 842.5 L567 842.6 L567.4 842.6 L567.4 842.7 L567.8 842.7 L567.8 842.7 L568.2 842.7 L568.2 842.7 L568.6 842.7 L568.6 842.7 L569 842.7 L569 842.7 L569.4 842.7 L569.4 842.5 L569.8 842.5 L569.8 842.7 L570.2 842.7 L570.2 842.7 L570.6 842.7 L570.6 842.7 L571 842.7 L571 842.7 L571.4 842.7 L571.4 842.7 L571.8 842.7 L571.8 842.5 L572.2 842.5 L572.2 842.5 L572.6 842.5 L572.6 842.4 L573 842.4 L573 842.7 L573.4 842.7 L573.4 842.7 L573.8 842.7 L573.8 842.5 L574.2 842.5 L574.2 842.7 L574.6 842.7 L574.6 842.7 L575 842.7 L575 842.7 L575.4 842.7 L575.4 842.7 L575.8 842.7 L575.8 842.6 L576.2 842.6 L576.2 842.7 L576.6 842.7 L576.6 842.6 L577 842.6 L577 842.4 L577.4 842.4 L577.4 842.7 L577.8 842.7 L577.8 842.7 L578.2 842.7 L578.2 842.6 L578.6 842.6 L578.6 842.4 L579 842.4 L579 842.7 L579.4 842.7 L579.4 842.7 L579.8 842.7 L579.8 842.5 L580.2 842.5 L580.2 842.6 L580.6 842.6 L580.6 842.7 L581 842.7 L581 842.7 L581.4 842.7 L581.4 842.7 L581.8 842.7 L581.8 842.6 L582.2 842.6 L582.2 842.7 L582.6 842.7 L582.6 842.5 L583 842.5 L583 842.7 L583.4 842.7 L583.4 842.7 L583.8 842.7 L583.8 842.4 L584.2 842.4 L584.2 842.5 L584.6 842.5 L584.6 842.6 L585 842.6 L585 842.7 L585.4 842.7 L585.4 842.4 L585.8 842.4 L585.8 842.6 L586.2 842.6 L586.2 842.6 L586.6 842.6 L586.6 842.7 L587 842.7 L587 842.7 L587.4 842.7 L587.4 842.6 L587.8 842.6 L587.8 842.4 L588.2 842.4 L588.2 842.7 L588.6 842.7 L588.6 842.6 L589 842.6 L589 842.7 L589.4 842.7 L589.4 842.7 L589.8 842.7 L589.8 842.7 L590.2 842.7 L590.2 842.7 L590.6 842.7 L590.6 842.7 L591 842.7 L591 842.6 L591.4 842.6 L591.4 842.7 L591.8 842.7 L591.8 842.7 L592.2 842.7 L592.2 842.5 L592.6 842.5 L592.6 842.6 L593 842.6 L593 842.6 L593.4 842.6 L593.4 842.6 L593.8 842.6 L593.8 842.4 L594.2 842.4 L594.2 842.4 L594.6 842.4 L594.6 842.6 L595 842.6 L595 842.7 L595.4 842.7 L595.4 842.7 L595.8 842.7 L595.8 842.7 L596.2 842.7 L596.2 842.6 L596.6 842.6 L596.6 842.7 L597 842.7 L597 842.6 L597.4 842.6 L597.4 842.7 L597.8 842.7 L597.8 842.6 L598.2 842.6 L598.2 842.7 L598.6 842.7 L598.6 842.7 L599 842.7 L599 842.7 L599.4 842.7 L599.4 842.4 L599.8 842.4 L599.8 842.5 L600.2 842.5 L600.2 842.7 L600.6 842.7 L600.6 842.6 L601 842.6 L601 842.7 L601.4 842.7 L601.4 842.7 L601.8 842.7 L601.8 842.5 L602.2 842.5 L602.2 842.6 L602.6 842.6 L602.6 842.5 L603 842.5 L603 842.7 L603.4 842.7 L603.4 842.7 L603.8 842.7 L603.8 842.7 L604.2 842.7 L604.2 842.6 L604.6 842.6 L604.6 842.4 L605 842.4 L605 842.7 L605.4 842.7 L605.4 842.6 L605.8 842.6 L605.8 842.6 L606.2 842.6 L606.2 842.7 L606.6 842.7 L606.6 842.5 L607 842.5 L607 842.7 L607.4 842.7 L607.4 842.7 L607.8 842.7 L607.8 842.7 L608.2 842.7 L608.2 842.7 L608.6 842.7 L608.6 842.6 L609 842.6 L609 842.5 L609.4 842.5 L609.4 842.6 L609.8 842.6 L609.8 842.7 L610.2 842.7 L610.2 842.7 L610.6 842.7 L610.6 842.5 L611 842.5 L611 842.4 L611.4 842.4 L611.4 842.7 L611.8 842.7 L611.8 842.7 L612.2 842.7 L612.2 842.7 L612.6 842.7 L612.6 842.6 L613 842.6 L613 842.7 L613.4 842.7 L613.4 842.6 L613.8 842.6 L613.8 842.5 L614.2 842.5 L614.2 842.7 L614.6 842.7 L614.6 842.7 L615 842.7 L615 842.7 L615.4 842.7 L615.4 842.7 L615.8 842.7 L615.8 842.4 L616.2 842.4 L616.2 842.5 L616.6 842.5 L616.6 842.5 L617 842.5 L617 842.6 L617.4 842.6 L617.4 842.7 L617.8 842.7 L617.8 842.7 L618.2 842.7 L618.2 842.7 L618.6 842.7 L618.6 842.6 L619 842.6 L619 842.7 L619.4 842.7 L619.4 842.7 L619.8 842.7 L619.8 842.5 L620.2 842.5 L620.2 842.7 L620.6 842.7 L620.6 842.7 L621 842.7 L621 842.6 L621.4 842.6 L621.4 842.7 L621.8 842.7 L621.8 842.7 L622.2 842.7 L622.2 842.7 L622.6 842.7 L622.6 842.6 L623 842.6 L623 842.6 L623.4 842.6 L623.4 842.7 L623.8 842.7 L623.8 842.7 L624.2 842.7 L624.2 842.7 L624.6 842.7 L624.6 842.4 L625 842.4 L625 842.6 L625.4 842.6 L625.4 842.7 L625.8 842.7 L625.8 842.7 L626.2 842.7 L626.2 842.5 L626.6 842.5 L626.6 842.7 L627 842.7 L627 842.6 L627.4 842.6 L627.4 842.6 L627.8 842.6 L627.8 842.5 L628.2 842.5 L628.2 842.7 L628.6 842.7 L628.6 842.7 L629 842.7 L629 842.5 L629.4 842.5 L629.4 842.6 L629.8 842.6 L629.8 842.5 L630.2 842.5 L630.2 842.7 L630.6 842.7 L630.6 842.7 L631 842.7 L631 842.5 L631.4 842.5 L631.4 842.7 L631.8 842.7 L631.8 842.7 L632.2 842.7 L632.2 842.7 L632.6 842.7 L632.6 842.6 L633 842.6 L633 842.4 L633.4 842.4 L633.4 842.5 L633.8 842.5 L633.8 842.6 L634.2 842.6 L634.2 842.7 L634.6 842.7 L634.6 842.7 L635 842.7 L635 842.6 L635.4 842.6 L635.4 842.7 L635.8 842.7 L635.8 842.7 L636.2 842.7 L636.2 842.7 L636.6 842.7 L636.6 842.5 L637 842.5 L637 842.4 L637.4 842.4 L637.4 842.7 L637.8 842.7 L637.8 842.5 L638.2 842.5 L638.2 842.7 L638.6 842.7 L638.6 842.7 L639 842.7 L639 842.5 L639.4 842.5 L639.4 842.5 L639.8 842.5 L639.8 842.6 L640.2 842.6 L640.2 842.7 L640.6 842.7 L640.6 842.7 L641 842.7 L641 842.6 L641.4 842.6 L641.4 842.7 L641.8 842.7 L641.8 842.7 L642.2 842.7 L642.2 842.7 L642.6 842.7 L642.6 842.7 L643 842.7 L643 842.7 L643.4 842.7 L643.4 842.7 L643.8 842.7 L643.8 842.7 L644.2 842.7 L644.2 842.4 L644.6 842.4 L644.6 842.7 L645 842.7 L645 842.7 L645.4 842.7 L645.4 842.5 L645.8 842.5 L645.8 842.6 L646.2 842.6 L646.2 842.7 L646.6 842.7 L646.6 842.7 L647 842.7 L647 842.6 L647.4 842.6 L647.4 842.5 L647.8 842.5 L647.8 842.7 L648.2 842.7 L648.2 842.5 L648.6 842.5 L648.6 842.7 L649 842.7 L649 842.5 L649.4 842.5 L649.4 842.7 L649.8 842.7 L649.8 842.4 L650.2 842.4 L650.2 842.5 L650.6 842.5 L650.6 842.7 L651 842.7 L651 842.7 L651.4 842.7 L651.4 842.6 L651.8 842.6 L651.8 842.7 L652.2 842.7 L652.2 842.5 L652.6 842.5 L652.6 842.6 L653 842.6 L653 842.5 L653.4 842.5 L653.4 842.6 L653.8 842.6 L653.8 842.7 L654.2 842.7 L654.2 842.7 L654.6 842.7 L654.6 842.6 L655 842.6 L655 842.7 L655.4 842.7 L655.4 842.6 L655.8 842.6 L655.8 842.6 L656.2 842.6 L656.2 842.7 L656.6 842.7 L656.6 842.5 L657 842.5 L657 842.5 L657.4 842.5 L657.4 842.7 L657.8 842.7 L657.8 842.7 L658.2 842.7 L658.2 842.5 L658.6 842.5 L658.6 842.4 L659 842.4 L659 842.4 L659.4 842.4 L659.4 842.7 L659.8 842.7 L659.8 842.7 L660.2 842.7 L660.2 842.7 L660.6 842.7 L660.6 842.4 L661 842.4 L661 842.4 L661.4 842.4 L661.4 842.7 L661.8 842.7 L661.8 842.5 L662.2 842.5 L662.2 842.7 L662.6 842.7 L662.6 842.6 L663 842.6 L663 842.7 L663.4 842.7 L663.4 842.4 L663.8 842.4 L663.8 842.5 L664.2 842.5 L664.2 842.5 L664.6 842.5 L664.6 842.7 L665 842.7 L665 842.6 L665.4 842.6 L665.4 842.7 L665.8 842.7 L665.8 842.7 L666.2 842.7 L666.2 842.7 L666.6 842.7 L666.6 842.7 L667 842.7 L667 842.7 L667.4 842.7 L667.4 842.7 L667.8 842.7 L667.8 842.5 L668.2 842.5 L668.2 842.5 L668.6 842.5 L668.6 842.7 L669 842.7 L669 842.4 L669.4 842.4 L669.4 842.7 L669.8 842.7 L669.8 842.7 L670.2 842.7 L670.2 842.7 L670.6 842.7 L670.6 842.4 L671 842.4 L671 842.7 L671.4 842.7 L671.4 842.5 L671.8 842.5 L671.8 842.4 L672.2 842.4 L672.2 842.7 L672.6 842.7 L672.6 842.5 L673 842.5 L673 842.6 L673.4 842.6 L673.4 842.7 L673.8 842.7 L673.8 842.5 L674.2 842.5 L674.2 842.5 L674.6 842.5 L674.6 842.7 L675 842.7 L675 842.7 L675.4 842.7 L675.4 842.7 L675.8 842.7 L675.8 842.7 L676.2 842.7 L676.2 842.7 L676.6 842.7 L676.6 842.7 L677 842.7 L677 842.5 L677.4 842.5 L677.4 842.7 L677.8 842.7 L677.8 842.6 L678.2 842.6 L678.2 842.7 L678.6 842.7 L678.6 842.7 L679 842.7 L679 842.7 L679.4 842.7 L679.4 842.6 L679.8 842.6 L679.8 842.7 L680.2 842.7 L680.2 842.7 L680.6 842.7 L680.6 842.5 L681 842.5 L681 842.7 L681.4 842.7 L681.4 842.7 L681.8 842.7 L681.8 842.7 L682.2 842.7 L682.2 842.5 L682.6 842.5 L682.6 842.7 L683 842.7 L683 842.7 L683.4 842.7 L683.4 842.6 L683.8 842.6 L683.8 842.5 L684.2 842.5 L684.2 842.7 L684.6 842.7 L684.6 842.5 L685 842.5 L685 842.4 L685.4 842.4 L685.4 842.7 L685.8 842.7 L685.8 842.4 L686.2 842.4 L686.2 842.5 L686.6 842.5 L686.6 842.6 L687 842.6 L687 842.5 L687.4 842.5 L687.4 842.5 L687.8 842.5 L687.8 842.7 L688.2 842.7 L688.2 842.6 L688.6 842.6 L688.6 842.7 L689 842.7 L689 842.7 L689.4 842.7 L689.4 842.7 L689.8 842.7 L689.8 842.7 L690.2 842.7 L690.2 842.6 L690.6 842.6 L690.6 842.7 L691 842.7 L691 842.7 L691.4 842.7 L691.4 842.7 L691.8 842.7 L691.8 842.7 L692.2 842.7 L692.2 842.4 L692.6 842.4 L692.6 842.7 L693 842.7 L693 842.5 L693.4 842.5 L693.4 842.6 L693.8 842.6 L693.8 842.6 L694.2 842.6 L694.2 842.6 L694.6 842.6 L694.6 842.7 L695 842.7 L695 842.7 L695.4 842.7 L695.4 842.7 L695.8 842.7 L695.8 842.7 L696.2 842.7 L696.2 842.5 L696.6 842.5 L696.6 842.5 L697 842.5 L697 842.7 L697.4 842.7 L697.4 842.5 L697.8 842.5 L697.8 842.7 L698.2 842.7 L698.2 842.4 L698.6 842.4 L698.6 842.6 L699 842.6 L699 842.5 L699.4 842.5 L699.4 842.7 L699.8 842.7 L699.8 842.7 L700.2 842.7 L700.2 842.4 L700.6 842.4 L700.6 842.6 L701 842.6 L701 842.7 L701.4 842.7 L701 842.7 Z" fill="#3f9a4c"/>
<path d="M407 868.6 L407 868.5 L407.4 868.5 L407.4 868.4 L407.8 868.4 L407.8 868.5 L408.2 868.5 L408.2 868.6 L408.6 868.6 L408.6 868.5 L409 868.5 L409 868.6 L409.4 868.6 L409.4 868.5 L409.8 868.5 L409.8 868.6 L410.2 868.6 L410.2 868.5 L410.6 868.5 L410.6 868.6 L411 868.6 L411 868.5 L411.4 868.5 L411.4 868.6 L411.8 868.6 L411.8 868.6 L412.2 868.6 L412.2 868.6 L412.6 868.6 L412.6 868.5 L413 868.5 L413 868.5 L413.4 868.5 L413.4 868.6 L413.8 868.6 L413.8 868.6 L414.2 868.6 L414.2 868.6 L414.6 868.6 L414.6 868.6 L415 868.6 L415 868.4 L415.4 868.4 L415.4 868.4 L415.8 868.4 L415.8 868.6 L416.2 868.6 L416.2 868.5 L416.6 868.5 L416.6 868.6 L417 868.6 L417 868.4 L417.4 868.4 L417.4 868.5 L417.8 868.5 L417.8 868.5 L418.2 868.5 L418.2 868.6 L418.6 868.6 L418.6 868.6 L419 868.6 L419 868.5 L419.4 868.5 L419.4 868.6 L419.8 868.6 L419.8 868.4 L420.2 868.4 L420.2 868.5 L420.6 868.5 L420.6 868.6 L421 868.6 L421 868.5 L421.4 868.5 L421.4 868.5 L421.8 868.5 L421.8 868.6 L422.2 868.6 L422.2 868.5 L422.6 868.5 L422.6 868.6 L423 868.6 L423 868.5 L423.4 868.5 L423.4 868.6 L423.8 868.6 L423.8 868.6 L424.2 868.6 L424.2 868.5 L424.6 868.5 L424.6 868.6 L425 868.6 L425 868.5 L425.4 868.5 L425.4 868.5 L425.8 868.5 L425.8 868.6 L426.2 868.6 L426.2 868.6 L426.6 868.6 L426.6 868.6 L427 868.6 L427 868.5 L427.4 868.5 L427.4 868.6 L427.8 868.6 L427.8 868.6 L428.2 868.6 L428.2 868.5 L428.6 868.5 L428.6 868.6 L429 868.6 L429 868.6 L429.4 868.6 L429.4 868.4 L429.8 868.4 L429.8 868.5 L430.2 868.5 L430.2 868.5 L430.6 868.5 L430.6 868.6 L431 868.6 L431 868.6 L431.4 868.6 L431.4 868.4 L431.8 868.4 L431.8 868.4 L432.2 868.4 L432.2 868.6 L432.6 868.6 L432.6 868.5 L433 868.5 L433 868.5 L433.4 868.5 L433.4 868.6 L433.8 868.6 L433.8 868.6 L434.2 868.6 L434.2 868.5 L434.6 868.5 L434.6 868.6 L435 868.6 L435 868.5 L435.4 868.5 L435.4 868.4 L435.8 868.4 L435.8 868.6 L436.2 868.6 L436.2 868.6 L436.6 868.6 L436.6 868.4 L437 868.4 L437 868.6 L437.4 868.6 L437.4 868.6 L437.8 868.6 L437.8 868.6 L438.2 868.6 L438.2 868.5 L438.6 868.5 L438.6 868.6 L439 868.6 L439 868.6 L439.4 868.6 L439.4 868.6 L439.8 868.6 L439.8 868.6 L440.2 868.6 L440.2 868.6 L440.6 868.6 L440.6 868.6 L441 868.6 L441 868.6 L441.4 868.6 L441.4 868.5 L441.8 868.5 L441.8 868.6 L442.2 868.6 L442.2 868.6 L442.6 868.6 L442.6 868.4 L443 868.4 L443 868.5 L443.4 868.5 L443.4 868.6 L443.8 868.6 L443.8 868.6 L444.2 868.6 L444.2 868.6 L444.6 868.6 L444.6 868.5 L445 868.5 L445 868.5 L445.4 868.5 L445.4 868.4 L445.8 868.4 L445.8 868.6 L446.2 868.6 L446.2 868.5 L446.6 868.5 L446.6 868.6 L447 868.6 L447 868.6 L447.4 868.6 L447.4 868.4 L447.8 868.4 L447.8 868.6 L448.2 868.6 L448.2 868.6 L448.6 868.6 L448.6 868.4 L449 868.4 L449 868.6 L449.4 868.6 L449.4 868.6 L449.8 868.6 L449.8 868.6 L450.2 868.6 L450.2 868.6 L450.6 868.6 L450.6 868.6 L451 868.6 L451 868.5 L451.4 868.5 L451.4 868.6 L451.8 868.6 L451.8 868.5 L452.2 868.5 L452.2 868.6 L452.6 868.6 L452.6 868.5 L453 868.5 L453 868.5 L453.4 868.5 L453.4 868.6 L453.8 868.6 L453.8 868.5 L454.2 868.5 L454.2 868.4 L454.6 868.4 L454.6 868.4 L455 868.4 L455 868.6 L455.4 868.6 L455.4 868.6 L455.8 868.6 L455.8 868.6 L456.2 868.6 L456.2 868.5 L456.6 868.5 L456.6 868.6 L457 868.6 L457 868.6 L457.4 868.6 L457.4 868.6 L457.8 868.6 L457.8 868.5 L458.2 868.5 L458.2 868.6 L458.6 868.6 L458.6 868.5 L459 868.5 L459 868.6 L459.4 868.6 L459.4 868.4 L459.8 868.4 L459.8 868.4 L460.2 868.4 L460.2 868.4 L460.6 868.4 L460.6 868.6 L461 868.6 L461 868.6 L461.4 868.6 L461.4 868.6 L461.8 868.6 L461.8 868.6 L462.2 868.6 L462.2 868.5 L462.6 868.5 L462.6 868.4 L463 868.4 L463 868.6 L463.4 868.6 L463.4 868.6 L463.8 868.6 L463.8 868.6 L464.2 868.6 L464.2 868.6 L464.6 868.6 L464.6 868.5 L465 868.5 L465 868.5 L465.4 868.5 L465.4 868.5 L465.8 868.5 L465.8 868.5 L466.2 868.5 L466.2 868.6 L466.6 868.6 L466.6 868.5 L467 868.5 L467 868.6 L467.4 868.6 L467.4 868.6 L467.8 868.6 L467.8 868.6 L468.2 868.6 L468.2 868.5 L468.6 868.5 L468.6 868.6 L469 868.6 L469 868.6 L469.4 868.6 L469.4 868.6 L469.8 868.6 L469.8 868.5 L470.2 868.5 L470.2 868.6 L470.6 868.6 L470.6 868.6 L471 868.6 L471 868.6 L471.4 868.6 L471.4 868.6 L471.8 868.6 L471.8 868.6 L472.2 868.6 L472.2 868.6 L472.6 868.6 L472.6 868.6 L473 868.6 L473 868.6 L473.4 868.6 L473.4 868.5 L473.8 868.5 L473.8 867.9 L474.2 867.9 L474.2 867 L474.6 867 L474.6 865.7 L475 865.7 L475 865.7 L475.4 865.7 L475.4 867 L475.8 867 L475.8 867.9 L476.2 867.9 L476.2 868.6 L476.6 868.6 L476.6 868.6 L477 868.6 L477 868.5 L477.4 868.5 L477.4 868.5 L477.8 868.5 L477.8 866.4 L478.2 866.4 L478.2 864.2 L478.6 864.2 L478.6 861.3 L479 861.3 L479 861.3 L479.4 861.3 L479.4 864.2 L479.8 864.2 L479.8 863.4 L480.2 863.4 L480.2 863.3 L480.6 863.3 L480.6 864.8 L481 864.8 L481 864.2 L481.4 864.2 L481.4 860.7 L481.8 860.7 L481.8 862.4 L482.2 862.4 L482.2 865.1 L482.6 865.1 L482.6 864.1 L483 864.1 L483 865.6 L483.4 865.6 L483.4 867.1 L483.8 867.1 L483.8 866.1 L484.2 866.1 L484.2 866.1 L484.6 866.1 L484.6 867.1 L485 867.1 L485 867.8 L485.4 867.8 L485.4 866.1 L485.8 866.1 L485.8 864.1 L486.2 864.1 L486.2 861.8 L486.6 861.8 L486.6 864.1 L487 864.1 L487 865.7 L487.4 865.7 L487.4 864 L487.8 864 L487.8 864.8 L488.2 864.8 L488.2 866.4 L488.6 866.4 L488.6 866.2 L489 866.2 L489 864.6 L489.4 864.6 L489.4 866.2 L489.8 866.2 L489.8 864.5 L490.2 864.5 L490.2 862.2 L490.6 862.2 L490.6 863.3 L491 863.3 L491 862.1 L491.4 862.1 L491.4 858.4 L491.8 858.4 L491.8 860.3 L492.2 860.3 L492.2 863 L492.6 863 L492.6 861.4 L493 861.4 L493 864.6 L493.4 864.6 L493.4 865.6 L493.8 865.6 L493.8 865.7 L494.2 865.7 L494.2 867.5 L494.6 867.5 L494.6 868.2 L495 868.2 L495 868.5 L495.4 868.5 L495.4 868.6 L495.8 868.6 L495.8 868.6 L496.2 868.6 L496.2 866.7 L496.6 866.7 L496.6 864.2 L497 864.2 L497 860.6 L497.4 860.6 L497.4 860.6 L497.8 860.6 L497.8 857.9 L498.2 857.9 L498.2 851.8 L498.6 851.8 L498.6 854.9 L499 854.9 L499 860.2 L499.4 860.2 L499.4 857.8 L499.8 857.8 L499.8 862.6 L500.2 862.6 L500.2 862.3 L500.6 862.3 L500.6 860.5 L501 860.5 L501 864.1 L501.4 864.1 L501.4 863.4 L501.8 863.4 L501.8 864.6 L502.2 864.6 L502.2 863.7 L502.6 863.7 L502.6 861.4 L503 861.4 L503 861.4 L503.4 861.4 L503.4 856.4 L503.8 856.4 L503.8 850.3 L504.2 850.3 L504.2 856.4 L504.6 856.4 L504.6 859.8 L505 859.8 L505 859.8 L505.4 859.8 L505.4 860.6 L505.8 860.6 L505.8 856.6 L506.2 856.6 L506.2 859.7 L506.6 859.7 L506.6 854.6 L507 854.6 L507 857.1 L507.4 857.1 L507.4 861.6 L507.8 861.6 L507.8 859.6 L508.2 859.6 L508.2 863.6 L508.6 863.6 L508.6 861.4 L509 861.4 L509 861.4 L509.4 861.4 L509.4 860.1 L509.8 860.1 L509.8 855.9 L510.2 855.9 L510.2 860.1 L510.6 860.1 L510.6 862.2 L511 862.2 L511 862.2 L511.4 862.2 L511.4 862.3 L511.8 862.3 L511.8 860.5 L512.2 860.5 L512.2 861 L512.6 861 L512.6 857.2 L513 857.2 L513 861 L513.4 861 L513.4 863 L513.8 863 L513.8 863 L514.2 863 L514.2 863.7 L514.6 863.7 L514.6 861.8 L515 861.8 L515 864.5 L515.4 864.5 L515.4 866.2 L515.8 866.2 L515.8 866.2 L516.2 866.2 L516.2 867.3 L516.6 867.3 L516.6 868 L517 868 L517 868.6 L517.4 868.6 L517.4 868.4 L517.8 868.4 L517.8 868.6 L518.2 868.6 L518.2 868.6 L518.6 868.6 L518.6 868.5 L519 868.5 L519 868.6 L519.4 868.6 L519.4 868.5 L519.8 868.5 L519.8 868.6 L520.2 868.6 L520.2 868.4 L520.6 868.4 L520.6 868.6 L521 868.6 L521 868.5 L521.4 868.5 L521.4 868.6 L521.8 868.6 L521.8 868.5 L522.2 868.5 L522.2 868.6 L522.6 868.6 L522.6 868.6 L523 868.6 L523 868.4 L523.4 868.4 L523.4 868.6 L523.8 868.6 L523.8 868.5 L524.2 868.5 L524.2 868.6 L524.6 868.6 L524.6 868.6 L525 868.6 L525 868.5 L525.4 868.5 L525.4 868.6 L525.8 868.6 L525.8 868.6 L526.2 868.6 L526.2 868.6 L526.6 868.6 L526.6 868.6 L527 868.6 L527 868.5 L527.4 868.5 L527.4 868.6 L527.8 868.6 L527.8 868.4 L528.2 868.4 L528.2 868.6 L528.6 868.6 L528.6 868.6 L529 868.6 L529 868.6 L529.4 868.6 L529.4 868.6 L529.8 868.6 L529.8 868.6 L530.2 868.6 L530.2 868.5 L530.6 868.5 L530.6 868.6 L531 868.6 L531 868.4 L531.4 868.4 L531.4 868.4 L531.8 868.4 L531.8 868.6 L532.2 868.6 L532.2 868.5 L532.6 868.5 L532.6 868.6 L533 868.6 L533 868.5 L533.4 868.5 L533.4 868.6 L533.8 868.6 L533.8 868.6 L534.2 868.6 L534.2 868.4 L534.6 868.4 L534.6 868.6 L535 868.6 L535 868.6 L535.4 868.6 L535.4 868.5 L535.8 868.5 L535.8 868.4 L536.2 868.4 L536.2 868.6 L536.6 868.6 L536.6 868.4 L537 868.4 L537 868.6 L537.4 868.6 L537.4 868.6 L537.8 868.6 L537.8 868.4 L538.2 868.4 L538.2 868.6 L538.6 868.6 L538.6 868.5 L539 868.5 L539 868.6 L539.4 868.6 L539.4 868.6 L539.8 868.6 L539.8 868.6 L540.2 868.6 L540.2 868.6 L540.6 868.6 L540.6 868.4 L541 868.4 L541 868.6 L541.4 868.6 L541.4 868.5 L541.8 868.5 L541.8 868.5 L542.2 868.5 L542.2 868.6 L542.6 868.6 L542.6 868.6 L543 868.6 L543 868.5 L543.4 868.5 L543.4 868.5 L543.8 868.5 L543.8 868.6 L544.2 868.6 L544.2 868.6 L544.6 868.6 L544.6 868.4 L545 868.4 L545 868.6 L545.4 868.6 L545.4 868.6 L545.8 868.6 L545.8 868.6 L546.2 868.6 L546.2 868.5 L546.6 868.5 L546.6 868.6 L547 868.6 L547 868.6 L547.4 868.6 L547.4 868.5 L547.8 868.5 L547.8 868.6 L548.2 868.6 L548.2 868.5 L548.6 868.5 L548.6 868.6 L549 868.6 L549 868.4 L549.4 868.4 L549.4 868.6 L549.8 868.6 L549.8 868.5 L550.2 868.5 L550.2 868.6 L550.6 868.6 L550.6 868.4 L551 868.4 L551 868.6 L551.4 868.6 L551.4 868.6 L551.8 868.6 L551.8 868.5 L552.2 868.5 L552.2 868.6 L552.6 868.6 L552.6 868.6 L553 868.6 L553 868.6 L553.4 868.6 L553.4 868.6 L553.8 868.6 L553.8 868.6 L554.2 868.6 L554.2 868.4 L554.6 868.4 L554.6 868.6 L555 868.6 L555 868.6 L555.4 868.6 L555.4 868.6 L555.8 868.6 L555.8 868.5 L556.2 868.5 L556.2 868.6 L556.6 868.6 L556.6 868.6 L557 868.6 L557 868.5 L557.4 868.5 L557.4 868.5 L557.8 868.5 L557.8 868.5 L558.2 868.5 L558.2 868.5 L558.6 868.5 L558.6 868.6 L559 868.6 L559 868.6 L559.4 868.6 L559.4 868.6 L559.8 868.6 L559.8 868.6 L560.2 868.6 L560.2 868.4 L560.6 868.4 L560.6 868.6 L561 868.6 L561 868.6 L561.4 868.6 L561.4 868.6 L561.8 868.6 L561.8 868.6 L562.2 868.6 L562.2 868.6 L562.6 868.6 L562.6 868.6 L563 868.6 L563 868.6 L563.4 868.6 L563.4 868.6 L563.8 868.6 L563.8 868.5 L564.2 868.5 L564.2 868.5 L564.6 868.5 L564.6 868.6 L565 868.6 L565 868.6 L565.4 868.6 L565.4 868.5 L565.8 868.5 L565.8 868.4 L566.2 868.4 L566.2 868.6 L566.6 868.6 L566.6 868.6 L567 868.6 L567 868.4 L567.4 868.4 L567.4 868.4 L567.8 868.4 L567.8 868.6 L568.2 868.6 L568.2 868.6 L568.6 868.6 L568.6 868.6 L569 868.6 L569 868.5 L569.4 868.5 L569.4 868.5 L569.8 868.5 L569.8 868.6 L570.2 868.6 L570.2 868.6 L570.6 868.6 L570.6 868.5 L571 868.5 L571 868.6 L571.4 868.6 L571.4 868.6 L571.8 868.6 L571.8 868.6 L572.2 868.6 L572.2 868.6 L572.6 868.6 L572.6 868.6 L573 868.6 L573 868.6 L573.4 868.6 L573.4 868.6 L573.8 868.6 L573.8 868.6 L574.2 868.6 L574.2 868.5 L574.6 868.5 L574.6 868.5 L575 868.5 L575 868.6 L575.4 868.6 L575.4 868.6 L575.8 868.6 L575.8 868.6 L576.2 868.6 L576.2 868.6 L576.6 868.6 L576.6 868.6 L577 868.6 L577 868.5 L577.4 868.5 L577.4 868.5 L577.8 868.5 L577.8 868.4 L578.2 868.4 L578.2 868.5 L578.6 868.5 L578.6 868.5 L579 868.5 L579 868.5 L579.4 868.5 L579.4 868.6 L579.8 868.6 L579.8 868.5 L580.2 868.5 L580.2 868.6 L580.6 868.6 L580.6 868.4 L581 868.4 L581 868.5 L581.4 868.5 L581.4 868.6 L581.8 868.6 L581.8 868.5 L582.2 868.5 L582.2 868.4 L582.6 868.4 L582.6 868.6 L583 868.6 L583 868.5 L583.4 868.5 L583.4 868.6 L583.8 868.6 L583.8 868.6 L584.2 868.6 L584.2 868.6 L584.6 868.6 L584.6 868.6 L585 868.6 L585 868.5 L585.4 868.5 L585.4 868.6 L585.8 868.6 L585.8 868.4 L586.2 868.4 L586.2 868.6 L586.6 868.6 L586.6 868.5 L587 868.5 L587 868.6 L587.4 868.6 L587.4 868.6 L587.8 868.6 L587.8 868.6 L588.2 868.6 L588.2 868.5 L588.6 868.5 L588.6 868.6 L589 868.6 L589 868.5 L589.4 868.5 L589.4 868.5 L589.8 868.5 L589.8 868.6 L590.2 868.6 L590.2 868.6 L590.6 868.6 L590.6 868.6 L591 868.6 L591 868.5 L591.4 868.5 L591.4 868.5 L591.8 868.5 L591.8 868.6 L592.2 868.6 L592.2 868.6 L592.6 868.6 L592.6 868.4 L593 868.4 L593 868.5 L593.4 868.5 L593.4 868.6 L593.8 868.6 L593.8 868.6 L594.2 868.6 L594.2 868.6 L594.6 868.6 L594.6 868.6 L595 868.6 L595 868.6 L595.4 868.6 L595.4 868.4 L595.8 868.4 L595.8 868.6 L596.2 868.6 L596.2 868.5 L596.6 868.5 L596.6 868.5 L597 868.5 L597 868.6 L597.4 868.6 L597.4 868.5 L597.8 868.5 L597.8 868.6 L598.2 868.6 L598.2 868.6 L598.6 868.6 L598.6 868.6 L599 868.6 L599 868.5 L599.4 868.5 L599.4 868.6 L599.8 868.6 L599.8 868.6 L600.2 868.6 L600.2 868.6 L600.6 868.6 L600.6 868.5 L601 868.5 L601 868.5 L601.4 868.5 L601.4 868.4 L601.8 868.4 L601.8 868.5 L602.2 868.5 L602.2 868.5 L602.6 868.5 L602.6 868.6 L603 868.6 L603 868.6 L603.4 868.6 L603.4 868.6 L603.8 868.6 L603.8 868.6 L604.2 868.6 L604.2 868.6 L604.6 868.6 L604.6 868.5 L605 868.5 L605 868.6 L605.4 868.6 L605.4 868.6 L605.8 868.6 L605.8 868.6 L606.2 868.6 L606.2 868.6 L606.6 868.6 L606.6 868.6 L607 868.6 L607 868.6 L607.4 868.6 L607.4 868.6 L607.8 868.6 L607.8 868.6 L608.2 868.6 L608.2 868.6 L608.6 868.6 L608.6 868.6 L609 868.6 L609 868.6 L609.4 868.6 L609.4 868.6 L609.8 868.6 L609.8 868.6 L610.2 868.6 L610.2 868.6 L610.6 868.6 L610.6 868.6 L611 868.6 L611 868.4 L611.4 868.4 L611.4 868.6 L611.8 868.6 L611.8 868.4 L612.2 868.4 L612.2 868.6 L612.6 868.6 L612.6 868.6 L613 868.6 L613 868.6 L613.4 868.6 L613.4 868.5 L613.8 868.5 L613.8 868.4 L614.2 868.4 L614.2 868.5 L614.6 868.5 L614.6 868.6 L615 868.6 L615 868.6 L615.4 868.6 L615.4 868.6 L615.8 868.6 L615.8 868.6 L616.2 868.6 L616.2 868.6 L616.6 868.6 L616.6 868.4 L617 868.4 L617 868.5 L617.4 868.5 L617.4 868.4 L617.8 868.4 L617.8 868.4 L618.2 868.4 L618.2 868.5 L618.6 868.5 L618.6 868.6 L619 868.6 L619 868.6 L619.4 868.6 L619.4 868.6 L619.8 868.6 L619.8 868.6 L620.2 868.6 L620.2 868.5 L620.6 868.5 L620.6 868.6 L621 868.6 L621 868.6 L621.4 868.6 L621.4 868.5 L621.8 868.5 L621.8 868.6 L622.2 868.6 L622.2 868.4 L622.6 868.4 L622.6 868.5 L623 868.5 L623 868.5 L623.4 868.5 L623.4 868.5 L623.8 868.5 L623.8 868.6 L624.2 868.6 L624.2 868.6 L624.6 868.6 L624.6 868.6 L625 868.6 L625 868.6 L625.4 868.6 L625.4 868.6 L625.8 868.6 L625.8 868.5 L626.2 868.5 L626.2 868.6 L626.6 868.6 L626.6 868.6 L627 868.6 L627 868.6 L627.4 868.6 L627.4 868.6 L627.8 868.6 L627.8 868.6 L628.2 868.6 L628.2 868.4 L628.6 868.4 L628.6 868.5 L629 868.5 L629 868.5 L629.4 868.5 L629.4 868.6 L629.8 868.6 L629.8 868.5 L630.2 868.5 L630.2 868.6 L630.6 868.6 L630.6 868.6 L631 868.6 L631 868.5 L631.4 868.5 L631.4 868.6 L631.8 868.6 L631.8 868.5 L632.2 868.5 L632.2 868.6 L632.6 868.6 L632.6 868.4 L633 868.4 L633 868.6 L633.4 868.6 L633.4 868.5 L633.8 868.5 L633.8 868.6 L634.2 868.6 L634.2 868.5 L634.6 868.5 L634.6 868.6 L635 868.6 L635 868.5 L635.4 868.5 L635.4 868.6 L635.8 868.6 L635.8 868.6 L636.2 868.6 L636.2 868.6 L636.6 868.6 L636.6 868.4 L637 868.4 L637 868.5 L637.4 868.5 L637.4 868.4 L637.8 868.4 L637.8 868.6 L638.2 868.6 L638.2 868.5 L638.6 868.5 L638.6 868.6 L639 868.6 L639 868.6 L639.4 868.6 L639.4 868.5 L639.8 868.5 L639.8 868.6 L640.2 868.6 L640.2 868.6 L640.6 868.6 L640.6 868.4 L641 868.4 L641 868.6 L641.4 868.6 L641.4 868.5 L641.8 868.5 L641.8 868.6 L642.2 868.6 L642.2 868.6 L642.6 868.6 L642.6 868.6 L643 868.6 L643 868.6 L643.4 868.6 L643.4 868.6 L643.8 868.6 L643.8 868.6 L644.2 868.6 L644.2 868.6 L644.6 868.6 L644.6 868.5 L645 868.5 L645 868.4 L645.4 868.4 L645.4 868.6 L645.8 868.6 L645.8 868.5 L646.2 868.5 L646.2 868.6 L646.6 868.6 L646.6 868.5 L647 868.5 L647 868.6 L647.4 868.6 L647.4 868.6 L647.8 868.6 L647.8 868.4 L648.2 868.4 L648.2 868.6 L648.6 868.6 L648.6 868.6 L649 868.6 L649 868.6 L649.4 868.6 L649.4 868.6 L649.8 868.6 L649.8 868.6 L650.2 868.6 L650.2 868.5 L650.6 868.5 L650.6 868.5 L651 868.5 L651 868.6 L651.4 868.6 L651.4 868.6 L651.8 868.6 L651.8 868.6 L652.2 868.6 L652.2 868.6 L652.6 868.6 L652.6 868.6 L653 868.6 L653 868.4 L653.4 868.4 L653.4 868.6 L653.8 868.6 L653.8 868.6 L654.2 868.6 L654.2 868.5 L654.6 868.5 L654.6 868.6 L655 868.6 L655 868.4 L655.4 868.4 L655.4 868.6 L655.8 868.6 L655.8 868.6 L656.2 868.6 L656.2 868.5 L656.6 868.5 L656.6 868.6 L657 868.6 L657 868.6 L657.4 868.6 L657.4 868.6 L657.8 868.6 L657.8 868.6 L658.2 868.6 L658.2 868.6 L658.6 868.6 L658.6 868.5 L659 868.5 L659 868.6 L659.4 868.6 L659.4 868.6 L659.8 868.6 L659.8 868.6 L660.2 868.6 L660.2 868.6 L660.6 868.6 L660.6 868.6 L661 868.6 L661 868.6 L661.4 868.6 L661.4 868.5 L661.8 868.5 L661.8 868.6 L662.2 868.6 L662.2 868.6 L662.6 868.6 L662.6 868.6 L663 868.6 L663 868.4 L663.4 868.4 L663.4 868.6 L663.8 868.6 L663.8 868.4 L664.2 868.4 L664.2 868.6 L664.6 868.6 L664.6 868.4 L665 868.4 L665 868.4 L665.4 868.4 L665.4 868.6 L665.8 868.6 L665.8 868.6 L666.2 868.6 L666.2 868.6 L666.6 868.6 L666.6 868.4 L667 868.4 L667 868.6 L667.4 868.6 L667.4 868.6 L667.8 868.6 L667.8 868.6 L668.2 868.6 L668.2 868.6 L668.6 868.6 L668.6 868.6 L669 868.6 L669 868.4 L669.4 868.4 L669.4 868.4 L669.8 868.4 L669.8 868.6 L670.2 868.6 L670.2 868.6 L670.6 868.6 L670.6 868.6 L671 868.6 L671 868.6 L671.4 868.6 L671.4 868.6 L671.8 868.6 L671.8 868.6 L672.2 868.6 L672.2 868.5 L672.6 868.5 L672.6 868.6 L673 868.6 L673 868.5 L673.4 868.5 L673.4 868.4 L673.8 868.4 L673.8 868.4 L674.2 868.4 L674.2 868.6 L674.6 868.6 L674.6 868.6 L675 868.6 L675 868.6 L675.4 868.6 L675.4 868.6 L675.8 868.6 L675.8 868.6 L676.2 868.6 L676.2 868.6 L676.6 868.6 L676.6 868.6 L677 868.6 L677 868.6 L677.4 868.6 L677.4 868.6 L677.8 868.6 L677.8 868.4 L678.2 868.4 L678.2 868.6 L678.6 868.6 L678.6 868.4 L679 868.4 L679 868.6 L679.4 868.6 L679.4 868.6 L679.8 868.6 L679.8 868.5 L680.2 868.5 L680.2 868.6 L680.6 868.6 L680.6 868.6 L681 868.6 L681 868.6 L681.4 868.6 L681.4 868.5 L681.8 868.5 L681.8 868.6 L682.2 868.6 L682.2 868.4 L682.6 868.4 L682.6 868.6 L683 868.6 L683 868.6 L683.4 868.6 L683.4 868.6 L683.8 868.6 L683.8 868.5 L684.2 868.5 L684.2 868.6 L684.6 868.6 L684.6 868.6 L685 868.6 L685 868.6 L685.4 868.6 L685.4 868.6 L685.8 868.6 L685.8 868.6 L686.2 868.6 L686.2 868.5 L686.6 868.5 L686.6 868.5 L687 868.5 L687 868.5 L687.4 868.5 L687.4 868.6 L687.8 868.6 L687.8 868.4 L688.2 868.4 L688.2 868.5 L688.6 868.5 L688.6 868.6 L689 868.6 L689 868.5 L689.4 868.5 L689.4 868.6 L689.8 868.6 L689.8 868.6 L690.2 868.6 L690.2 868.6 L690.6 868.6 L690.6 868.5 L691 868.5 L691 868.5 L691.4 868.5 L691.4 868.5 L691.8 868.5 L691.8 868.5 L692.2 868.5 L692.2 868.5 L692.6 868.5 L692.6 868.6 L693 868.6 L693 868.6 L693.4 868.6 L693.4 868.6 L693.8 868.6 L693.8 868.6 L694.2 868.6 L694.2 868.6 L694.6 868.6 L694.6 868.6 L695 868.6 L695 868.6 L695.4 868.6 L695.4 868.6 L695.8 868.6 L695.8 868.6 L696.2 868.6 L696.2 868.6 L696.6 868.6 L696.6 868.6 L697 868.6 L697 868.5 L697.4 868.5 L697.4 868.5 L697.8 868.5 L697.8 868.6 L698.2 868.6 L698.2 868.5 L698.6 868.5 L698.6 868.5 L699 868.5 L699 868.6 L699.4 868.6 L699.4 868.5 L699.8 868.5 L699.8 868.6 L700.2 868.6 L700.2 868.5 L700.6 868.5 L700.6 868.6 L701 868.6 L701 868.6 L701.4 868.6 L701 868.6 Z" fill="#3f9a4c"/>
<line x1="406.6" y1="775.8" x2="701.4" y2="775.8" stroke="#000" stroke-width="1.7"/>
<line x1="406.6" y1="802" x2="701.4" y2="802" stroke="#000" stroke-width="1.7"/>
<line x1="406.6" y1="842.7" x2="701.4" y2="842.7" stroke="#000" stroke-width="1.8"/>
<line x1="406.6" y1="868.6" x2="701.4" y2="868.6" stroke="#000" stroke-width="1.8"/>
<path d="M708.7 755.4H706.5V775.5H708.7" fill="none" stroke="#222" stroke-width="1.2"/>
<text x="710.8" y="759.3">80</text>
<text x="710.8" y="777.8">0</text>
<path d="M708.7 783.1H706.5V802.2H708.7" fill="none" stroke="#222" stroke-width="1.2"/>
<text x="710.8" y="787.6">80</text>
<text x="710.8" y="805">0</text>
<path d="M708.7 821.7H706.5V842H708.7" fill="none" stroke="#222" stroke-width="1.2"/>
<text x="710.8" y="824.8">40</text>
<text x="710.8" y="844.2">0</text>
<path d="M708.7 847.8H706.5V868.6H708.7" fill="none" stroke="#222" stroke-width="1.2"/>
<text x="710.8" y="853.1">200</text>
<text x="710.8" y="870.8">0</text>
</g>
<text x="762.5" y="621.9" font-size="18" font-weight="bold">e</text>
<rect x="822.6" y="640.4" width="122" height="176.5" fill="none" stroke="#222" stroke-width="1.3"/>
<line x1="819.5" y1="647" x2="822.6" y2="647" stroke="#222" stroke-width="1.1"/>
<text x="817.8" y="651" text-anchor="end">1.0</text>
<line x1="819.5" y1="687.9" x2="822.6" y2="687.9" stroke="#222" stroke-width="1.1"/>
<text x="817.8" y="691.9" text-anchor="end">0.5</text>
<line x1="819.5" y1="728.8" x2="822.6" y2="728.8" stroke="#222" stroke-width="1.1"/>
<text x="817.8" y="732.8" text-anchor="end">0</text>
<line x1="819.5" y1="769.7" x2="822.6" y2="769.7" stroke="#222" stroke-width="1.1"/>
<text x="817.8" y="773.7" text-anchor="end">−0.5</text>
<line x1="819.5" y1="810.9" x2="822.6" y2="810.9" stroke="#222" stroke-width="1.1"/>
<text x="817.8" y="814.9" text-anchor="end">−1.0</text>
<line x1="845.7" y1="816.9" x2="845.7" y2="820.2" stroke="#222" stroke-width="1.1"/>
<line x1="884" y1="816.9" x2="884" y2="820.2" stroke="#222" stroke-width="1.1"/>
<line x1="922.1" y1="816.9" x2="922.1" y2="820.2" stroke="#222" stroke-width="1.1"/>
<text x="844.2" y="832.1" text-anchor="middle">All</text>
<text x="844.2" y="845" text-anchor="middle">promoters</text>
<text x="883.3" y="832.1" text-anchor="middle">Gain</text>
<text x="922.5" y="832.1" text-anchor="middle">Loss</text>
<text x="776.3" y="731.7" font-size="11.2" text-anchor="middle" transform="rotate(-90 776.3 731.7)">Change in DNA methylation β-vale</text>
<text x="790" y="732" font-size="11.2" text-anchor="middle" transform="rotate(-90 790 732)">(cancer vs. normal)</text>
<line x1="845.7" y1="679.6" x2="845.7" y2="704.3" stroke="#222" stroke-width="1.3"/>
<line x1="838.3" y1="693.9" x2="854.1" y2="693.9" stroke="#222" stroke-width="1.3"/>
<rect x="830.4" y="704.3" width="31.1" height="7.4" fill="#2e3a8e" stroke="#111" stroke-width="0.8"/>
<line x1="838.3" y1="712.1" x2="854.1" y2="712.1" stroke="#111" stroke-width="1.1"/>
<line x1="830.4" y1="708.3" x2="861.5" y2="708.3" stroke="#1a2060" stroke-width="0.8"/>
<line x1="845.7" y1="744" x2="845.7" y2="762" stroke="#222" stroke-width="1.3"/>
<rect x="845" y="766.3" width="1.5" height="1.8" fill="#222"/>
<line x1="883.7" y1="704" x2="883.7" y2="713.6" stroke="#333" stroke-width="1.3"/>
<rect x="868.5" y="745.3" width="31.2" height="5.1" fill="#2f7d33" stroke="#111" stroke-width="0.8"/>
<line x1="884" y1="750.4" x2="884" y2="760" stroke="#222" stroke-width="1.3"/>
<line x1="876.5" y1="755.6" x2="891.7" y2="755.6" stroke="#222" stroke-width="1.3"/>
<line x1="876.5" y1="745.1" x2="891.7" y2="745.1" stroke="#111" stroke-width="1.1"/>
<line x1="922.2" y1="695.9" x2="922.2" y2="705.2" stroke="#222" stroke-width="1.3"/>
<line x1="914.3" y1="696.6" x2="929.6" y2="696.6" stroke="#222" stroke-width="1.3"/>
<rect x="906.3" y="705.2" width="31.4" height="6.5" fill="#cc3333" stroke="#111" stroke-width="0.8"/>
<line x1="914.3" y1="712.1" x2="929.6" y2="712.1" stroke="#111" stroke-width="1.1"/>
<line x1="906.3" y1="708.6" x2="937.7" y2="708.6" stroke="#6a1a1a" stroke-width="0.8"/>
<rect x="921.4" y="689.2" width="1.6" height="1.8" fill="#222"/>
<rect x="921.3" y="745.5" width="1.6" height="1.8" fill="#222"/>
</g></svg></body></html>
